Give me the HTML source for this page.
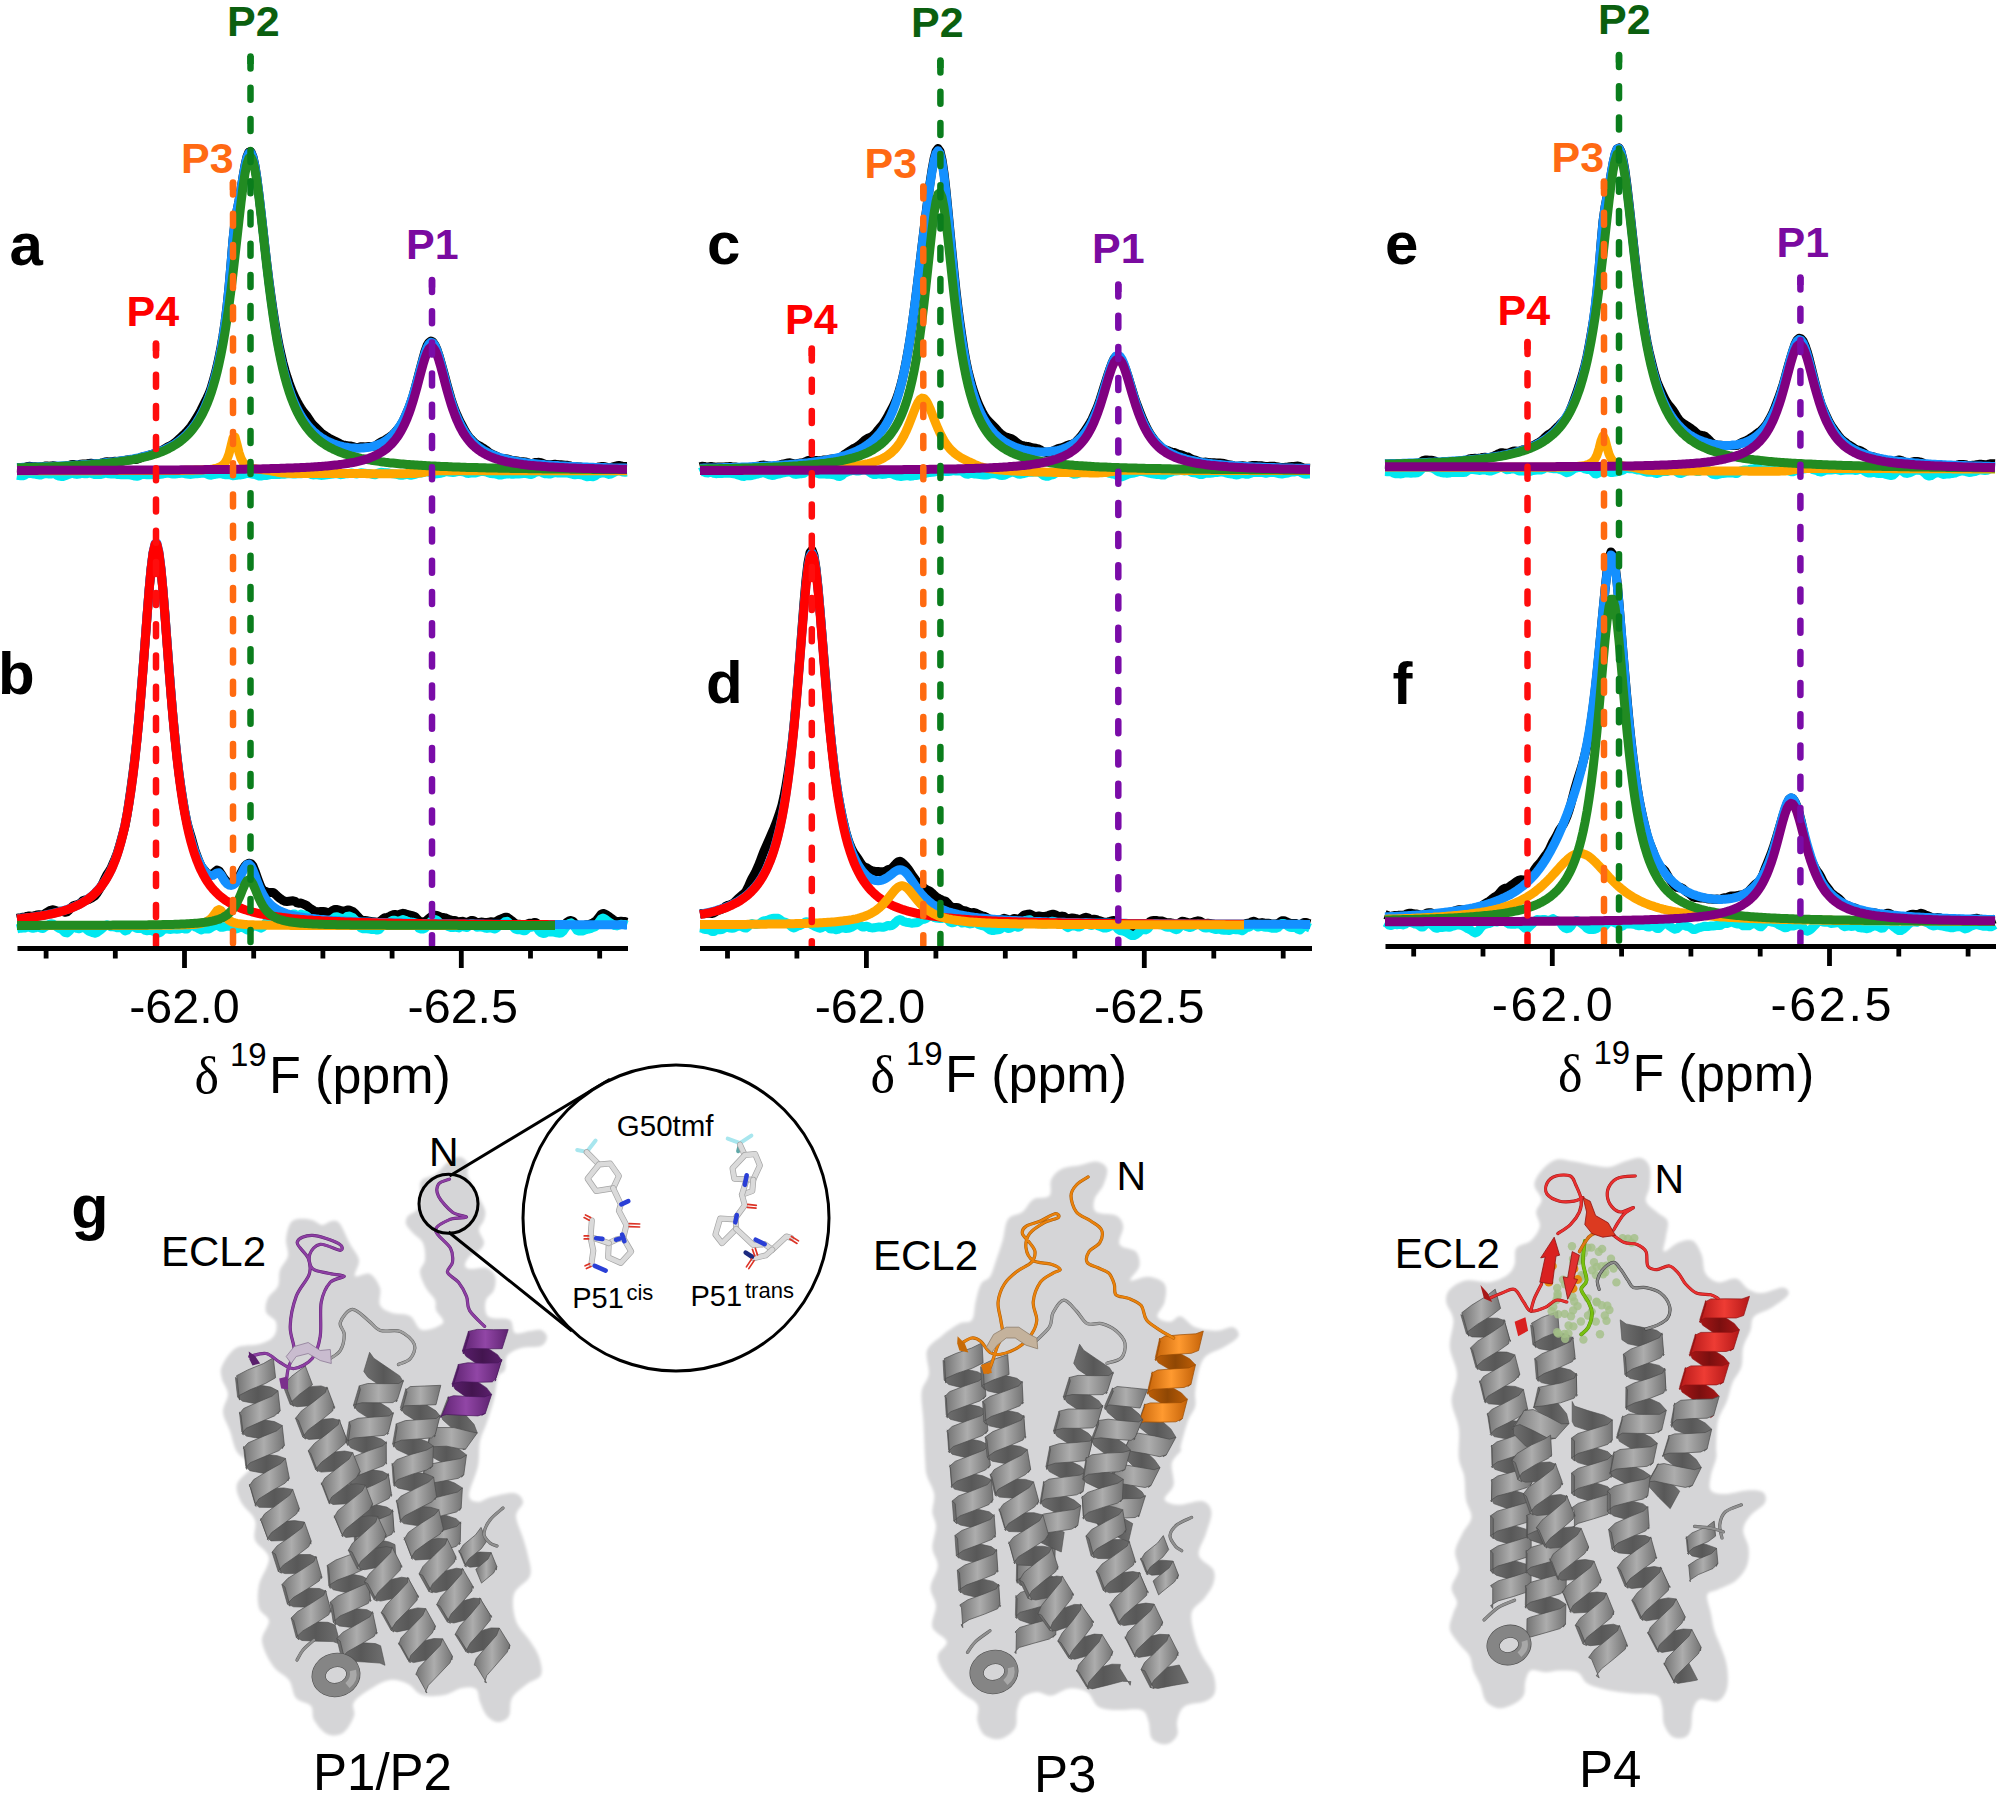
<!DOCTYPE html>
<html lang="en"><head><meta charset="utf-8"><title>Figure</title>
<style>html,body{margin:0;padding:0;background:#fff}svg{display:block}</style>
</head><body>
<svg width="2000" height="1796" viewBox="0 0 2000 1796" role="img" aria-label="19F NMR spectra and receptor models">
<rect width="2000" height="1796" fill="#fff"/>
<defs><filter id="soft" x="-5%" y="-5%" width="110%" height="110%"><feGaussianBlur stdDeviation="1.6"/></filter><linearGradient id="gyf" x1="0" y1="0" x2="1" y2="0"><stop offset="0" stop-color="#747474"/><stop offset="0.5" stop-color="#adadad"/><stop offset="1" stop-color="#747474"/></linearGradient><linearGradient id="gyfv" x1="0" y1="0" x2="0" y2="1"><stop offset="0" stop-color="#747474"/><stop offset="0.5" stop-color="#adadad"/><stop offset="1" stop-color="#747474"/></linearGradient><linearGradient id="gyb" x1="0" y1="0" x2="1" y2="0"><stop offset="0" stop-color="#707070"/><stop offset="0.5" stop-color="#585858"/><stop offset="1" stop-color="#707070"/></linearGradient><linearGradient id="gybv" x1="0" y1="0" x2="0" y2="1"><stop offset="0" stop-color="#707070"/><stop offset="0.5" stop-color="#585858"/><stop offset="1" stop-color="#707070"/></linearGradient><linearGradient id="puf" x1="0" y1="0" x2="1" y2="0"><stop offset="0" stop-color="#5e2270"/><stop offset="0.5" stop-color="#9146a6"/><stop offset="1" stop-color="#5e2270"/></linearGradient><linearGradient id="pufv" x1="0" y1="0" x2="0" y2="1"><stop offset="0" stop-color="#5e2270"/><stop offset="0.5" stop-color="#9146a6"/><stop offset="1" stop-color="#5e2270"/></linearGradient><linearGradient id="pub" x1="0" y1="0" x2="1" y2="0"><stop offset="0" stop-color="#5a1f6c"/><stop offset="0.5" stop-color="#43154f"/><stop offset="1" stop-color="#5a1f6c"/></linearGradient><linearGradient id="pubv" x1="0" y1="0" x2="0" y2="1"><stop offset="0" stop-color="#5a1f6c"/><stop offset="0.5" stop-color="#43154f"/><stop offset="1" stop-color="#5a1f6c"/></linearGradient><linearGradient id="ogf" x1="0" y1="0" x2="1" y2="0"><stop offset="0" stop-color="#c46208"/><stop offset="0.5" stop-color="#ff9a30"/><stop offset="1" stop-color="#c46208"/></linearGradient><linearGradient id="ogfv" x1="0" y1="0" x2="0" y2="1"><stop offset="0" stop-color="#c46208"/><stop offset="0.5" stop-color="#ff9a30"/><stop offset="1" stop-color="#c46208"/></linearGradient><linearGradient id="ogb" x1="0" y1="0" x2="1" y2="0"><stop offset="0" stop-color="#bd5e06"/><stop offset="0.5" stop-color="#8f4704"/><stop offset="1" stop-color="#bd5e06"/></linearGradient><linearGradient id="ogbv" x1="0" y1="0" x2="0" y2="1"><stop offset="0" stop-color="#bd5e06"/><stop offset="0.5" stop-color="#8f4704"/><stop offset="1" stop-color="#bd5e06"/></linearGradient><linearGradient id="rdf" x1="0" y1="0" x2="1" y2="0"><stop offset="0" stop-color="#b41818"/><stop offset="0.5" stop-color="#ee3c34"/><stop offset="1" stop-color="#b41818"/></linearGradient><linearGradient id="rdfv" x1="0" y1="0" x2="0" y2="1"><stop offset="0" stop-color="#b41818"/><stop offset="0.5" stop-color="#ee3c34"/><stop offset="1" stop-color="#b41818"/></linearGradient><linearGradient id="rdb" x1="0" y1="0" x2="1" y2="0"><stop offset="0" stop-color="#a81616"/><stop offset="0.5" stop-color="#7a0f0f"/><stop offset="1" stop-color="#a81616"/></linearGradient><linearGradient id="rdbv" x1="0" y1="0" x2="0" y2="1"><stop offset="0" stop-color="#a81616"/><stop offset="0.5" stop-color="#7a0f0f"/><stop offset="1" stop-color="#a81616"/></linearGradient></defs>
<path d="M290,1224C292,1220.5 294.3,1219.7 298,1219C301.7,1218.3 308,1219 312,1220C316,1221 318.7,1224.8 322,1225C325.3,1225.2 329,1221.2 332,1221C335,1220.8 337,1220.2 340,1224C343,1227.8 346.8,1238 350,1244C353.2,1250 358.2,1254.7 359,1260C359.8,1265.3 353.2,1273.7 355,1276C356.8,1278.3 365.8,1272 370,1274C374.2,1276 378.3,1282.8 380,1288C381.7,1293.2 378,1300.8 380,1305C382,1309.2 387,1311.2 392,1313C397,1314.8 405,1313.2 410,1316C415,1318.8 416.5,1328.8 422,1330C427.5,1331.2 440.7,1326.3 443,1323C445.3,1319.7 437.3,1313.8 436,1310C434.7,1306.2 436.7,1303.7 435,1300C433.3,1296.3 428.5,1292.7 426,1288C423.5,1283.3 420.2,1276.7 420,1272C419.8,1267.3 424.5,1264.8 425,1260C425.5,1255.2 425,1247.5 423,1243C421,1238.5 415.8,1236.2 413,1233C410.2,1229.8 406.8,1226.8 406,1224C405.2,1221.2 406.3,1218.2 408,1216C409.7,1213.8 414,1213 416,1211C418,1209 419.3,1207.5 420,1204C420.7,1200.5 419.7,1194 420,1190C420.3,1186 419.3,1182.7 422,1180C424.7,1177.3 431.7,1177 436,1174C440.3,1171 444,1164.8 448,1162C452,1159.2 456.7,1156.7 460,1157C463.3,1157.3 466.7,1160.8 468,1164C469.3,1167.2 466.3,1170.7 468,1176C469.7,1181.3 475.2,1190.3 478,1196C480.8,1201.7 484,1206 485,1210C486,1214 485,1216.7 484,1220C483,1223.3 479,1226.3 479,1230C479,1233.7 483.8,1238.7 484,1242C484.2,1245.3 482.3,1247.7 480,1250C477.7,1252.3 472.5,1253.5 470,1256C467.5,1258.5 465,1262.8 465,1265C465,1267.2 466.5,1268.5 470,1269C473.5,1269.5 481.8,1266.8 486,1268C490.2,1269.2 493.7,1272.3 495,1276C496.3,1279.7 495.5,1286 494,1290C492.5,1294 487.3,1296.2 486,1300C484.7,1303.8 485,1310 486,1313C487,1316 488,1316.8 492,1318C496,1319.2 506.2,1317.5 510,1320C513.8,1322.5 511.7,1331.2 515,1333C518.3,1334.8 525.7,1331.5 530,1331C534.3,1330.5 538.2,1329 541,1330C543.8,1331 547,1334.3 547,1337C547,1339.7 545.3,1344.2 541,1346C536.7,1347.8 526.7,1346.3 521,1348C515.3,1349.7 509.7,1352.3 507,1356C504.3,1359.7 506.5,1366.5 505,1370C503.5,1373.5 499.8,1372.2 498,1377C496.2,1381.8 495.8,1391.5 494,1399C492.2,1406.5 489.3,1415 487,1422C484.7,1429 481.5,1433.7 480,1441C478.5,1448.3 479.8,1457 478,1466C476.2,1475 469,1489 469,1495C469,1501 474.3,1501.7 478,1502C481.7,1502.3 485,1498.5 491,1497C497,1495.5 508.7,1492.2 514,1493C519.3,1493.8 522.7,1498.2 523,1502C523.3,1505.8 516,1510 516,1516C516,1522 521,1531.3 523,1538C525,1544.7 526.8,1549.7 528,1556C529.2,1562.3 532.3,1569.7 530,1576C527.7,1582.3 516.3,1586.5 514,1594C511.7,1601.5 513.3,1613.2 516,1621C518.7,1628.8 526.2,1635 530,1641C533.8,1647 537.2,1651.3 539,1657C540.8,1662.7 543,1670.5 541,1675C539,1679.5 531.8,1680.2 527,1684C522.2,1687.8 515,1692.7 512,1698C509,1703.3 511.3,1712 509,1716C506.7,1720 501.7,1722 498,1722C494.3,1722 490,1719.3 487,1716C484,1712.7 481.8,1706.5 480,1702C478.2,1697.5 479,1691.3 476,1689C473,1686.7 467.3,1687 462,1688C456.7,1689 450.7,1693.8 444,1695C437.3,1696.2 428,1696.8 422,1695C416,1693.2 413.3,1686.5 408,1684C402.7,1681.5 396,1679.3 390,1680C384,1680.7 378,1684.3 372,1688C366,1691.7 357,1697.3 354,1702C351,1706.7 355.8,1710.8 354,1716C352.2,1721.2 347.5,1730 343,1733C338.5,1736 331.8,1736.2 327,1734C322.2,1731.8 316.7,1724.7 314,1720C311.3,1715.3 314,1709.7 311,1706C308,1702.3 299.7,1702.3 296,1698C292.3,1693.7 292.8,1685.3 289,1680C285.2,1674.7 277.5,1672.5 273,1666C268.5,1659.5 262.7,1648.5 262,1641C261.3,1633.5 269.5,1626.5 269,1621C268.5,1615.5 260.7,1614 259,1608C257.3,1602 257.3,1593.3 259,1585C260.7,1576.7 269.7,1565.5 269,1558C268.3,1550.5 257.3,1546.3 255,1540C252.7,1533.7 257.3,1526.3 255,1520C252.7,1513.7 244,1508 241,1502C238,1496 235.3,1490 237,1484C238.7,1478 251,1471.3 251,1466C251,1460.7 240.5,1457.8 237,1452C233.5,1446.2 232.3,1437.7 230,1431C227.7,1424.3 223.3,1418.2 223,1412C222.7,1405.8 228.2,1399.5 228,1394C227.8,1388.5 223,1383.7 222,1379C221,1374.3 219.7,1371.2 222,1366C224.3,1360.8 229.7,1351.7 236,1348C242.3,1344.3 253.7,1346 260,1344C266.3,1342 271.3,1339.7 274,1336C276.7,1332.3 277.3,1326 276,1322C274.7,1318 267.3,1316 266,1312C264.7,1308 266,1302.3 268,1298C270,1293.7 276,1290.7 278,1286C280,1281.3 278.3,1275 280,1270C281.7,1265 287,1261 288,1256C289,1251 285.7,1245.3 286,1240C286.3,1234.7 288,1227.5 290,1224Z" fill="#d5d5d7" filter="url(#soft)"/>
<path d="M235.4,1377.4L240.4,1381.4L255.2,1384.3L270.9,1387.1L278,1390.8L275.4,1394.1L277.8,1414L280.2,1410.7L273.2,1406.9L257.5,1404.1L242.6,1401.2L237.6,1397.2Z" fill="url(#gyb)" stroke="#4c4c4c" stroke-width="0.6"/>
<path d="M239.4,1412.1L243.8,1416.2L258.4,1419L274.5,1421.6L282.2,1425.5L280.1,1428.8L282.2,1448.7L284.4,1445.3L276.9,1441.4L261,1438.8L246.3,1436.1L241.8,1432Z" fill="url(#gyb)" stroke="#4c4c4c" stroke-width="0.6"/>
<path d="M243.5,1446.5L247.3,1450.9L261.5,1453.7L277.4,1455.7L285.4,1458.4L283.7,1461.5L287.9,1481.1L289.3,1478L280.8,1475.4L264.4,1473.5L249.8,1470.7L245.7,1466.3Z" fill="url(#gyb)" stroke="#4c4c4c" stroke-width="0.6"/>
<path d="M249.3,1484.2L253.2,1488.2L267.4,1488.6L283.7,1487.9L292.7,1489.4L292,1492.7L298.7,1511.6L299.3,1508.3L290.1,1506.8L273.6,1507.6L259.1,1507.3L254.8,1503.4Z" fill="url(#gyb)" stroke="#4c4c4c" stroke-width="0.6"/>
<path d="M260.4,1518.7L264.1,1522.2L278.1,1521.8L294.6,1520.6L304.4,1522L304.2,1525.4L310.9,1544.2L311.1,1540.8L301.5,1539.4L285,1540.6L271,1540.9L267.3,1537.4Z" fill="url(#gyb)" stroke="#4c4c4c" stroke-width="0.6"/>
<path d="M272,1552.2L279,1554.5L294.8,1554.4L310.3,1554.6L316.7,1557.6L316,1559.4L321.5,1578.6L322.2,1576.8L316,1573.8L300.6,1573.6L284.9,1573.6L278.1,1571.2Z" fill="url(#gyb)" stroke="#4c4c4c" stroke-width="0.6"/>
<path d="M281.9,1584.6L288.3,1587.6L303.8,1588L319.5,1588.5L326.3,1591.4L325.7,1593.1L330.8,1612.5L331.4,1610.7L324.7,1607.8L309.1,1607.3L293.6,1606.8L287.3,1603.9Z" fill="url(#gyb)" stroke="#4c4c4c" stroke-width="0.6"/>
<path d="M291.1,1618L296.9,1621.2L312.1,1621.8L328,1622.3L335.1,1625L340.4,1644.3L333.1,1641.6L317.2,1641.2L302,1640.5L296.2,1637.3Z" fill="url(#gyb)" stroke="#4c4c4c" stroke-width="0.6"/>
<path d="M273.3,1357.8L263.4,1363.6L247.8,1369.9L236.6,1375.7L237.3,1380.2L239.5,1400.1L238.9,1395.6L250,1389.8L265.6,1383.4L275.6,1377.7Z" fill="url(#gyf)" stroke="#4c4c4c" stroke-width="0.7" stroke-linejoin="round"/>
<path d="M278,1390.8L272.2,1396L257.6,1402.3L243.6,1408.5L239.4,1413.7L240.9,1415L243.4,1434.9L241.9,1433.5L246,1428.4L259.9,1422.1L274.5,1415.9L280.2,1410.7Z" fill="url(#gyf)" stroke="#4c4c4c" stroke-width="0.7" stroke-linejoin="round"/>
<path d="M282.2,1425.5L277,1430.7L262.5,1436.7L248.2,1442.8L243.3,1448.1L244.6,1449.6L247,1469.4L245.6,1468L250.3,1462.7L264.5,1456.6L279,1450.6L284.4,1445.3Z" fill="url(#gyf)" stroke="#4c4c4c" stroke-width="0.7" stroke-linejoin="round"/>
<path d="M285.4,1458.4L280.9,1463.5L267.3,1471.2L253.7,1479.6L249.1,1486L250.5,1487.3L256.2,1506.4L254.8,1505.2L258.9,1498.9L272.1,1490.6L285.2,1483.1L289.3,1478Z" fill="url(#gyf)" stroke="#4c4c4c" stroke-width="0.7" stroke-linejoin="round"/>
<path d="M292.7,1489.4L289.7,1495.1L277.5,1504.3L264.7,1513.8L260.3,1520.3L261.5,1521.5L268.4,1540.3L267.2,1539.1L271.6,1532.6L284.4,1523.1L296.5,1514L299.3,1508.3Z" fill="url(#gyf)" stroke="#4c4c4c" stroke-width="0.7" stroke-linejoin="round"/>
<path d="M304.4,1522L302.1,1527.7L290.2,1536.8L277.1,1545.9L272,1552.2L275.4,1554.1L281.4,1573.2L278.1,1571.2L283.5,1564.9L296.8,1555.7L308.8,1546.6L311.1,1540.8Z" fill="url(#gyf)" stroke="#4c4c4c" stroke-width="0.7" stroke-linejoin="round"/>
<path d="M315.9,1556.2L313.9,1561.6L301.7,1569.8L287.9,1578.3L281.9,1584.6L284.9,1586.9L290.1,1606.2L287.3,1603.9L293.3,1597.6L307.2,1589L319.4,1580.8L321.5,1575.4Z" fill="url(#gyf)" stroke="#4c4c4c" stroke-width="0.7" stroke-linejoin="round"/>
<path d="M325.4,1590.1L323.7,1595.2L311.7,1603.1L297.6,1611.6L291.1,1618L293.6,1620.5L298.7,1639.8L296.2,1637.3L302.8,1630.9L316.9,1622.5L328.9,1614.6L330.6,1609.4Z" fill="url(#gyf)" stroke="#4c4c4c" stroke-width="0.7" stroke-linejoin="round"/>
<path d="M327.2,1565.4L331.7,1569.8L346.6,1573.1L362.4,1576.3L369.2,1580.1L368.4,1581.7L370.5,1601.6L371.2,1600L364.3,1596.2L348.3,1593.1L333.3,1589.7L328.8,1585.4Z" fill="url(#gyb)" stroke="#4c4c4c" stroke-width="0.6"/>
<path d="M330.1,1602.2L335.9,1606.3L351.4,1608.2L367,1609.7L373.2,1613L372.3,1614.7L376.6,1634.2L377.4,1632.5L371.1,1629.3L355.2,1627.9L339.4,1626L333.2,1621.9Z" fill="url(#gyb)" stroke="#4c4c4c" stroke-width="0.6"/>
<path d="M336.8,1638.6L343.9,1641.6L360,1642.5L375.5,1643.6L380.6,1645.8L385,1665.3L380,1663.1L364.7,1662L348.6,1661.1L341.5,1658Z" fill="url(#gyb)" stroke="#4c4c4c" stroke-width="0.6"/>
<path d="M364,1548.4L351.5,1554.2L335.7,1560.1L327.2,1565.4L328.7,1568.4L330.3,1588.4L328.8,1585.4L337.3,1580.1L353.1,1574.2L365.8,1568.3Z" fill="url(#gyf)" stroke="#4c4c4c" stroke-width="0.7" stroke-linejoin="round"/>
<path d="M368.3,1578.7L366.2,1583.4L353,1589.4L337.6,1596.1L330.1,1602.2L332.5,1605.2L335.9,1624.9L333.2,1621.9L340.2,1615.9L355.4,1609.3L368.4,1603.3L370.3,1598.6Z" fill="url(#gyf)" stroke="#4c4c4c" stroke-width="0.7" stroke-linejoin="round"/>
<path d="M372.5,1611.6L370,1616.7L357,1624.3L342.7,1632.4L336.8,1638.6L340.2,1641L344.9,1660.4L341.5,1658L347.2,1651.9L361.5,1643.8L374.3,1636.2L376.7,1631.1Z" fill="url(#gyf)" stroke="#4c4c4c" stroke-width="0.7" stroke-linejoin="round"/>
<path d="M369.6,1352.3L373.8,1358.2L386.8,1367.1L399.7,1375.9L403.3,1381.8L401.7,1382.8L395.8,1401.9L397.4,1400.9L393.6,1395L380.8,1386.1L367.9,1377.3L363.8,1371.4Z" fill="url(#gyb)" stroke="#4c4c4c" stroke-width="0.6"/>
<path d="M359.2,1385.9L363.1,1391.9L376.1,1400.3L389.3,1408.5L393.4,1414L392,1415.1L387.2,1434.6L388.6,1433.4L384.2,1427.8L370.8,1419.6L357.6,1411.1L353.5,1405Z" fill="url(#gyb)" stroke="#4c4c4c" stroke-width="0.6"/>
<path d="M349.1,1421.9L353.2,1427.9L367.1,1434.2L381.4,1439.1L386.7,1443L385.5,1444.3L386.1,1464.3L386.9,1463L380.9,1459.1L365.6,1454.1L350.8,1447.8L345.9,1441.7Z" fill="url(#gyb)" stroke="#4c4c4c" stroke-width="0.6"/>
<path d="M346.1,1462.5L351.6,1466.7L366.8,1469.1L382.4,1471.3L389,1475L388.4,1476.7L391.3,1496.5L392,1494.7L385.5,1491L369.9,1488.9L354.5,1486.5L348.6,1482.4Z" fill="url(#gyb)" stroke="#4c4c4c" stroke-width="0.6"/>
<path d="M351.1,1496.1L356.3,1500.3L371.3,1503.7L386.8,1507.1L393.3,1511.2L392.5,1512.8L394,1532.7L394.7,1531.1L388.3,1527L372.8,1523.6L357.8,1520.2L352.6,1516Z" fill="url(#gyb)" stroke="#4c4c4c" stroke-width="0.6"/>
<path d="M353.8,1530.8L358.8,1535L373.6,1538.5L389.2,1542L395,1544.6L396.5,1564.5L390.7,1561.9L375.1,1558.5L360.2,1555L355.2,1550.8Z" fill="url(#gyb)" stroke="#4c4c4c" stroke-width="0.6"/>
<path d="M403.5,1380.2L398.8,1383.5L384,1383.7L367.7,1383.5L359.2,1385.9L360.4,1389.5L354.9,1408.7L353.5,1405L361.9,1402.7L378.2,1402.8L392.9,1402.6L397.5,1399.3Z" fill="url(#gyf)" stroke="#4c4c4c" stroke-width="0.7" stroke-linejoin="round"/>
<path d="M393.4,1412.6L389.1,1415.9L374.4,1417L357.8,1418.3L349.1,1421.9L350.4,1425.7L347.8,1445.6L345.9,1441.7L354,1438L370.1,1436.6L384.5,1435.3L388.5,1431.9Z" fill="url(#gyf)" stroke="#4c4c4c" stroke-width="0.7" stroke-linejoin="round"/>
<path d="M386.3,1441.7L383,1445.7L369.1,1450.6L353.5,1456.7L346.1,1462.5L348.4,1465.5L351.1,1485.3L348.6,1482.4L355.6,1476.6L370.6,1470.6L383.7,1465.6L386.3,1461.7Z" fill="url(#gyf)" stroke="#4c4c4c" stroke-width="0.7" stroke-linejoin="round"/>
<path d="M388.2,1473.5L386.2,1478.6L373.5,1485.1L358.6,1491.2L351.1,1496.1L353.2,1499L354.7,1518.9L352.6,1516L360.4,1511.1L376,1504.9L389.1,1498.4L391.3,1493.3Z" fill="url(#gyf)" stroke="#4c4c4c" stroke-width="0.7" stroke-linejoin="round"/>
<path d="M392.5,1509.7L390.3,1514.5L377.1,1520L361.6,1525.7L353.8,1530.8L355.7,1533.8L357.1,1553.7L355.2,1550.8L363.1,1545.7L378.6,1540L391.7,1534.4L394,1529.7Z" fill="url(#gyf)" stroke="#4c4c4c" stroke-width="0.7" stroke-linejoin="round"/>
<path d="M468.4,1331.4L471.8,1337.2L484.5,1345.9L497.6,1354.7L502.1,1360.9L500.8,1362.1L494.9,1381.2L496.2,1380L491.7,1373.8L478.5,1365L465.9,1356.3L462.5,1350.5Z" fill="url(#pub)" stroke="#46175a" stroke-width="0.6"/>
<path d="M458.3,1364.5L461.1,1370.2L473.4,1378.9L486.7,1387.9L491.6,1394.4L488.1,1396.5L481.7,1415.5L485.3,1413.4L480.5,1407L467.3,1397.9L455,1389.2L452.2,1383.6Z" fill="url(#pub)" stroke="#46175a" stroke-width="0.6"/>
<path d="M448.3,1396.6L450.9,1401.5L462.5,1411.6L474,1424.3L477.3,1432.9L473.8,1432.9L462.9,1449.7L465.6,1449.1L463,1441L453,1429.1L442.7,1419.8L441.1,1415.2Z" fill="url(#gyb)" stroke="#4c4c4c" stroke-width="0.6"/>
<path d="M431.1,1429.7L432.7,1435.4L445,1442.7L459.6,1449.6L466.5,1454.9L464.1,1457.4L461.6,1477.3L463.8,1474.7L456.5,1469.3L441.5,1462.3L428.6,1455L426.3,1449.1Z" fill="url(#gyb)" stroke="#4c4c4c" stroke-width="0.6"/>
<path d="M424.2,1466.6L426.3,1471.5L439.3,1477.3L454.6,1483L462.4,1487.9L460.6,1490.7L459.6,1510.6L461.2,1507.9L453,1503L437.5,1497.2L424.5,1491.4L422.3,1486.6Z" fill="url(#gyb)" stroke="#4c4c4c" stroke-width="0.6"/>
<path d="M420.5,1504.1L426.6,1508.9L441.7,1513.9L456.1,1518.7L460.9,1523.3L459.5,1524.8L459.1,1544.8L460.5,1543.3L455.7,1538.7L441.2,1533.8L426.1,1528.9L419.9,1524.1Z" fill="url(#gyb)" stroke="#4c4c4c" stroke-width="0.6"/>
<path d="M508.2,1329.6L493.7,1329.7L477.3,1329.4L468.4,1331.4L469.3,1334.9L463.4,1354L462.5,1350.5L471.3,1348.5L487.7,1348.8L502.1,1348.7Z" fill="url(#puf)" stroke="#46175a" stroke-width="0.7" stroke-linejoin="round"/>
<path d="M501.9,1359.2L498.2,1362.8L484.1,1363.2L467.6,1362.8L458.3,1364.5L458.8,1367.9L452.7,1386.9L452.2,1383.6L461.6,1381.8L478.1,1382.3L492.3,1381.9L496,1378.3Z" fill="url(#puf)" stroke="#46175a" stroke-width="0.7" stroke-linejoin="round"/>
<path d="M491.6,1394.4L484.4,1396.9L468.6,1396.4L453.5,1395.7L447.9,1397.6L448.8,1399.3L440.9,1417.7L440.3,1416.2L446.6,1414.5L462.1,1415.3L478,1415.9L485.3,1413.4Z" fill="url(#puf)" stroke="#46175a" stroke-width="0.7" stroke-linejoin="round"/>
<path d="M477.3,1432.9L470.2,1431.6L454,1427.6L437.2,1427.5L430.1,1431.3L430.7,1433.2L426.4,1452.7L425.6,1450.8L431.8,1446.8L446.6,1446.2L460.2,1448.9L465.6,1449.1Z" fill="url(#gyf)" stroke="#4c4c4c" stroke-width="0.7" stroke-linejoin="round"/>
<path d="M466.5,1454.9L460.8,1458.5L445.6,1461.2L430,1464.1L423.5,1468.1L424.2,1469.8L422.3,1489.7L421.5,1488L428,1484L443.4,1481L458.4,1478.3L463.8,1474.7Z" fill="url(#gyf)" stroke="#4c4c4c" stroke-width="0.7" stroke-linejoin="round"/>
<path d="M462.4,1487.9L457.6,1492L442.9,1495.8L427.4,1499.7L420.5,1504.1L423.2,1507.3L422.7,1527.3L419.9,1524.1L426.7,1519.7L442.1,1515.7L456.6,1511.9L461.2,1507.9Z" fill="url(#gyf)" stroke="#4c4c4c" stroke-width="0.7" stroke-linejoin="round"/>
<path d="M460.7,1521.8L456.8,1526.3L442.6,1530.5L427,1534.6L426.4,1554.6L442.1,1550.5L456.4,1546.3L460.3,1541.8Z" fill="url(#gyf)" stroke="#4c4c4c" stroke-width="0.7" stroke-linejoin="round"/>
<path d="M283.1,1385.8L290.1,1388L305.6,1386.9L321.1,1385.9L327.8,1388.2L327.3,1390L334.4,1408.6L334.9,1406.8L328.2,1404.6L312.8,1405.6L297.2,1406.7L290.2,1404.5Z" fill="url(#gyb)" stroke="#4c4c4c" stroke-width="0.6"/>
<path d="M295.5,1418.3L301.8,1420.7L317,1419.7L332.8,1418.5L340.2,1420.5L339.9,1422.2L347.2,1440.8L347.4,1439.1L340,1437.2L324.2,1438.4L308.9,1439.4L302.7,1436.9Z" fill="url(#gyb)" stroke="#4c4c4c" stroke-width="0.6"/>
<path d="M308.2,1450.8L313.7,1453.5L328.6,1452.5L344.6,1451L352.7,1452.6L351.5,1456.4L358.9,1475L360.1,1471.2L352,1469.5L336,1471.1L321.1,1472.1L315.5,1469.4Z" fill="url(#gyb)" stroke="#4c4c4c" stroke-width="0.6"/>
<path d="M321.1,1482.8L325.8,1485.9L340.4,1485.1L356.6,1483.7L365.3,1485.1L364.5,1488.6L371.9,1507.2L372.6,1503.7L363.8,1502.4L347.5,1503.8L333,1504.5L328.3,1501.5Z" fill="url(#gyb)" stroke="#4c4c4c" stroke-width="0.6"/>
<path d="M334,1515.7L338.1,1519L352.1,1518L368.3,1515.8L377.7,1516.4L377.6,1519.6L386,1537.8L386,1534.6L376.5,1534L360.1,1536.3L345.9,1537.4L341.7,1534.1Z" fill="url(#gyb)" stroke="#4c4c4c" stroke-width="0.6"/>
<path d="M348.3,1550.3L355.7,1551.9L371.1,1549.2L386.2,1546.5L392.8,1548L392.4,1549.9L401.7,1567.6L402.1,1565.8L395.4,1564.2L380.2,1567L364.7,1569.7L357.2,1568.3Z" fill="url(#gyb)" stroke="#4c4c4c" stroke-width="0.6"/>
<path d="M364.4,1581.9L371.2,1583.5L386.2,1580.5L401.6,1577.2L409,1578.3L408.9,1580.1L418.5,1597.6L418.6,1595.8L411.2,1594.8L395.8,1598L380.7,1601.1L373.9,1599.5Z" fill="url(#gyb)" stroke="#4c4c4c" stroke-width="0.6"/>
<path d="M381.2,1612.6L387.3,1614.4L402,1611.4L417.6,1607.9L425.7,1608.6L424.8,1612.5L434.6,1630L435.4,1626L427.4,1625.3L411.8,1628.9L397,1631.9L390.9,1630.1Z" fill="url(#gyb)" stroke="#4c4c4c" stroke-width="0.6"/>
<path d="M398.3,1642.9L403.7,1645.1L418.1,1642.2L433.9,1638.5L442.6,1638.8L442.2,1642.5L452,1659.9L452.4,1656.2L443.7,1656L427.9,1659.7L413.5,1662.6L408.1,1660.4Z" fill="url(#gyb)" stroke="#4c4c4c" stroke-width="0.6"/>
<path d="M305.3,1366L291.9,1376L283.5,1384.1L286.5,1387.8L293.6,1406.4L290.6,1402.7L299,1394.7L312.5,1384.7Z" fill="url(#gyf)" stroke="#4c4c4c" stroke-width="0.7" stroke-linejoin="round"/>
<path d="M326.9,1386.9L325.5,1392.3L314.2,1401.4L301.2,1411.2L295.5,1418.3L298.4,1420.4L305.6,1439.1L302.7,1436.9L308.3,1429.9L321.4,1420.1L332.6,1411L334,1405.6Z" fill="url(#gyf)" stroke="#4c4c4c" stroke-width="0.7" stroke-linejoin="round"/>
<path d="M339,1419.3L338.4,1424.4L327.6,1433.4L314.5,1443.4L308.2,1450.8L310.5,1453.1L317.9,1471.7L315.5,1469.4L321.7,1462.1L334.9,1452.1L345.6,1443L346.2,1438Z" fill="url(#gyf)" stroke="#4c4c4c" stroke-width="0.7" stroke-linejoin="round"/>
<path d="M352.7,1452.6L349,1459.1L336.7,1468.7L324.6,1478.3L321.3,1484.4L322.9,1485.4L330.1,1504L328.5,1503L331.8,1496.9L344,1487.4L356.3,1477.7L360.1,1471.2Z" fill="url(#gyf)" stroke="#4c4c4c" stroke-width="0.7" stroke-linejoin="round"/>
<path d="M365.3,1485.1L362.2,1491.1L350.2,1500.8L337.9,1510.7L334,1517.4L335.4,1518.5L343.1,1536.9L341.7,1535.8L345.5,1529.2L357.7,1519.3L369.6,1509.7L372.6,1503.7Z" fill="url(#gyf)" stroke="#4c4c4c" stroke-width="0.7" stroke-linejoin="round"/>
<path d="M377.7,1516.4L375.6,1522.2L364.5,1532.3L352.5,1543.1L348.3,1550.3L352,1552L360.9,1569.9L357.2,1568.3L361.2,1561.1L373,1550.4L384,1540.3L386,1534.6Z" fill="url(#gyf)" stroke="#4c4c4c" stroke-width="0.7" stroke-linejoin="round"/>
<path d="M391.9,1546.9L390.8,1552.4L380.6,1562.9L369,1574.3L364.4,1581.9L367.7,1583.6L377.2,1601.2L373.9,1599.5L378.4,1591.9L390,1580.6L400.2,1570.1L401.1,1564.6Z" fill="url(#gyf)" stroke="#4c4c4c" stroke-width="0.7" stroke-linejoin="round"/>
<path d="M407.7,1577.3L407.6,1582.5L397.9,1593L386.3,1604.6L381.2,1612.6L384,1614.5L393.8,1632L390.9,1630.1L396,1622.1L407.6,1610.5L417.2,1600L417.4,1594.8Z" fill="url(#gyf)" stroke="#4c4c4c" stroke-width="0.7" stroke-linejoin="round"/>
<path d="M425.7,1608.6L422.6,1615.5L411.6,1626.8L401,1637.9L398.8,1644.4L400.7,1645.1L410.5,1662.5L408.7,1661.8L410.8,1655.4L421.4,1644.3L432.3,1632.9L435.4,1626Z" fill="url(#gyf)" stroke="#4c4c4c" stroke-width="0.7" stroke-linejoin="round"/>
<path d="M442.6,1638.8L440.2,1645.4L429.5,1656.6L418.7,1667.8L415.8,1674.5L417.3,1675.4L427,1692.9L425.5,1692L428.4,1685.3L439.3,1674L450,1662.8L452.4,1656.2Z" fill="url(#gyf)" stroke="#4c4c4c" stroke-width="0.7" stroke-linejoin="round"/>
<path d="M405.9,1388.5L409.7,1394.3L422.7,1402.6L435.9,1410.8L440.4,1416.5L439.1,1417.6L434.2,1437L435.5,1435.9L430.8,1430.2L417.4,1421.9L404.3,1413.6L400.4,1407.7Z" fill="url(#gyb)" stroke="#4c4c4c" stroke-width="0.6"/>
<path d="M396.2,1423.9L399.6,1429.6L412.9,1436.2L427.3,1441.7L433.4,1446.1L430.3,1448.7L430,1468.7L432.7,1466.1L426.1,1461.7L410.8,1456.1L396.7,1449.4L392.7,1443.6Z" fill="url(#gyb)" stroke="#4c4c4c" stroke-width="0.6"/>
<path d="M392,1463.3L396,1468L410.2,1471.3L426,1473.8L433.6,1477L431.6,1480.1L434.9,1499.8L436.6,1496.7L428.7,1493.6L412.5,1491.2L397.8,1487.9L393.3,1483.3Z" fill="url(#gyb)" stroke="#4c4c4c" stroke-width="0.6"/>
<path d="M396.3,1500.1L400.2,1503.9L414.4,1506L430.5,1507.3L438.8,1509.7L437.5,1512.7L442.5,1532L443.4,1529.1L434.5,1526.9L418.1,1525.7L403.7,1523.6L399.9,1519.8Z" fill="url(#gyb)" stroke="#4c4c4c" stroke-width="0.6"/>
<path d="M404.1,1537.5L407.8,1541.5L421.7,1540.9L437.8,1538.5L447.2,1538.8L447.2,1541.9L456.1,1559.8L455.9,1556.8L446.2,1556.7L429.6,1559.2L415.3,1560L411.1,1556.3Z" fill="url(#gyb)" stroke="#4c4c4c" stroke-width="0.6"/>
<path d="M419,1573.9L426.3,1575.2L441.5,1571.7L456.5,1568.2L463.3,1569.3L463.1,1571.2L473.3,1588.4L473.5,1586.5L466.6,1585.4L451.5,1589L436.2,1592.5L428.8,1591.4Z" fill="url(#gyb)" stroke="#4c4c4c" stroke-width="0.6"/>
<path d="M436.7,1604.6L443.4,1605.9L458.3,1602.1L473.5,1598.1L481,1598.7L481.1,1600.5L491.6,1617.5L491.6,1615.7L484,1615.1L468.8,1619.2L453.9,1623L447.1,1621.7Z" fill="url(#gyb)" stroke="#4c4c4c" stroke-width="0.6"/>
<path d="M455.1,1634.4L461.2,1636L475.7,1632.2L491.1,1627.9L499.3,1628.1L498.7,1632.1L509.3,1649L509.9,1645.1L501.8,1644.8L486.3,1649.2L471.8,1652.9L465.7,1651.4Z" fill="url(#gyb)" stroke="#4c4c4c" stroke-width="0.6"/>
<path d="M440.8,1385.3L424.7,1386L410.2,1386.6L405.8,1390L407.1,1392L401.7,1411.2L400.4,1409.3L404.8,1405.8L419.4,1405.3L436,1404.7Z" fill="url(#gyf)" stroke="#4c4c4c" stroke-width="0.7" stroke-linejoin="round"/>
<path d="M440.3,1415L436.4,1418.4L422,1419.5L405.4,1420.6L396.2,1423.9L397.1,1427.5L393.9,1447.2L392.7,1443.6L401.4,1440.2L417.6,1439L431.6,1437.9L435.3,1434.3Z" fill="url(#gyf)" stroke="#4c4c4c" stroke-width="0.7" stroke-linejoin="round"/>
<path d="M433.4,1446.1L426.8,1450L411.3,1454.4L396.7,1459.7L391.9,1465L393.2,1466.6L394.9,1486.5L393.4,1485L397.6,1479.7L411.8,1474.4L426.6,1470L432.7,1466.1Z" fill="url(#gyf)" stroke="#4c4c4c" stroke-width="0.7" stroke-linejoin="round"/>
<path d="M433.6,1477L428.6,1482.1L414.6,1489.1L400.8,1496.3L396.2,1501.6L397.5,1502.9L401,1522.6L399.7,1521.3L404.5,1516L418.3,1508.7L432,1501.8L436.6,1496.7Z" fill="url(#gyf)" stroke="#4c4c4c" stroke-width="0.7" stroke-linejoin="round"/>
<path d="M438.8,1509.7L434.8,1514.7L421.7,1523L408.4,1532.4L404,1539.4L405.2,1540.7L412.6,1559.3L411.1,1558.1L415,1551.3L427.6,1542.1L440.1,1534L443.4,1529.1Z" fill="url(#gyf)" stroke="#4c4c4c" stroke-width="0.7" stroke-linejoin="round"/>
<path d="M447.2,1538.8L445.3,1544.4L434.5,1554.9L423,1566.4L419,1573.9L422.7,1575.4L432.5,1592.8L428.8,1591.4L432.6,1583.9L443.9,1572.6L454.3,1562.3L455.9,1556.8Z" fill="url(#gyf)" stroke="#4c4c4c" stroke-width="0.7" stroke-linejoin="round"/>
<path d="M462.3,1568.2L461.7,1573.7L452.1,1584.7L441,1596.7L436.7,1604.6L440,1606.2L450.4,1623.3L447.1,1621.7L451.3,1613.8L462.4,1601.9L471.9,1590.9L472.4,1585.4Z" fill="url(#gyf)" stroke="#4c4c4c" stroke-width="0.7" stroke-linejoin="round"/>
<path d="M479.7,1597.8L479.9,1603L470.9,1613.9L459.8,1626.1L455.1,1634.4L458,1636.2L468.6,1653.1L465.7,1651.4L470.4,1643.1L481.5,1630.8L490.4,1620L490.2,1614.8Z" fill="url(#gyf)" stroke="#4c4c4c" stroke-width="0.7" stroke-linejoin="round"/>
<path d="M499.3,1628.1L496.6,1635.2L486.2,1647L476.2,1658.6L474.2,1665.1L476,1665.7L486.5,1682.7L484.7,1682.1L486.7,1675.6L496.8,1664L507.2,1652.1L509.9,1645.1Z" fill="url(#gyf)" stroke="#4c4c4c" stroke-width="0.7" stroke-linejoin="round"/>
<path d="M458.7,1550.4L464.2,1553.3L479.9,1552L491.1,1552.6L490.7,1556.2L496.4,1570.1L496.8,1566.5L485.6,1565.9L469.9,1567.2L464.4,1564.3Z" fill="url(#gyb)" stroke="#4c4c4c" stroke-width="0.6"/>
<path d="M481,1527.4L475.6,1534.8L463.2,1545.1L458.8,1552.1L460.7,1553L466.4,1566.9L464.5,1565.9L468.9,1558.9L481.3,1548.7L486.7,1541.2Z" fill="url(#gyf)" stroke="#4c4c4c" stroke-width="0.7" stroke-linejoin="round"/>
<path d="M491.1,1552.6L488,1559L475.8,1569.3L481.5,1583.1L493.7,1572.9L496.8,1566.5Z" fill="url(#gyf)" stroke="#4c4c4c" stroke-width="0.7" stroke-linejoin="round"/>
<g transform="translate(336,1675) rotate(-15)">
<ellipse rx="17.5" ry="14.9" fill="none" stroke="#4c4c4c" stroke-width="14.2"/>
<ellipse rx="17.5" ry="14.9" fill="none" stroke="#858585" stroke-width="13"/>
<ellipse rx="17.5" ry="14.9" fill="none" stroke="#a8a8a8" stroke-width="6.5" stroke-dasharray="28.8 120" stroke-dashoffset="12"/>
</g>
<path d="M249.7,1356.5C252.4,1356 261.1,1352.5 266.1,1353.5C271.2,1354.5 275.5,1360 280.2,1362.5C284.8,1365 288.8,1369.2 294.2,1368.5C299.5,1367.8 307.9,1363.8 312.2,1358.5C316.6,1353.2 318.7,1345.8 320.2,1336.5C321.7,1327.1 319.6,1311.4 321.2,1302.4C322.9,1293.4 326.4,1286.7 330.3,1282.3C334.1,1278 344.6,1277.8 344.3,1276.3C344,1274.8 333.6,1274.7 328.3,1273.3C322.9,1272 315.3,1271.5 312.2,1268.3C309.2,1265.1 308.5,1258.3 309.8,1254.3C311.2,1250.3 315.2,1244.9 320.2,1244.3C325.3,1243.6 337.3,1250.4 340.3,1250.3C343.3,1250.1 343,1245.8 338.3,1243.3C333.6,1240.8 319.1,1235.4 312.2,1235.3C305.4,1235.1 297.9,1238.4 297.2,1242.3C296.5,1246.1 306.2,1253 308.2,1258.3C310.2,1263.6 311.2,1268 309.2,1274.3C307.2,1280.7 299.4,1287.7 296.2,1296.4C293,1305.1 290.5,1317.4 290.2,1326.4C289.8,1335.5 294.5,1343.5 294.2,1350.5C293.9,1357.5 289.5,1362.8 288.2,1368.5C286.8,1374.2 286.5,1381.9 286.2,1384.5" fill="none" stroke="#5f2273" stroke-width="3.1999999999999997" stroke-linecap="round" stroke-linejoin="round"/>
<path d="M249.7,1356.5C252.4,1356 261.1,1352.5 266.1,1353.5C271.2,1354.5 275.5,1360 280.2,1362.5C284.8,1365 288.8,1369.2 294.2,1368.5C299.5,1367.8 307.9,1363.8 312.2,1358.5C316.6,1353.2 318.7,1345.8 320.2,1336.5C321.7,1327.1 319.6,1311.4 321.2,1302.4C322.9,1293.4 326.4,1286.7 330.3,1282.3C334.1,1278 344.6,1277.8 344.3,1276.3C344,1274.8 333.6,1274.7 328.3,1273.3C322.9,1272 315.3,1271.5 312.2,1268.3C309.2,1265.1 308.5,1258.3 309.8,1254.3C311.2,1250.3 315.2,1244.9 320.2,1244.3C325.3,1243.6 337.3,1250.4 340.3,1250.3C343.3,1250.1 343,1245.8 338.3,1243.3C333.6,1240.8 319.1,1235.4 312.2,1235.3C305.4,1235.1 297.9,1238.4 297.2,1242.3C296.5,1246.1 306.2,1253 308.2,1258.3C310.2,1263.6 311.2,1268 309.2,1274.3C307.2,1280.7 299.4,1287.7 296.2,1296.4C293,1305.1 290.5,1317.4 290.2,1326.4C289.8,1335.5 294.5,1343.5 294.2,1350.5C293.9,1357.5 289.5,1362.8 288.2,1368.5C286.8,1374.2 286.5,1381.9 286.2,1384.5" fill="none" stroke="#8d3fa3" stroke-width="2.3" stroke-linecap="round" stroke-linejoin="round"/>
<path d="M449.5,1179.1C447.7,1180 440.3,1181.3 438.5,1184.1C436.6,1187 436.1,1191.5 438.5,1196.2C440.8,1200.8 447.8,1208.7 452.5,1212.2C457.2,1215.7 466.9,1216 466.5,1217.2C466.2,1218.4 455.7,1217 450.5,1219.2C445.3,1221.4 435.5,1225.4 435.5,1230.2C435.5,1235.1 447.7,1242.9 450.5,1248.3C453.3,1253.6 453,1258.3 452.5,1262.3C452,1266.3 446.5,1269 447.5,1272.3C448.5,1275.7 455.3,1278.3 458.5,1282.3C461.7,1286.4 464.7,1291.7 466.5,1296.4C468.4,1301 466.5,1305.4 469.5,1310.4C472.5,1315.4 482.1,1323.8 484.6,1326.4" fill="none" stroke="#5f2273" stroke-width="3.1999999999999997" stroke-linecap="round" stroke-linejoin="round"/>
<path d="M449.5,1179.1C447.7,1180 440.3,1181.3 438.5,1184.1C436.6,1187 436.1,1191.5 438.5,1196.2C440.8,1200.8 447.8,1208.7 452.5,1212.2C457.2,1215.7 466.9,1216 466.5,1217.2C466.2,1218.4 455.7,1217 450.5,1219.2C445.3,1221.4 435.5,1225.4 435.5,1230.2C435.5,1235.1 447.7,1242.9 450.5,1248.3C453.3,1253.6 453,1258.3 452.5,1262.3C452,1266.3 446.5,1269 447.5,1272.3C448.5,1275.7 455.3,1278.3 458.5,1282.3C461.7,1286.4 464.7,1291.7 466.5,1296.4C468.4,1301 466.5,1305.4 469.5,1310.4C472.5,1315.4 482.1,1323.8 484.6,1326.4" fill="none" stroke="#8d3fa3" stroke-width="2.3" stroke-linecap="round" stroke-linejoin="round"/>
<path d="M330.3,1358.5C331.9,1357.2 337.9,1354.5 340.3,1350.5C342.6,1346.5 344.3,1339.1 344.3,1334.4C344.3,1329.8 338.9,1326.6 340.3,1322.4C341.6,1318.2 347.6,1309.7 352.3,1309.4C357,1309.1 363.7,1316.9 368.3,1320.4C373,1323.9 375,1328.6 380.4,1330.4C385.7,1332.3 394.7,1329.1 400.4,1331.4C406.1,1333.8 412.8,1340 414.4,1344.5C416.1,1349 413.1,1355.2 410.4,1358.5C407.7,1361.8 400.4,1363.5 398.4,1364.5" fill="none" stroke="#5c5c5c" stroke-width="3.1999999999999997" stroke-linecap="round" stroke-linejoin="round"/>
<path d="M330.3,1358.5C331.9,1357.2 337.9,1354.5 340.3,1350.5C342.6,1346.5 344.3,1339.1 344.3,1334.4C344.3,1329.8 338.9,1326.6 340.3,1322.4C341.6,1318.2 347.6,1309.7 352.3,1309.4C357,1309.1 363.7,1316.9 368.3,1320.4C373,1323.9 375,1328.6 380.4,1330.4C385.7,1332.3 394.7,1329.1 400.4,1331.4C406.1,1333.8 412.8,1340 414.4,1344.5C416.1,1349 413.1,1355.2 410.4,1358.5C407.7,1361.8 400.4,1363.5 398.4,1364.5" fill="none" stroke="#a0a0a0" stroke-width="2.3" stroke-linecap="round" stroke-linejoin="round"/>
<path d="M286.2,1356.5L294.2,1346.5L308.2,1342.5L320.2,1350.5L330.3,1349.5L331.3,1363.5L320.2,1360.5L308.2,1353.5L296.2,1356.5L291.2,1363.5Z" fill="#c9bccf" stroke="#8d7a96" stroke-width="0.8"/>
<path d="M248.7,1351.5L255.1,1356.1L260.1,1363.5L252.5,1365.5L249.5,1359.5Z" fill="#5a1f6c"/>
<path d="M279.2,1378.5L287.2,1376.5L288.2,1389.6L281.2,1388.6Z" fill="#7b2f8c"/>
<path d="M503,1508C500.8,1510 493.2,1515.7 490,1520C486.8,1524.3 484,1530.2 484,1534C484,1537.8 487.8,1541 490,1543C492.2,1545 495.8,1545.5 497,1546" fill="none" stroke="#5c5c5c" stroke-width="3.1999999999999997" stroke-linecap="round" stroke-linejoin="round"/>
<path d="M503,1508C500.8,1510 493.2,1515.7 490,1520C486.8,1524.3 484,1530.2 484,1534C484,1537.8 487.8,1541 490,1543C492.2,1545 495.8,1545.5 497,1546" fill="none" stroke="#909090" stroke-width="2.3" stroke-linecap="round" stroke-linejoin="round"/>
<path d="M314,1640C312.2,1641.7 305.8,1646.7 303,1650C300.2,1653.3 298,1658.3 297,1660" fill="none" stroke="#5c5c5c" stroke-width="3.1999999999999997" stroke-linecap="round" stroke-linejoin="round"/>
<path d="M314,1640C312.2,1641.7 305.8,1646.7 303,1650C300.2,1653.3 298,1658.3 297,1660" fill="none" stroke="#909090" stroke-width="2.3" stroke-linecap="round" stroke-linejoin="round"/>
<circle cx="448.5" cy="1203.8" r="29.5" fill="none" stroke="#000" stroke-width="3"/>
<path d="M449.5,1176 L610,1079.3 M448.5,1232 L572,1331" stroke="#000" stroke-width="3" fill="none"/>
<circle cx="676" cy="1218" r="153" fill="#fff" stroke="#000" stroke-width="3"/>
<path d="M586.7,1151.9 L577.2,1150" stroke="#a8e6ee" stroke-width="4" stroke-linecap="round" fill="none"/>
<path d="M586.7,1151.9 L595.6,1140.5" stroke="#a8e6ee" stroke-width="4" stroke-linecap="round" fill="none"/>
<path d="M586.7,1151.9 L591,1156.4" stroke="#a8e6ee" stroke-width="4" stroke-linecap="round" fill="none"/>
<path d="M586.7,1152.2L599,1164.5" fill="none" stroke="#a4a4a4" stroke-width="6.0" stroke-linecap="round" stroke-linejoin="round"/>
<path d="M586.7,1152.2L599,1164.5" fill="none" stroke="#dadada" stroke-width="4.6" stroke-linecap="round" stroke-linejoin="round"/>
<path d="M599,1164.5L610.3,1163.6L618.9,1175.9L613.2,1188.2L596.1,1191L587.6,1178.7L599,1164.5" fill="none" stroke="#a4a4a4" stroke-width="6.0" stroke-linecap="round" stroke-linejoin="round"/>
<path d="M599,1164.5L610.3,1163.6L618.9,1175.9L613.2,1188.2L596.1,1191L587.6,1178.7L599,1164.5" fill="none" stroke="#dadada" stroke-width="4.6" stroke-linecap="round" stroke-linejoin="round"/>
<path d="M613.2,1188.2L620.8,1204.3L618.9,1210.9L626.4,1225.1L623.6,1236.5" fill="none" stroke="#a4a4a4" stroke-width="6.0" stroke-linecap="round" stroke-linejoin="round"/>
<path d="M613.2,1188.2L620.8,1204.3L618.9,1210.9L626.4,1225.1L623.6,1236.5" fill="none" stroke="#dadada" stroke-width="4.6" stroke-linecap="round" stroke-linejoin="round"/>
<path d="M621.3,1204.3 L628.3,1201.1" stroke="#2a3fd6" stroke-width="4.6" stroke-linecap="round" fill="none"/>
<path d="M629.3,1223.6 L639.7,1224" stroke="#dc3326" stroke-width="1.7" stroke-linecap="round" fill="none"/>
<path d="M629.2,1226.6 L639.6,1227" stroke="#dc3326" stroke-width="1.7" stroke-linecap="round" fill="none"/>
<path d="M623.2,1237.8L631.2,1251.6L620.8,1263L608.1,1257.3L608.8,1243.1L616,1239.7L623.2,1237.8" fill="none" stroke="#a4a4a4" stroke-width="6.0" stroke-linecap="round" stroke-linejoin="round"/>
<path d="M623.2,1237.8L631.2,1251.6L620.8,1263L608.1,1257.3L608.8,1243.1L616,1239.7L623.2,1237.8" fill="none" stroke="#dadada" stroke-width="4.6" stroke-linecap="round" stroke-linejoin="round"/>
<path d="M622.1,1234.6 L624.4,1241.2" stroke="#2a3fd6" stroke-width="4.6" stroke-linecap="round" fill="none"/>
<path d="M616,1239.7 L619.8,1238.6" stroke="#2a3fd6" stroke-width="4.6" stroke-linecap="round" fill="none"/>
<path d="M608.8,1243.1L593.3,1237.8" fill="none" stroke="#a4a4a4" stroke-width="6.0" stroke-linecap="round" stroke-linejoin="round"/>
<path d="M608.8,1243.1L593.3,1237.8" fill="none" stroke="#dadada" stroke-width="4.6" stroke-linecap="round" stroke-linejoin="round"/>
<path d="M602.4,1238.9 L596.1,1238.2" stroke="#2a3fd6" stroke-width="4.6" stroke-linecap="round" fill="none"/>
<path d="M591.8,1220.4L590.5,1237.4L593.3,1250.7L591.4,1263.9" fill="none" stroke="#a4a4a4" stroke-width="6.0" stroke-linecap="round" stroke-linejoin="round"/>
<path d="M591.8,1220.4L590.5,1237.4L593.3,1250.7L591.4,1263.9" fill="none" stroke="#dadada" stroke-width="4.6" stroke-linecap="round" stroke-linejoin="round"/>
<path d="M585.5,1214.9 L590.6,1217.5" stroke="#dc3326" stroke-width="1.7" stroke-linecap="round" fill="none"/>
<path d="M584.1,1217.6 L589.2,1220.2" stroke="#dc3326" stroke-width="1.7" stroke-linecap="round" fill="none"/>
<path d="M584.2,1235.9 L588.6,1235.9" stroke="#dc3326" stroke-width="1.7" stroke-linecap="round" fill="none"/>
<path d="M584.2,1238.9 L588.6,1238.9" stroke="#dc3326" stroke-width="1.7" stroke-linecap="round" fill="none"/>
<path d="M585.1,1265.8 L589.6,1263.7" stroke="#dc3326" stroke-width="1.7" stroke-linecap="round" fill="none"/>
<path d="M586.4,1268.5 L590.9,1266.4" stroke="#dc3326" stroke-width="1.7" stroke-linecap="round" fill="none"/>
<path d="M594.8,1265.8 L605.6,1270.6" stroke="#2a3fd6" stroke-width="4.6" stroke-linecap="round" fill="none"/>
<path d="M740,1143.1 L727.7,1138.6" stroke="#a8e6ee" stroke-width="4" stroke-linecap="round" fill="none"/>
<path d="M740,1143.1 L751.4,1135.6" stroke="#a8e6ee" stroke-width="4" stroke-linecap="round" fill="none"/>
<path d="M740,1143.7 L738.1,1151.3" stroke="#5fa8a8" stroke-width="4" stroke-linecap="round" fill="none"/>
<path d="M740,1144.7L744.8,1155.1" fill="none" stroke="#a4a4a4" stroke-width="6.0" stroke-linecap="round" stroke-linejoin="round"/>
<path d="M740,1144.7L744.8,1155.1" fill="none" stroke="#dadada" stroke-width="4.6" stroke-linecap="round" stroke-linejoin="round"/>
<path d="M744.8,1155.1L755.2,1154.1L759.9,1165.5L753.3,1179.7L734.3,1178.7L732.5,1168.3L744.8,1155.1" fill="none" stroke="#a4a4a4" stroke-width="6.0" stroke-linecap="round" stroke-linejoin="round"/>
<path d="M744.8,1155.1L755.2,1154.1L759.9,1165.5L753.3,1179.7L734.3,1178.7L732.5,1168.3L744.8,1155.1" fill="none" stroke="#dadada" stroke-width="4.6" stroke-linecap="round" stroke-linejoin="round"/>
<path d="M753.3,1179.7L752.3,1191L741.9,1194.8" fill="none" stroke="#a4a4a4" stroke-width="6.0" stroke-linecap="round" stroke-linejoin="round"/>
<path d="M753.3,1179.7L752.3,1191L741.9,1194.8" fill="none" stroke="#dadada" stroke-width="4.6" stroke-linecap="round" stroke-linejoin="round"/>
<path d="M745.7,1182.5L741.9,1194.8L744.8,1205.2L736.2,1217" fill="none" stroke="#a4a4a4" stroke-width="6.0" stroke-linecap="round" stroke-linejoin="round"/>
<path d="M745.7,1182.5L741.9,1194.8L744.8,1205.2L736.2,1217" fill="none" stroke="#dadada" stroke-width="4.6" stroke-linecap="round" stroke-linejoin="round"/>
<path d="M746.7,1175.3 L744.8,1184.8" stroke="#2a3fd6" stroke-width="4.6" stroke-linecap="round" fill="none"/>
<path d="M747.8,1204.3 L756.3,1205.3" stroke="#dc3326" stroke-width="1.7" stroke-linecap="round" fill="none"/>
<path d="M747.4,1207.3 L756,1208.2" stroke="#dc3326" stroke-width="1.7" stroke-linecap="round" fill="none"/>
<path d="M735.7,1219.4L720.1,1218.5L715.4,1234.6L722,1243.1L736.2,1228.9L735.7,1219.4" fill="none" stroke="#a4a4a4" stroke-width="6.0" stroke-linecap="round" stroke-linejoin="round"/>
<path d="M735.7,1219.4L720.1,1218.5L715.4,1234.6L722,1243.1L736.2,1228.9L735.7,1219.4" fill="none" stroke="#dadada" stroke-width="4.6" stroke-linecap="round" stroke-linejoin="round"/>
<path d="M736.8,1215.1 L735.3,1222.3" stroke="#2a3fd6" stroke-width="4.6" stroke-linecap="round" fill="none"/>
<path d="M736.2,1228.9L753.3,1245L764.6,1244.1L772.2,1249.7L786.4,1236.5L791.1,1237.8" fill="none" stroke="#a4a4a4" stroke-width="6.0" stroke-linecap="round" stroke-linejoin="round"/>
<path d="M736.2,1228.9L753.3,1245L764.6,1244.1L772.2,1249.7L786.4,1236.5L791.1,1237.8" fill="none" stroke="#dadada" stroke-width="4.6" stroke-linecap="round" stroke-linejoin="round"/>
<path d="M755.7,1239.7 L764.6,1244.2" stroke="#2a3fd6" stroke-width="4.6" stroke-linecap="round" fill="none"/>
<path d="M791.4,1236.5 L798.5,1240.9" stroke="#dc3326" stroke-width="1.7" stroke-linecap="round" fill="none"/>
<path d="M789.8,1239.1 L797,1243.4" stroke="#dc3326" stroke-width="1.7" stroke-linecap="round" fill="none"/>
<path d="M772.2,1249.7L765.6,1255.4L753.3,1258.3" fill="none" stroke="#a4a4a4" stroke-width="6.0" stroke-linecap="round" stroke-linejoin="round"/>
<path d="M772.2,1249.7L765.6,1255.4L753.3,1258.3" fill="none" stroke="#dadada" stroke-width="4.6" stroke-linecap="round" stroke-linejoin="round"/>
<path d="M745.7,1252.6 L752,1256.7" stroke="#1c2a80" stroke-width="4.6" stroke-linecap="round" fill="none"/>
<path d="M754.1,1260.6 L748.8,1268.6" stroke="#dc3326" stroke-width="1.7" stroke-linecap="round" fill="none"/>
<path d="M751.7,1258.9 L746.4,1266.9" stroke="#dc3326" stroke-width="1.7" stroke-linecap="round" fill="none"/>
<path d="M755.3,1248.3 L757.5,1254.9" stroke="#dc3326" stroke-width="1.7" stroke-linecap="round" fill="none"/>
<path d="M752.4,1249.3 L754.7,1255.9" stroke="#dc3326" stroke-width="1.7" stroke-linecap="round" fill="none"/>
<text x="616.8" y="1135.6" font-family="'Liberation Sans', Arial, Helvetica, sans-serif" font-size="29.5" font-weight="normal" fill="#000" text-anchor="start" >G50tmf</text>
<text x="572.2" y="1307.5" font-family="'Liberation Sans', Arial, Helvetica, sans-serif" font-size="29" fill="#000">P51<tspan x="626.4" y="1300.3" font-size="22">cis</tspan></text>
<text x="690.5" y="1306" font-family="'Liberation Sans', Arial, Helvetica, sans-serif" font-size="29" fill="#000">P51<tspan x="745" y="1298.4" font-size="22">trans</tspan></text>
<text x="429" y="1166.3" font-family="'Liberation Sans', Arial, Helvetica, sans-serif" font-size="41" font-weight="normal" fill="#000" text-anchor="start" >N</text>
<text x="161" y="1265.5" font-family="'Liberation Sans', Arial, Helvetica, sans-serif" font-size="42" font-weight="normal" fill="#000" text-anchor="start" >ECL2</text>
<text x="313" y="1789.6" font-family="'Liberation Sans', Arial, Helvetica, sans-serif" font-size="51" font-weight="normal" fill="#000" text-anchor="start" >P1/P2</text>
<path d="M923.4,1420.8C922.8,1409.2 920.7,1399.8 921.6,1392C922.5,1384.2 927.9,1380.9 928.8,1374C929.7,1367.1 924.9,1356.9 927,1350.6C929.1,1344.3 936,1340.7 941.4,1336.2C946.8,1331.7 954.3,1326.3 959.4,1323.6C964.5,1320.9 969.3,1323.6 972,1320C974.7,1316.4 974.1,1308 975.6,1302C977.1,1296 978.6,1288.2 981,1284C983.4,1279.8 987.6,1280.4 990,1276.8C992.4,1273.2 993.3,1268.4 995.4,1262.4C997.5,1256.4 1000.5,1248 1002.6,1240.8C1004.7,1233.6 1004.7,1224 1008,1219.2C1011.3,1214.4 1018.2,1215.3 1022.4,1212C1026.6,1208.7 1028.7,1202.1 1033.2,1199.4C1037.7,1196.7 1046.4,1199.1 1049.4,1195.8C1052.4,1192.5 1049.1,1184.1 1051.2,1179.6C1053.3,1175.1 1057.2,1171.2 1062,1168.8C1066.8,1166.4 1074.3,1166.4 1080,1165.2C1085.7,1164 1091.7,1161 1096.2,1161.6C1100.7,1162.2 1105.8,1164.9 1107,1168.8C1108.2,1172.7 1105.5,1179.9 1103.4,1185C1101.3,1190.1 1095.6,1194.9 1094.4,1199.4C1093.2,1203.9 1092.6,1209.3 1096.2,1212C1099.8,1214.7 1111.5,1213.2 1116,1215.6C1120.5,1218 1122.6,1221.6 1123.2,1226.4C1123.8,1231.2 1117.5,1240.2 1119.6,1244.4C1121.7,1248.6 1132.5,1248 1135.8,1251.6C1139.1,1255.2 1140.3,1261.2 1139.4,1266C1138.5,1270.8 1128.9,1278.6 1130.4,1280.4C1131.9,1282.2 1142.7,1276.2 1148.4,1276.8C1154.1,1277.4 1161.9,1279.8 1164.6,1284C1167.3,1288.2 1165.8,1296.6 1164.6,1302C1163.4,1307.4 1156.5,1313.1 1157.4,1316.4C1158.3,1319.7 1166.1,1321.8 1170,1321.8C1173.9,1321.8 1176.6,1315.5 1180.8,1316.4C1185,1317.3 1189.2,1324.8 1195.2,1327.2C1201.2,1329.6 1210.5,1330.8 1216.8,1330.8C1223.1,1330.8 1229.4,1326.3 1233,1327.2C1236.6,1328.1 1239.9,1332.9 1238.4,1336.2C1236.9,1339.5 1229.4,1343.7 1224,1347C1218.6,1350.3 1210.2,1352.1 1206,1356C1201.8,1359.9 1200.6,1364.4 1198.8,1370.4C1197,1376.4 1195.8,1386 1195.2,1392C1194.6,1398 1196.4,1401.6 1195.2,1406.4C1194,1411.2 1190.4,1414.2 1188,1420.8C1185.6,1427.4 1182,1441 1180.8,1446C1179.6,1451 1182.3,1447.9 1180.8,1450.8C1179.3,1453.7 1173,1457.7 1171.8,1463.4C1170.6,1469.1 1174.8,1479 1173.6,1485C1172.4,1491 1163.7,1496.1 1164.6,1499.4C1165.5,1502.7 1172.7,1504.5 1179,1504.8C1185.3,1505.1 1197,1500 1202.4,1501.2C1207.8,1502.4 1210.8,1506.6 1211.4,1512C1212,1517.4 1208.1,1526.4 1206,1533.6C1203.9,1540.8 1197.6,1549.2 1198.8,1555.2C1200,1561.2 1210.8,1564.8 1213.2,1569.6C1215.6,1574.4 1214.7,1579.2 1213.2,1584C1211.7,1588.8 1207.8,1593.6 1204.2,1598.4C1200.6,1603.2 1193.1,1606.2 1191.6,1612.8C1190.1,1619.4 1193.4,1630.8 1195.2,1638C1197,1645.2 1199.4,1650 1202.4,1656C1205.4,1662 1211.1,1668 1213.2,1674C1215.3,1680 1216.2,1687.5 1215,1692C1213.8,1696.5 1211.1,1698.6 1206,1701C1200.9,1703.4 1189.2,1703.1 1184.4,1706.4C1179.6,1709.7 1178.4,1716 1177.2,1720.8C1176,1725.6 1179,1731.3 1177.2,1735.2C1175.4,1739.1 1170.6,1743.6 1166.4,1744.2C1162.2,1744.8 1155,1742.7 1152,1738.8C1149,1734.9 1150.2,1725.6 1148.4,1720.8C1146.6,1716 1146.6,1711.8 1141.2,1710C1135.8,1708.2 1123.2,1710.6 1116,1710C1108.8,1709.4 1102.8,1709.4 1098,1706.4C1093.2,1703.4 1092,1695 1087.2,1692C1082.4,1689 1075.2,1687.8 1069.2,1688.4C1063.2,1689 1056.6,1695 1051.2,1695.6C1045.8,1696.2 1041.6,1691.7 1036.8,1692C1032,1692.3 1025.7,1694.4 1022.4,1697.4C1019.1,1700.4 1018.2,1704.9 1017,1710C1015.8,1715.1 1017.9,1723.2 1015.2,1728C1012.5,1732.8 1005.9,1737.6 1000.8,1738.8C995.7,1740 988.5,1738.2 984.6,1735.2C980.7,1732.2 978.6,1725.9 977.4,1720.8C976.2,1715.7 980.1,1709.4 977.4,1704.6C974.7,1699.8 966.6,1697.1 961.2,1692C955.8,1686.9 948.9,1680 945,1674C941.1,1668 937.5,1661.4 937.8,1656C938.1,1650.6 947.7,1646.4 946.8,1641.6C945.9,1636.8 934.2,1633.2 932.4,1627.2C930.6,1621.2 936.3,1612.2 936,1605.6C935.7,1599 930.3,1594.2 930.6,1587.6C930.9,1581 937.5,1572.6 937.8,1566C938.1,1559.4 932.7,1554.6 932.4,1548C932.1,1541.4 936,1532.4 936,1526.4C936,1520.4 932.7,1517.4 932.4,1512C932.1,1506.6 935.1,1500 934.2,1494C933.3,1488 928.5,1481.4 927,1476C925.5,1470.6 925.8,1470.8 925.2,1461.6C924.6,1452.4 924,1432.4 923.4,1420.8Z" fill="#d5d5d7" filter="url(#soft)"/>
<path d="M943,1360.2L947.7,1364.5L962.4,1368.2L977.9,1371.9L984.7,1376.1L982.1,1379.3L983.2,1399.2L985.9,1396.1L979,1391.9L963.5,1388.2L948.8,1384.5L944.1,1380.2Z" fill="url(#gyb)" stroke="#4c4c4c" stroke-width="0.6"/>
<path d="M945,1395L949.1,1399.3L963.5,1403L979.2,1406.6L986.7,1410.7L984.4,1413.9L985.7,1433.8L987.9,1430.7L980.4,1426.6L964.7,1423L950.3,1419.3L946.2,1415Z" fill="url(#gyb)" stroke="#4c4c4c" stroke-width="0.6"/>
<path d="M947.2,1429.9L950.7,1434.3L964.8,1437.8L980.8,1441.2L988.8,1445.1L987,1448.3L988.6,1468.2L990.3,1465.1L982.2,1461.2L966.2,1457.8L952.1,1454.2L948.6,1449.9Z" fill="url(#gyb)" stroke="#4c4c4c" stroke-width="0.6"/>
<path d="M949.9,1464.8L952.8,1469.2L966.6,1472.6L982.8,1475.8L991.4,1479.7L990.1,1482.8L991.7,1502.8L993,1499.6L984.4,1495.8L968.2,1492.5L954.4,1489.1L951.5,1484.8Z" fill="url(#gyb)" stroke="#4c4c4c" stroke-width="0.6"/>
<path d="M952.2,1501L958.8,1505.1L974.3,1508.4L989.2,1511.8L994.4,1516L993.2,1517.6L994.7,1537.6L995.9,1536L990.7,1531.8L975.8,1528.3L960.3,1525L953.8,1521Z" fill="url(#gyb)" stroke="#4c4c4c" stroke-width="0.6"/>
<path d="M954.9,1535.5L960.8,1539.7L976,1543.1L991.2,1546.6L997,1550.8L996,1552.4L997.4,1572.3L998.4,1570.8L992.6,1566.6L977.4,1563.1L962.2,1559.6L956.3,1555.5Z" fill="url(#gyb)" stroke="#4c4c4c" stroke-width="0.6"/>
<path d="M957.3,1570.2L962.6,1574.3L977.6,1577.9L993,1581.4L999.4,1585.5L998.6,1587.1L999.9,1607.1L1000.7,1605.5L994.3,1601.4L978.9,1597.9L964,1594.3L958.7,1590.1Z" fill="url(#gyb)" stroke="#4c4c4c" stroke-width="0.6"/>
<path d="M982,1342.9L971.7,1348L955.8,1353.5L944.3,1358.6L944.7,1363.2L945.8,1383.1L945.4,1378.6L956.9,1373.4L972.8,1368L983.1,1362.9Z" fill="url(#gyf)" stroke="#4c4c4c" stroke-width="0.7" stroke-linejoin="round"/>
<path d="M984.7,1376.1L978.7,1381L963.8,1386.3L949.5,1391.7L944.9,1396.5L946.3,1398L947.5,1417.9L946.1,1416.5L950.6,1411.7L964.9,1406.3L979.9,1400.9L985.9,1396.1Z" fill="url(#gyf)" stroke="#4c4c4c" stroke-width="0.7" stroke-linejoin="round"/>
<path d="M986.7,1410.7L981.3,1415.6L966.6,1421L952.1,1426.5L946.9,1431.5L948.1,1432.9L949.5,1452.9L948.3,1451.4L953.4,1446.5L967.9,1441L982.5,1435.5L987.9,1430.7Z" fill="url(#gyf)" stroke="#4c4c4c" stroke-width="0.7" stroke-linejoin="round"/>
<path d="M988.8,1445.1L984.1,1450L969.8,1455.7L955.1,1461.4L949.4,1466.4L950.4,1467.8L952,1487.8L951,1486.3L956.6,1481.3L971.3,1475.6L985.6,1469.9L990.3,1465.1Z" fill="url(#gyf)" stroke="#4c4c4c" stroke-width="0.7" stroke-linejoin="round"/>
<path d="M991.4,1479.7L987.4,1484.6L973.4,1490.3L958.4,1496L952.2,1501L955.2,1503.8L956.8,1523.8L953.8,1521L960,1515.9L975,1510.2L989,1504.5L993,1499.6Z" fill="url(#gyf)" stroke="#4c4c4c" stroke-width="0.7" stroke-linejoin="round"/>
<path d="M994.1,1514.5L990.7,1519.3L976.9,1524.9L961.8,1530.5L954.9,1535.5L957.5,1538.4L958.9,1558.3L956.3,1555.5L963.2,1550.5L978.4,1544.8L992.1,1539.3L995.6,1534.4Z" fill="url(#gyf)" stroke="#4c4c4c" stroke-width="0.7" stroke-linejoin="round"/>
<path d="M996.5,1549.3L993.6,1554.1L980.2,1559.5L964.8,1565.1L957.3,1570.2L959.5,1573L960.8,1593L958.7,1590.1L966.2,1585.1L981.5,1579.5L995,1574L997.8,1569.3Z" fill="url(#gyf)" stroke="#4c4c4c" stroke-width="0.7" stroke-linejoin="round"/>
<path d="M998.6,1584.1L996.4,1588.8L983.3,1594.2L967.8,1599.8L959.8,1604.9L961.5,1607.8L962.8,1627.7L961.1,1624.8L969.1,1619.7L984.6,1614.1L997.7,1608.7L1000,1604Z" fill="url(#gyf)" stroke="#4c4c4c" stroke-width="0.7" stroke-linejoin="round"/>
<path d="M1016.7,1560.3L1020.4,1564.9L1034.6,1569.8L1050.1,1574.8L1057,1579.5L1054.2,1582.5L1053.8,1602.5L1056.5,1599.5L1049.6,1594.8L1034.1,1589.8L1020,1584.9L1016.3,1580.2Z" fill="url(#gyb)" stroke="#4c4c4c" stroke-width="0.6"/>
<path d="M1015.9,1595.4L1019.8,1600L1034.1,1604.9L1049.5,1609.8L1056.2,1614.6L1053.3,1617.5L1052.9,1637.5L1055.8,1634.5L1049.1,1629.8L1033.7,1624.9L1019.4,1620L1015.4,1615.4Z" fill="url(#gyb)" stroke="#4c4c4c" stroke-width="0.6"/>
<path d="M1055.2,1547.4L1042.2,1551.7L1025.9,1555.9L1016.7,1560.3L1017.7,1563.3L1017.3,1583.3L1016.3,1580.2L1025.4,1575.9L1041.7,1571.7L1054.8,1567.4Z" fill="url(#gyf)" stroke="#4c4c4c" stroke-width="0.7" stroke-linejoin="round"/>
<path d="M1057,1579.5L1050.8,1583.9L1035.4,1588.2L1020.6,1592.4L1015.7,1596.9L1017.1,1598.5L1016.6,1618.5L1015.3,1616.9L1020.1,1612.4L1035,1608.2L1050.3,1603.9L1056.5,1599.5Z" fill="url(#gyf)" stroke="#4c4c4c" stroke-width="0.7" stroke-linejoin="round"/>
<path d="M1056.2,1614.6L1049.8,1619L1034.3,1623.2L1019.6,1627.5L1015,1632L1016.4,1633.6L1016,1653.6L1014.6,1652L1019.2,1647.5L1033.9,1643.2L1049.3,1639L1055.8,1634.5Z" fill="url(#gyf)" stroke="#4c4c4c" stroke-width="0.7" stroke-linejoin="round"/>
<path d="M1079.6,1344.2L1083.7,1350.2L1096.6,1359L1109.5,1367.7L1113.3,1373.7L1111.8,1374.8L1105.8,1393.9L1107.3,1392.8L1103.5,1386.8L1090.6,1378L1077.7,1369.2L1073.7,1363.3Z" fill="url(#gyb)" stroke="#4c4c4c" stroke-width="0.6"/>
<path d="M1069.3,1377.5L1072.8,1383.3L1085.6,1392L1098.7,1400.7L1103,1406.7L1101.7,1407.9L1096,1427L1097.3,1425.9L1092.9,1419.8L1079.8,1411.1L1067,1402.4L1063.4,1396.6Z" fill="url(#gyb)" stroke="#4c4c4c" stroke-width="0.6"/>
<path d="M1059,1411.2L1062.2,1417L1074.9,1425.2L1088.4,1433.3L1093.5,1439L1092.4,1440.2L1087.9,1459.7L1088.9,1458.4L1083.6,1452.7L1069.8,1444.5L1056.9,1436.3L1053.6,1430.5Z" fill="url(#gyb)" stroke="#4c4c4c" stroke-width="0.6"/>
<path d="M1049.8,1446.6L1052.9,1452L1066,1459L1080.4,1466.1L1086.5,1471.6L1083.3,1474.1L1080.1,1493.9L1083.2,1491.3L1077.1,1485.8L1062.6,1478.7L1049.3,1471.6L1046,1466.2Z" fill="url(#gyb)" stroke="#4c4c4c" stroke-width="0.6"/>
<path d="M1043.7,1481.3L1046.5,1486.5L1059.5,1493.3L1074.2,1500.1L1080.8,1505.6L1078,1508.3L1075.1,1528L1077.8,1525.4L1071.2,1519.9L1056.4,1513L1043.2,1506.3L1040.3,1501Z" fill="url(#gyb)" stroke="#4c4c4c" stroke-width="0.6"/>
<path d="M1038.2,1516.3L1040.7,1521.3L1053.8,1527.7L1064.2,1532.2L1061.3,1552L1050.9,1547.5L1038,1541.1L1035.5,1536.1Z" fill="url(#gyb)" stroke="#4c4c4c" stroke-width="0.6"/>
<path d="M1113.4,1372.1L1108.9,1375.5L1094.4,1375.7L1078,1375.4L1069.3,1377.5L1070.3,1381L1064.4,1400.1L1063.4,1396.6L1072.1,1394.5L1088.4,1394.8L1103,1394.6L1107.4,1391.2Z" fill="url(#gyf)" stroke="#4c4c4c" stroke-width="0.7" stroke-linejoin="round"/>
<path d="M1102.9,1405.1L1099,1408.6L1084.7,1409.1L1068.2,1409L1059,1411.2L1059.7,1414.7L1054.4,1434L1053.6,1430.5L1062.6,1428.3L1079.1,1428.3L1093.3,1427.8L1097.2,1424.3Z" fill="url(#gyf)" stroke="#4c4c4c" stroke-width="0.7" stroke-linejoin="round"/>
<path d="M1093.2,1437.4L1089.9,1441.1L1075.9,1442.5L1059.2,1443.7L1049.8,1446.6L1050.4,1449.9L1046.8,1469.6L1046,1466.2L1055.2,1463.2L1071.6,1462L1085.4,1460.6L1088.5,1456.9Z" fill="url(#gyf)" stroke="#4c4c4c" stroke-width="0.7" stroke-linejoin="round"/>
<path d="M1086.5,1471.6L1079.8,1475.1L1064.2,1477.1L1048.9,1479.2L1043.2,1482.8L1044.1,1484.6L1040.8,1504.3L1039.8,1502.5L1045.6,1498.9L1060.9,1496.9L1076.6,1494.8L1083.2,1491.3Z" fill="url(#gyf)" stroke="#4c4c4c" stroke-width="0.7" stroke-linejoin="round"/>
<path d="M1080.8,1505.6L1074.6,1509.3L1059.2,1511.6L1043.7,1514L1037.6,1517.8L1038.5,1519.4L1035.7,1539.2L1034.8,1537.6L1041,1533.8L1056.4,1531.4L1071.7,1529.1L1077.8,1525.4Z" fill="url(#gyf)" stroke="#4c4c4c" stroke-width="0.7" stroke-linejoin="round"/>
<path d="M1159.7,1338L1162.7,1343.3L1175.6,1350.9L1189.7,1358.8L1195.5,1364.8L1192.3,1367.2L1187.8,1386.6L1191,1384.3L1185.2,1378.3L1171.2,1370.4L1158.3,1362.8L1155.3,1357.5Z" fill="url(#ogb)" stroke="#9a4c05" stroke-width="0.6"/>
<path d="M1152.2,1371.7L1154.6,1376.9L1167.1,1384.6L1181.3,1392.8L1187.4,1399.2L1184.6,1401.8L1179.4,1421.1L1182.4,1418.6L1176.4,1412.2L1162.4,1404L1149.9,1396.4L1147.6,1391.2Z" fill="url(#ogb)" stroke="#9a4c05" stroke-width="0.6"/>
<path d="M1144.8,1403.8L1146.6,1408.6L1158.1,1417.7L1170.8,1428.9L1175.9,1437.3L1172.9,1439.3L1163.1,1456.8L1166.3,1454.9L1162,1446.8L1150.1,1436L1139.4,1427.3L1138.3,1422.8Z" fill="url(#gyb)" stroke="#4c4c4c" stroke-width="0.6"/>
<path d="M1131.9,1433.5L1132.3,1438.5L1142.3,1448.4L1154.5,1459.7L1160,1467.6L1157.4,1469.6L1148.4,1487.5L1151,1485.4L1145.4,1477.5L1133.3,1466.3L1123.4,1456.4L1123.3,1451.6Z" fill="url(#gyb)" stroke="#4c4c4c" stroke-width="0.6"/>
<path d="M1115,1466L1118.3,1472.8L1130.1,1482.9L1142,1491.8L1145.2,1496.9L1143.6,1497.7L1138,1516.9L1139.5,1516L1135.4,1510.7L1122.7,1501.5L1110.3,1491.2L1106.6,1484.1Z" fill="url(#gyb)" stroke="#4c4c4c" stroke-width="0.6"/>
<path d="M1100.8,1502.6L1105.2,1508.3L1118.9,1515.7L1132.7,1523.6L1128.2,1543.1L1114.9,1535.3L1101.2,1528L1096.7,1522.2Z" fill="url(#gyb)" stroke="#4c4c4c" stroke-width="0.6"/>
<path d="M1203.3,1331L1195.9,1333.8L1180,1334.8L1164.8,1336.1L1159.3,1339.5L1160.3,1341.2L1155.9,1360.8L1154.9,1359L1160.4,1355.6L1175.6,1354.3L1191.4,1353.3L1198.6,1350.5Z" fill="url(#ogf)" stroke="#9a4c05" stroke-width="0.7" stroke-linejoin="round"/>
<path d="M1195.5,1364.8L1188.7,1367.9L1173.1,1368.9L1157.7,1370L1151.6,1373.1L1152.4,1374.9L1147.8,1394.3L1146.9,1392.6L1153.1,1389.4L1168.5,1388.4L1184.2,1387.4L1191,1384.3Z" fill="url(#ogf)" stroke="#9a4c05" stroke-width="0.7" stroke-linejoin="round"/>
<path d="M1187.4,1399.2L1181.2,1402.5L1165.8,1403L1150.4,1402.9L1144,1404.9L1144.6,1406.5L1137.7,1425.3L1137.3,1423.8L1144.4,1421.9L1160.2,1422.2L1175.9,1421.8L1182.4,1418.6Z" fill="url(#ogf)" stroke="#9a4c05" stroke-width="0.7" stroke-linejoin="round"/>
<path d="M1175.9,1437.3L1169.5,1439.2L1154.4,1435.9L1138.4,1433.2L1130.7,1434.5L1130.8,1436.2L1122.1,1454.2L1122,1452.6L1129.7,1451.1L1145.1,1453.6L1159.8,1456.7L1166.3,1454.9Z" fill="url(#gyf)" stroke="#4c4c4c" stroke-width="0.7" stroke-linejoin="round"/>
<path d="M1160,1467.6L1154.2,1469.7L1139.3,1467.3L1123.4,1464.6L1115,1466L1115.9,1470L1107.8,1488.3L1106.6,1484.1L1114.7,1482.6L1130.5,1485.2L1145.2,1487.5L1151,1485.4Z" fill="url(#gyf)" stroke="#4c4c4c" stroke-width="0.7" stroke-linejoin="round"/>
<path d="M1145.5,1495.6L1140.6,1498.2L1125.7,1498.7L1109.2,1499.6L1100.8,1502.6L1102.3,1506.2L1098.3,1525.8L1096.7,1522.2L1104.8,1519.1L1120.8,1518.1L1135.2,1517.5L1139.5,1514.7Z" fill="url(#gyf)" stroke="#4c4c4c" stroke-width="0.7" stroke-linejoin="round"/>
<path d="M980.6,1366.7L986.7,1370.9L1001.9,1374.6L1016.9,1378.3L1022.5,1382.6L1021.4,1384.1L1022.5,1404.1L1023.6,1402.5L1018,1398.3L1003,1394.6L987.7,1390.9L981.7,1386.7Z" fill="url(#gyb)" stroke="#4c4c4c" stroke-width="0.6"/>
<path d="M982.6,1401.6L987.9,1405.8L1002.9,1409.4L1018.2,1412.8L1024.5,1416.8L1023.7,1418.3L1025.3,1438.3L1026.1,1436.7L1019.7,1432.7L1004.3,1429.3L989.3,1425.8L983.8,1421.5Z" fill="url(#gyb)" stroke="#4c4c4c" stroke-width="0.6"/>
<path d="M985.1,1437.1L989.9,1441.3L1004.6,1444.2L1020.3,1446.4L1027.3,1449.6L1025,1452.9L1028.5,1472.5L1030.7,1469.3L1023.3,1466.2L1007.3,1464L992.3,1461.2L987.2,1457Z" fill="url(#gyb)" stroke="#4c4c4c" stroke-width="0.6"/>
<path d="M990.1,1473.9L994.7,1477.7L1009.4,1478.9L1025.5,1479.4L1033.5,1481.8L1032,1485.2L1037.4,1504.5L1038.8,1501.1L1030.5,1498.7L1014.3,1498.3L999.4,1497.1L994.5,1493.4Z" fill="url(#gyb)" stroke="#4c4c4c" stroke-width="0.6"/>
<path d="M998.9,1508.8L1003.2,1512.3L1017.6,1512.8L1034,1512.7L1042.9,1515L1042,1518.4L1047.4,1537.7L1048.4,1534.2L1039.6,1531.9L1023.2,1532L1008.8,1531.5L1004.6,1528Z" fill="url(#gyb)" stroke="#4c4c4c" stroke-width="0.6"/>
<path d="M1008.7,1541.8L1012.2,1545.6L1026.2,1546.5L1042.5,1546.2L1051.7,1547.7L1051.1,1550.7L1057.7,1569.6L1058,1566.7L1048.4,1565.3L1031.8,1565.7L1017.6,1564.9L1014,1561.1Z" fill="url(#gyb)" stroke="#4c4c4c" stroke-width="0.6"/>
<path d="M1019.5,1580.1L1026.8,1582.2L1042,1579.5L1056.6,1576L1063,1576.9L1062.6,1578.8L1073.4,1595.6L1073.6,1593.8L1066.9,1593.2L1051.7,1597L1035.8,1600L1027.9,1598.2Z" fill="url(#gyb)" stroke="#4c4c4c" stroke-width="0.6"/>
<path d="M1037.9,1613.8L1044.9,1614.5L1059.5,1609.5L1074.4,1604.4L1081.8,1604.7L1082,1606.6L1093.5,1622.9L1093.4,1621L1086.1,1620.6L1071.2,1625.7L1056.6,1630.7L1049.5,1630.1Z" fill="url(#gyb)" stroke="#4c4c4c" stroke-width="0.6"/>
<path d="M1057.8,1641.1L1064.1,1642.3L1078.8,1638.4L1094.2,1634.1L1102.1,1634.6L1101.3,1638.7L1111.8,1655.7L1112.7,1651.6L1104.8,1651.1L1089.4,1655.3L1074.8,1659.2L1068.6,1657.9Z" fill="url(#gyb)" stroke="#4c4c4c" stroke-width="0.6"/>
<path d="M1076.2,1670L1081.9,1671.8L1096.4,1668.3L1112,1664.2L1120.4,1664.4L1119.8,1668.2L1130.2,1685.3L1130.8,1681.5L1122.3,1681.3L1106.8,1685.4L1092.3,1688.9L1086.6,1687.1Z" fill="url(#gyb)" stroke="#4c4c4c" stroke-width="0.6"/>
<path d="M1007.7,1354.5L991.9,1360.1L981.5,1365.1L983.3,1369.6L984.4,1389.5L982.6,1385.1L993.1,1380L1009.1,1374.4Z" fill="url(#gyf)" stroke="#4c4c4c" stroke-width="0.7" stroke-linejoin="round"/>
<path d="M1022.1,1381.1L1019,1385.8L1005.4,1391.1L990,1396.5L982.6,1401.6L984.8,1404.5L986.1,1424.4L983.8,1421.5L991.2,1416.5L1006.5,1411L1020.1,1405.7L1023.1,1401.1Z" fill="url(#gyf)" stroke="#4c4c4c" stroke-width="0.7" stroke-linejoin="round"/>
<path d="M1023.8,1415.3L1021.5,1420L1008.4,1425.6L992.9,1431.6L985.1,1437.1L986.9,1440.1L989.2,1460L987.2,1457L994.9,1451.5L1010.1,1445.5L1023.1,1439.9L1025.3,1435.3Z" fill="url(#gyf)" stroke="#4c4c4c" stroke-width="0.7" stroke-linejoin="round"/>
<path d="M1027.3,1449.6L1021.8,1454.9L1007.6,1462.2L994.1,1469.7L990.2,1475.5L991.8,1476.7L996.4,1496.2L994.7,1495L998.3,1489.3L1011.6,1481.8L1025.5,1474.6L1030.7,1469.3Z" fill="url(#gyf)" stroke="#4c4c4c" stroke-width="0.7" stroke-linejoin="round"/>
<path d="M1033.5,1481.8L1029.3,1487.5L1016.1,1495.9L1003,1504.4L998.9,1510.4L1000.4,1511.6L1006,1530.7L1004.6,1529.6L1008.6,1523.6L1021.6,1515.1L1034.7,1506.8L1038.8,1501.1Z" fill="url(#gyf)" stroke="#4c4c4c" stroke-width="0.7" stroke-linejoin="round"/>
<path d="M1042.9,1515L1039.5,1520.7L1026.7,1529L1013.3,1537.4L1008.5,1543.5L1009.6,1544.7L1015,1564L1013.8,1562.7L1018.5,1556.7L1032,1548.3L1044.9,1540L1048.4,1534.2Z" fill="url(#gyf)" stroke="#4c4c4c" stroke-width="0.7" stroke-linejoin="round"/>
<path d="M1051.7,1547.7L1048.8,1553L1036.7,1562.2L1024,1572.5L1019.5,1580.1L1023.1,1582.1L1032,1600L1027.9,1598.2L1031.9,1590.9L1044,1580.8L1055.6,1571.8L1058,1566.7Z" fill="url(#gyf)" stroke="#4c4c4c" stroke-width="0.7" stroke-linejoin="round"/>
<path d="M1062.1,1575.9L1061.1,1581.4L1051.8,1592.8L1041.4,1605.6L1037.9,1613.8L1041.4,1615.1L1053.1,1631.3L1049.5,1630.1L1052.9,1622L1063,1609.4L1072,1598.1L1072.6,1592.9Z" fill="url(#gyf)" stroke="#4c4c4c" stroke-width="0.7" stroke-linejoin="round"/>
<path d="M1080.5,1603.8L1080.9,1609.2L1072.6,1620.7L1062.1,1633.2L1057.8,1641.1L1060.8,1642.6L1071.6,1659.5L1068.6,1657.9L1073.2,1649.8L1083.9,1637.2L1092.5,1625.5L1092.1,1620.1Z" fill="url(#gyf)" stroke="#4c4c4c" stroke-width="0.7" stroke-linejoin="round"/>
<path d="M1102.1,1634.6L1099.1,1641.8L1088.5,1653.6L1078.5,1665.1L1076.8,1671.4L1078.8,1672L1089.2,1689.1L1087.2,1688.5L1088.9,1682.1L1099,1670.7L1109.6,1658.9L1112.7,1651.6Z" fill="url(#gyf)" stroke="#4c4c4c" stroke-width="0.7" stroke-linejoin="round"/>
<path d="M1112.5,1387.8L1115.5,1394L1127.2,1404L1139.2,1414.1L1142.9,1420.5L1141.5,1421.5L1133.7,1439.9L1135.1,1438.9L1131.3,1432.5L1119.3,1422.4L1107.6,1412.4L1104.6,1406.1Z" fill="url(#gyb)" stroke="#4c4c4c" stroke-width="0.6"/>
<path d="M1098.5,1420.5L1100.8,1426.4L1112.5,1435.6L1125.4,1444.5L1130.5,1450.2L1127,1451.9L1122,1471.2L1125,1469.5L1119.3,1463.6L1105.9,1454.5L1093.9,1445.2L1091.4,1439.1Z" fill="url(#gyb)" stroke="#4c4c4c" stroke-width="0.6"/>
<path d="M1086.3,1457.1L1088.6,1462.6L1101.4,1469.1L1116.2,1474.9L1123.3,1479.3L1121.1,1481.9L1120.5,1501.9L1122.4,1499.3L1114.7,1494.8L1099.2,1488.9L1085.8,1482.4L1082.9,1476.9Z" fill="url(#gyb)" stroke="#4c4c4c" stroke-width="0.6"/>
<path d="M1082.2,1495.9L1084.7,1500.7L1098.1,1504.4L1114,1507L1122.7,1509.7L1121.7,1512.6L1125.3,1532.3L1126,1529.5L1116.7,1526.8L1100.1,1524.3L1086.2,1520.7L1083.2,1515.9Z" fill="url(#gyb)" stroke="#4c4c4c" stroke-width="0.6"/>
<path d="M1085.9,1536.1L1092.5,1539.3L1108,1539.6L1123.4,1539.6L1129.8,1542.1L1129.2,1543.9L1135.3,1562.9L1135.9,1561.2L1129.3,1558.7L1113.7,1558.8L1098,1558.5L1091,1555.5Z" fill="url(#gyb)" stroke="#4c4c4c" stroke-width="0.6"/>
<path d="M1096.1,1571.3L1102.2,1574.1L1117.3,1573.1L1132.9,1571.5L1140.3,1573.1L1140.1,1574.7L1148.1,1593.1L1148.2,1591.4L1140.6,1590L1124.8,1591.7L1109.4,1592.8L1103,1590.1Z" fill="url(#gyb)" stroke="#4c4c4c" stroke-width="0.6"/>
<path d="M1109.7,1604.9L1115.1,1607.4L1129.8,1605.6L1145.8,1603.1L1154.1,1604.1L1153.2,1607.7L1161.9,1625.7L1162.7,1622.1L1154.3,1621.2L1138.3,1623.7L1123.6,1625.6L1118.1,1623.1Z" fill="url(#gyb)" stroke="#4c4c4c" stroke-width="0.6"/>
<path d="M1124.8,1636.8L1129.6,1639.6L1143.8,1637.5L1159.8,1634.3L1169,1634.7L1168.8,1638.1L1178,1655.9L1178.1,1652.4L1168.9,1652.1L1152.8,1655.3L1138.6,1657.4L1133.8,1654.7Z" fill="url(#gyb)" stroke="#4c4c4c" stroke-width="0.6"/>
<path d="M1141,1669.5L1148.6,1670.6L1164.2,1667.7L1179.3,1665L1188.4,1682.8L1173.4,1685.4L1157.9,1688.4L1150.2,1687.3Z" fill="url(#gyb)" stroke="#4c4c4c" stroke-width="0.6"/>
<path d="M1147.5,1389.5L1131.5,1387.9L1117.1,1386.5L1112.2,1389.3L1113.3,1391.4L1105.3,1409.7L1104.3,1407.6L1109.2,1404.9L1123.7,1406.3L1140.1,1408Z" fill="url(#gyf)" stroke="#4c4c4c" stroke-width="0.7" stroke-linejoin="round"/>
<path d="M1142.9,1418.9L1138.7,1421.9L1124.6,1420.9L1108.1,1419.2L1098.5,1420.5L1098.7,1423.9L1091.7,1442.7L1091.4,1439.1L1100.7,1437.8L1117,1439.4L1131.1,1440.4L1135.2,1437.3Z" fill="url(#gyf)" stroke="#4c4c4c" stroke-width="0.7" stroke-linejoin="round"/>
<path d="M1130.5,1450.2L1123.4,1452.3L1107.5,1453.1L1091.9,1454.8L1085.6,1458.8L1086.4,1460.6L1083.4,1480.4L1082.4,1478.5L1088.2,1474.4L1103.3,1472.6L1118.6,1471.7L1125,1469.5Z" fill="url(#gyf)" stroke="#4c4c4c" stroke-width="0.7" stroke-linejoin="round"/>
<path d="M1123.3,1479.3L1117.9,1483.2L1102.9,1487.4L1087.7,1492.4L1081.6,1497.6L1082.4,1499.2L1083.7,1519.2L1082.7,1517.6L1088.4,1512.4L1103.1,1507.4L1117.5,1503.1L1122.4,1499.3Z" fill="url(#gyf)" stroke="#4c4c4c" stroke-width="0.7" stroke-linejoin="round"/>
<path d="M1122.7,1509.7L1119.1,1514.5L1105.8,1521.6L1091.6,1529.6L1085.9,1536.1L1089,1538.6L1094.3,1557.9L1091,1555.5L1096.4,1549.1L1110.1,1541.1L1122.9,1534.1L1126,1529.5Z" fill="url(#gyf)" stroke="#4c4c4c" stroke-width="0.7" stroke-linejoin="round"/>
<path d="M1129,1540.9L1127.2,1546L1115.5,1554.6L1102,1564.1L1096.1,1571.3L1098.8,1573.7L1106,1592.4L1103,1590.1L1108.6,1582.9L1121.8,1573.6L1133.4,1565.1L1135,1559.9Z" fill="url(#gyf)" stroke="#4c4c4c" stroke-width="0.7" stroke-linejoin="round"/>
<path d="M1139.1,1572L1138.6,1577L1128.3,1586.4L1115.7,1597.1L1109.7,1604.9L1112,1607.2L1120.5,1625.3L1118.1,1623.1L1124,1615.3L1136.5,1604.6L1146.7,1595.3L1147,1590.4Z" fill="url(#gyf)" stroke="#4c4c4c" stroke-width="0.7" stroke-linejoin="round"/>
<path d="M1154.1,1604.1L1150.9,1610.5L1139.4,1621.1L1128.1,1631.8L1125.1,1638.4L1126.7,1639.3L1135.7,1657.2L1134.1,1656.3L1137,1649.7L1148.3,1639L1159.6,1628.5L1162.7,1622.1Z" fill="url(#gyf)" stroke="#4c4c4c" stroke-width="0.7" stroke-linejoin="round"/>
<path d="M1169,1634.7L1166.8,1640.8L1156.1,1651.5L1144.6,1662.5L1141,1669.5L1144.9,1670.9L1154.1,1688.6L1150.2,1687.3L1153.9,1680.3L1165.3,1669.2L1176,1658.6L1178.1,1652.4Z" fill="url(#gyf)" stroke="#4c4c4c" stroke-width="0.7" stroke-linejoin="round"/>
<path d="M1140.4,1558.3L1146.3,1561.2L1162.2,1560.2L1173,1561.1L1172.1,1565L1177.5,1578.9L1178.5,1575.1L1167.6,1574.2L1151.7,1575.2L1145.8,1572.3Z" fill="url(#gyb)" stroke="#4c4c4c" stroke-width="0.6"/>
<path d="M1163.3,1535.6L1157.6,1543L1144.9,1553.1L1140.6,1559.9L1142.7,1560.9L1148.1,1574.8L1146.1,1573.9L1150.4,1567L1163,1556.9L1168.7,1549.6Z" fill="url(#gyf)" stroke="#4c4c4c" stroke-width="0.7" stroke-linejoin="round"/>
<path d="M1173,1561.1L1169.2,1567.8L1156.6,1577.9L1153.1,1581L1158.6,1594.9L1162,1591.9L1174.6,1581.8L1178.5,1575.1Z" fill="url(#gyf)" stroke="#4c4c4c" stroke-width="0.7" stroke-linejoin="round"/>
<g transform="translate(994,1672) rotate(-15)">
<ellipse rx="17.5" ry="14.9" fill="none" stroke="#4c4c4c" stroke-width="14.2"/>
<ellipse rx="17.5" ry="14.9" fill="none" stroke="#858585" stroke-width="13"/>
<ellipse rx="17.5" ry="14.9" fill="none" stroke="#a8a8a8" stroke-width="6.5" stroke-dasharray="28.8 120" stroke-dashoffset="12"/>
</g>
<path d="M961.2,1343.4C963,1342.5 968.7,1338.3 972,1338C975.3,1337.7 978,1339.2 981,1341.6C984,1344 986.7,1350.3 990,1352.4C993.3,1354.5 996,1355.1 1000.8,1354.2C1005.6,1353.3 1013.7,1350.3 1018.8,1347C1023.9,1343.7 1028.4,1338.9 1031.4,1334.4C1034.4,1329.9 1036.5,1325.4 1036.8,1320C1037.1,1314.6 1032.6,1308.3 1033.2,1302C1033.8,1295.7 1037.1,1287 1040.4,1282.2C1043.7,1277.4 1049.7,1275.3 1053,1273.2C1056.3,1271.1 1060.5,1271.1 1060.2,1269.6C1059.9,1268.1 1055.7,1265.7 1051.2,1264.2C1046.7,1262.7 1037.4,1263.3 1033.2,1260.6C1029,1257.9 1026.6,1252.5 1026,1248C1025.4,1243.5 1026.6,1237.8 1029.6,1233.6C1032.6,1229.4 1039.2,1225.5 1044,1222.8C1048.8,1220.1 1056.6,1218.9 1058.4,1217.4C1060.2,1215.9 1057.8,1213.2 1054.8,1213.8C1051.8,1214.4 1045.2,1218.9 1040.4,1221C1035.6,1223.1 1029,1224.3 1026,1226.4C1023,1228.5 1021.8,1230.9 1022.4,1233.6C1023,1236.3 1027.5,1239.6 1029.6,1242.6C1031.7,1245.6 1034.7,1248.3 1035,1251.6C1035.3,1254.9 1034.4,1259.1 1031.4,1262.4C1028.4,1265.7 1021.5,1267.8 1017,1271.4C1012.5,1275 1007.5,1278.9 1004.4,1284C1001.2,1289.1 998.7,1296 998.1,1302C997.5,1308 1000,1314.6 1000.8,1320C1001.5,1325.4 1003.2,1329.9 1002.6,1334.4C1002,1338.9 999,1342.2 997.2,1347C995.4,1351.8 993.3,1359 991.8,1363.2C990.3,1367.4 988.8,1370.7 988.2,1372.2" fill="none" stroke="#a85a06" stroke-width="3.1999999999999997" stroke-linecap="round" stroke-linejoin="round"/>
<path d="M961.2,1343.4C963,1342.5 968.7,1338.3 972,1338C975.3,1337.7 978,1339.2 981,1341.6C984,1344 986.7,1350.3 990,1352.4C993.3,1354.5 996,1355.1 1000.8,1354.2C1005.6,1353.3 1013.7,1350.3 1018.8,1347C1023.9,1343.7 1028.4,1338.9 1031.4,1334.4C1034.4,1329.9 1036.5,1325.4 1036.8,1320C1037.1,1314.6 1032.6,1308.3 1033.2,1302C1033.8,1295.7 1037.1,1287 1040.4,1282.2C1043.7,1277.4 1049.7,1275.3 1053,1273.2C1056.3,1271.1 1060.5,1271.1 1060.2,1269.6C1059.9,1268.1 1055.7,1265.7 1051.2,1264.2C1046.7,1262.7 1037.4,1263.3 1033.2,1260.6C1029,1257.9 1026.6,1252.5 1026,1248C1025.4,1243.5 1026.6,1237.8 1029.6,1233.6C1032.6,1229.4 1039.2,1225.5 1044,1222.8C1048.8,1220.1 1056.6,1218.9 1058.4,1217.4C1060.2,1215.9 1057.8,1213.2 1054.8,1213.8C1051.8,1214.4 1045.2,1218.9 1040.4,1221C1035.6,1223.1 1029,1224.3 1026,1226.4C1023,1228.5 1021.8,1230.9 1022.4,1233.6C1023,1236.3 1027.5,1239.6 1029.6,1242.6C1031.7,1245.6 1034.7,1248.3 1035,1251.6C1035.3,1254.9 1034.4,1259.1 1031.4,1262.4C1028.4,1265.7 1021.5,1267.8 1017,1271.4C1012.5,1275 1007.5,1278.9 1004.4,1284C1001.2,1289.1 998.7,1296 998.1,1302C997.5,1308 1000,1314.6 1000.8,1320C1001.5,1325.4 1003.2,1329.9 1002.6,1334.4C1002,1338.9 999,1342.2 997.2,1347C995.4,1351.8 993.3,1359 991.8,1363.2C990.3,1367.4 988.8,1370.7 988.2,1372.2" fill="none" stroke="#ea820c" stroke-width="2.3" stroke-linecap="round" stroke-linejoin="round"/>
<path d="M1088.1,1176.9C1086.1,1178.2 1079.2,1181.8 1076.4,1185C1073.5,1188.1 1071,1191.3 1071,1195.8C1071,1200.3 1073.1,1207.8 1076.4,1212C1079.7,1216.2 1086.6,1218 1090.8,1221C1095,1224 1100.1,1226.4 1101.6,1230C1103.1,1233.6 1101.9,1239 1099.8,1242.6C1097.7,1246.2 1091.1,1248.3 1089,1251.6C1086.9,1254.9 1085.7,1259.7 1087.2,1262.4C1088.7,1265.1 1094.4,1266 1098,1267.8C1101.6,1269.6 1106.1,1270.5 1108.8,1273.2C1111.5,1275.9 1113,1280.4 1114.2,1284C1115.4,1287.6 1113.6,1292.4 1116,1294.8C1118.4,1297.2 1124.4,1296.6 1128.6,1298.4C1132.8,1300.2 1138.2,1302 1141.2,1305.6C1144.2,1309.2 1143.3,1315.8 1146.6,1320C1149.9,1324.2 1156.5,1327.8 1161,1330.8C1165.5,1333.8 1171.5,1336.8 1173.6,1338" fill="none" stroke="#a85a06" stroke-width="3.1999999999999997" stroke-linecap="round" stroke-linejoin="round"/>
<path d="M1088.1,1176.9C1086.1,1178.2 1079.2,1181.8 1076.4,1185C1073.5,1188.1 1071,1191.3 1071,1195.8C1071,1200.3 1073.1,1207.8 1076.4,1212C1079.7,1216.2 1086.6,1218 1090.8,1221C1095,1224 1100.1,1226.4 1101.6,1230C1103.1,1233.6 1101.9,1239 1099.8,1242.6C1097.7,1246.2 1091.1,1248.3 1089,1251.6C1086.9,1254.9 1085.7,1259.7 1087.2,1262.4C1088.7,1265.1 1094.4,1266 1098,1267.8C1101.6,1269.6 1106.1,1270.5 1108.8,1273.2C1111.5,1275.9 1113,1280.4 1114.2,1284C1115.4,1287.6 1113.6,1292.4 1116,1294.8C1118.4,1297.2 1124.4,1296.6 1128.6,1298.4C1132.8,1300.2 1138.2,1302 1141.2,1305.6C1144.2,1309.2 1143.3,1315.8 1146.6,1320C1149.9,1324.2 1156.5,1327.8 1161,1330.8C1165.5,1333.8 1171.5,1336.8 1173.6,1338" fill="none" stroke="#ea820c" stroke-width="2.3" stroke-linecap="round" stroke-linejoin="round"/>
<path d="M1033.2,1343.4C1035.9,1340.7 1046.1,1332.3 1049.4,1327.2C1052.7,1322.1 1050.6,1317.3 1053,1312.8C1055.4,1308.3 1059.9,1300.5 1063.8,1300.2C1067.7,1299.9 1072.5,1307.1 1076.4,1311C1080.3,1314.9 1083,1321.5 1087.2,1323.6C1091.4,1325.7 1096.8,1322.4 1101.6,1323.6C1106.4,1324.8 1112.1,1327.5 1116,1330.8C1119.9,1334.1 1124.1,1338.9 1125,1343.4C1125.9,1347.9 1124.4,1354.5 1121.4,1357.8C1118.4,1361.1 1109.4,1362.3 1107,1363.2" fill="none" stroke="#5c5c5c" stroke-width="3.1999999999999997" stroke-linecap="round" stroke-linejoin="round"/>
<path d="M1033.2,1343.4C1035.9,1340.7 1046.1,1332.3 1049.4,1327.2C1052.7,1322.1 1050.6,1317.3 1053,1312.8C1055.4,1308.3 1059.9,1300.5 1063.8,1300.2C1067.7,1299.9 1072.5,1307.1 1076.4,1311C1080.3,1314.9 1083,1321.5 1087.2,1323.6C1091.4,1325.7 1096.8,1322.4 1101.6,1323.6C1106.4,1324.8 1112.1,1327.5 1116,1330.8C1119.9,1334.1 1124.1,1338.9 1125,1343.4C1125.9,1347.9 1124.4,1354.5 1121.4,1357.8C1118.4,1361.1 1109.4,1362.3 1107,1363.2" fill="none" stroke="#a0a0a0" stroke-width="2.3" stroke-linecap="round" stroke-linejoin="round"/>
<path d="M986.4,1347L993.6,1334.4L1006.2,1327.2L1018.8,1327.2L1029.6,1334.4L1036.8,1338L1037.7,1348.8L1026,1345.2L1015.2,1338L1006.2,1338L997.2,1345.2L991.8,1352.4Z" fill="#c4b29c" stroke="#8d7c68" stroke-width="0.8"/>
<path d="M957.6,1336.2L964.8,1343.4L968.4,1352.4L959.4,1350.6L957.2,1343.4Z" fill="#c66a08"/>
<path d="M981,1365L990,1362.3L991.8,1373.1L983.7,1374Z" fill="#d9730a"/>
<path d="M1191.6,1517.4C1189.2,1518.6 1180.8,1521.6 1177.2,1524.6C1173.6,1527.6 1170.3,1531.8 1170,1535.4C1169.7,1539 1173.4,1543.6 1175.4,1546.2C1177.3,1548.7 1180.6,1549.9 1181.7,1550.7" fill="none" stroke="#5c5c5c" stroke-width="3.1999999999999997" stroke-linecap="round" stroke-linejoin="round"/>
<path d="M1191.6,1517.4C1189.2,1518.6 1180.8,1521.6 1177.2,1524.6C1173.6,1527.6 1170.3,1531.8 1170,1535.4C1169.7,1539 1173.4,1543.6 1175.4,1546.2C1177.3,1548.7 1180.6,1549.9 1181.7,1550.7" fill="none" stroke="#909090" stroke-width="2.3" stroke-linecap="round" stroke-linejoin="round"/>
<path d="M990,1630.8C987.6,1632.6 979.3,1638 975.6,1641.6C971.8,1645.2 968.8,1650.6 967.5,1652.4" fill="none" stroke="#5c5c5c" stroke-width="3.1999999999999997" stroke-linecap="round" stroke-linejoin="round"/>
<path d="M990,1630.8C987.6,1632.6 979.3,1638 975.6,1641.6C971.8,1645.2 968.8,1650.6 967.5,1652.4" fill="none" stroke="#909090" stroke-width="2.3" stroke-linecap="round" stroke-linejoin="round"/>
<text x="1116.4" y="1190" font-family="'Liberation Sans', Arial, Helvetica, sans-serif" font-size="41" font-weight="normal" fill="#000" text-anchor="start" >N</text>
<text x="873" y="1269.6" font-family="'Liberation Sans', Arial, Helvetica, sans-serif" font-size="42" font-weight="normal" fill="#000" text-anchor="start" >ECL2</text>
<text x="1034" y="1791.7" font-family="'Liberation Sans', Arial, Helvetica, sans-serif" font-size="51" font-weight="normal" fill="#000" text-anchor="start" >P3</text>
<path d="M1458.8,1428C1457.6,1418.5 1451.9,1410 1451.6,1401C1451.3,1392 1457.3,1383 1457,1374C1456.7,1365 1450.4,1356 1449.8,1347C1449.2,1338 1454,1327.5 1453.4,1320C1452.8,1312.5 1446.8,1307.1 1446.2,1302C1445.6,1296.9 1446.5,1293 1449.8,1289.4C1453.1,1285.8 1459.4,1281.6 1466,1280.4C1472.6,1279.2 1482.5,1283.1 1489.4,1282.2C1496.3,1281.3 1503.2,1278 1507.4,1275C1511.6,1272 1513.1,1268.7 1514.6,1264.2C1516.1,1259.7 1513.7,1251.9 1516.4,1248C1519.1,1244.1 1526.9,1244.4 1530.8,1240.8C1534.7,1237.2 1538.9,1231.2 1539.8,1226.4C1540.7,1221.6 1535.9,1216.5 1536.2,1212C1536.5,1207.5 1541.9,1203.9 1541.6,1199.4C1541.3,1194.9 1534.4,1189.8 1534.4,1185C1534.4,1180.2 1538,1174.8 1541.6,1170.6C1545.2,1166.4 1550.6,1161.3 1556,1159.8C1561.4,1158.3 1568,1160.7 1574,1161.6C1580,1162.5 1586,1164.3 1592,1165.2C1598,1166.1 1604.6,1167.6 1610,1167C1615.4,1166.4 1619.3,1163.1 1624.4,1161.6C1629.5,1160.1 1636.4,1157.1 1640.6,1158C1644.8,1158.9 1648.1,1162.2 1649.6,1167C1651.1,1171.8 1650.2,1181.1 1649.6,1186.8C1649,1192.5 1644.8,1197 1646,1201.2C1647.2,1205.4 1653.2,1208.7 1656.8,1212C1660.4,1215.3 1666.1,1216.8 1667.6,1221C1669.1,1225.2 1666.4,1232.1 1665.8,1237.2C1665.2,1242.3 1661.9,1250.7 1664,1251.6C1666.1,1252.5 1673.6,1244.4 1678.4,1242.6C1683.2,1240.8 1688.9,1238.7 1692.8,1240.8C1696.7,1242.9 1699.7,1249.8 1701.8,1255.2C1703.9,1260.6 1702.7,1268.7 1705.4,1273.2C1708.1,1277.7 1712.9,1281.3 1718,1282.2C1723.1,1283.1 1730.9,1277.4 1736,1278.6C1741.1,1279.8 1744.1,1287 1748.6,1289.4C1753.1,1291.8 1757.3,1293.3 1763,1293C1768.7,1292.7 1778.6,1287.3 1782.8,1287.6C1787,1287.9 1790,1291.5 1788.2,1294.8C1786.4,1298.1 1777.7,1303.8 1772,1307.4C1766.3,1311 1757.6,1312.5 1754,1316.4C1750.4,1320.3 1752.2,1325.7 1750.4,1330.8C1748.6,1335.9 1744.7,1341 1743.2,1347C1741.7,1353 1743.2,1360.8 1741.4,1366.8C1739.6,1372.8 1734.8,1377.3 1732.4,1383C1730,1388.7 1729.4,1394.7 1727,1401C1724.6,1407.3 1719.8,1413.3 1718,1420.8C1716.2,1428.3 1716.5,1439.8 1716.2,1446C1715.9,1452.2 1717.1,1453 1716.2,1458C1715.3,1463 1711.7,1470.6 1710.8,1476C1709.9,1481.4 1708.4,1487.4 1710.8,1490.4C1713.2,1493.4 1719.2,1494 1725.2,1494C1731.2,1494 1740.5,1490.7 1746.8,1490.4C1753.1,1490.1 1760,1490.1 1763,1492.2C1766,1494.3 1766.9,1499.1 1764.8,1503C1762.7,1506.9 1754,1511.1 1750.4,1515.6C1746.8,1520.1 1743.5,1524.6 1743.2,1530C1742.9,1535.4 1748,1542 1748.6,1548C1749.2,1554 1748.9,1560.6 1746.8,1566C1744.7,1571.4 1740.8,1576.5 1736,1580.4C1731.2,1584.3 1722.8,1587 1718,1589.4C1713.2,1591.8 1708.4,1590.9 1707.2,1594.8C1706,1598.7 1709.6,1606.8 1710.8,1612.8C1712,1618.8 1712.6,1624.8 1714.4,1630.8C1716.2,1636.8 1719.5,1642.8 1721.6,1648.8C1723.7,1654.8 1726.1,1660.2 1727,1666.8C1727.9,1673.4 1728.5,1682.7 1727,1688.4C1725.5,1694.1 1722.5,1699.2 1718,1701C1713.5,1702.8 1704.2,1697.7 1700,1699.2C1695.8,1700.7 1694.3,1705.2 1692.8,1710C1691.3,1714.8 1692.2,1723.5 1691,1728C1689.8,1732.5 1688.6,1735.5 1685.6,1737C1682.6,1738.5 1676.6,1739.1 1673,1737C1669.4,1734.9 1665.8,1729.5 1664,1724.4C1662.2,1719.3 1663.4,1711.2 1662.2,1706.4C1661,1701.6 1661,1697.7 1656.8,1695.6C1652.6,1693.5 1643.3,1694.4 1637,1693.8C1630.7,1693.2 1625,1692.9 1619,1692C1613,1691.1 1606.4,1689.9 1601,1688.4C1595.6,1686.9 1590.5,1685.7 1586.6,1683C1582.7,1680.3 1582.1,1674.3 1577.6,1672.2C1573.1,1670.1 1565,1670.4 1559.6,1670.4C1554.2,1670.4 1550,1672.2 1545.2,1672.2C1540.4,1672.2 1534.1,1668.9 1530.8,1670.4C1527.5,1671.9 1526.6,1677 1525.4,1681.2C1524.2,1685.4 1525.7,1691.7 1523.6,1695.6C1521.5,1699.5 1517,1702.5 1512.8,1704.6C1508.6,1706.7 1502.9,1708.8 1498.4,1708.2C1493.9,1707.6 1488.8,1704.9 1485.8,1701C1482.8,1697.1 1482.5,1689.9 1480.4,1684.8C1478.3,1679.7 1475,1675.2 1473.2,1670.4C1471.4,1665.6 1472,1660.5 1469.6,1656C1467.2,1651.5 1462.1,1647.9 1458.8,1643.4C1455.5,1638.9 1450.7,1634.1 1449.8,1629C1448.9,1623.9 1452.2,1617.3 1453.4,1612.8C1454.6,1608.3 1457.3,1606.2 1457,1602C1456.7,1597.8 1451.3,1593 1451.6,1587.6C1451.9,1582.2 1458.2,1575.6 1458.8,1569.6C1459.4,1563.6 1454.6,1557.6 1455.2,1551.6C1455.8,1545.6 1459.7,1539.3 1462.4,1533.6C1465.1,1527.9 1470.8,1523.1 1471.4,1517.4C1472,1511.7 1467.2,1506.3 1466,1499.4C1464.8,1492.5 1465.4,1482.9 1464.2,1476C1463,1469.1 1459.7,1466 1458.8,1458C1457.9,1450 1460,1437.5 1458.8,1428Z" fill="#d5d5d7" filter="url(#soft)"/>
<path d="M1460.8,1314.6L1466.5,1317.7L1481.7,1318L1497.7,1318.2L1505.2,1320.8L1504.9,1322.5L1510.3,1341.7L1510.6,1340L1503.2,1337.4L1487.2,1337.3L1472,1336.9L1466.4,1333.8Z" fill="url(#gyb)" stroke="#4c4c4c" stroke-width="0.6"/>
<path d="M1470.5,1347.9L1475.7,1351.1L1490.7,1351.7L1506.9,1352.1L1514.8,1354.8L1513,1358.5L1517.9,1377.9L1519.8,1374.2L1512,1371.4L1495.9,1371L1481,1370.4L1475.8,1367.1Z" fill="url(#gyb)" stroke="#4c4c4c" stroke-width="0.6"/>
<path d="M1479.4,1380.8L1484.1,1384.3L1498.9,1385.5L1515.1,1386.4L1523.4,1389.4L1521.8,1393L1525.9,1412.5L1527.6,1408.9L1519.6,1405.9L1503.4,1404.9L1488.7,1403.8L1484.1,1400.2Z" fill="url(#gyb)" stroke="#4c4c4c" stroke-width="0.6"/>
<path d="M1487.3,1413.2L1491.3,1416.8L1505.8,1419.3L1522.1,1422.2L1530.3,1426.2L1528.7,1429.6L1530.1,1449.6L1532,1446.2L1524.1,1442.1L1508.2,1439.2L1494.1,1436.6L1490.4,1432.9Z" fill="url(#gyb)" stroke="#4c4c4c" stroke-width="0.6"/>
<path d="M1491.5,1445L1494.5,1449.3L1508.3,1453.7L1524.1,1458.3L1532.2,1463L1530.5,1466L1530.2,1486L1532,1483L1524,1478.3L1508.3,1473.7L1494.8,1469.3L1492,1465Z" fill="url(#gyb)" stroke="#4c4c4c" stroke-width="0.6"/>
<path d="M1491.9,1479L1494.2,1483.6L1507.4,1488.4L1523.2,1493.3L1531.6,1497.9L1530,1500.9L1529.8,1520.9L1531.2,1517.9L1522.8,1513.3L1507,1508.4L1493.7,1503.6L1491.5,1499Z" fill="url(#gyb)" stroke="#4c4c4c" stroke-width="0.6"/>
<path d="M1490.5,1515.8L1496.7,1520.3L1511.9,1524.9L1526.5,1529.4L1531.4,1533.9L1530.1,1535.5L1530.1,1555.5L1531.4,1553.9L1526.5,1549.4L1511.9,1544.9L1496.7,1540.3L1490.5,1535.8Z" fill="url(#gyb)" stroke="#4c4c4c" stroke-width="0.6"/>
<path d="M1490.5,1550.6L1496.3,1555.2L1511.3,1559.7L1526.1,1564.2L1531.4,1568.8L1530.3,1570.3L1530.3,1590.3L1531.4,1588.8L1526.1,1584.2L1511.3,1579.7L1496.3,1575.2L1490.5,1570.6Z" fill="url(#gyb)" stroke="#4c4c4c" stroke-width="0.6"/>
<path d="M1495.2,1289.1L1486.2,1296.3L1471.8,1305.1L1461.8,1312.7L1463.3,1317.1L1468.8,1336.3L1467.3,1332L1477.3,1324.4L1491.6,1315.5L1500.6,1308.4Z" fill="url(#gyf)" stroke="#4c4c4c" stroke-width="0.7" stroke-linejoin="round"/>
<path d="M1504,1319.5L1503.2,1324.5L1491.7,1332.5L1477.6,1341.2L1470.5,1347.9L1472.6,1350.4L1477.9,1369.7L1475.8,1367.1L1482.9,1360.5L1497.1,1351.8L1508.6,1343.8L1509.5,1338.8Z" fill="url(#gyf)" stroke="#4c4c4c" stroke-width="0.7" stroke-linejoin="round"/>
<path d="M1514.8,1354.8L1510.1,1360.8L1496.6,1368.9L1483.4,1376.7L1479.6,1382.3L1481.1,1383.5L1485.8,1402.9L1484.2,1401.8L1488,1396.2L1501.3,1388.3L1515,1380.2L1519.8,1374.2Z" fill="url(#gyf)" stroke="#4c4c4c" stroke-width="0.7" stroke-linejoin="round"/>
<path d="M1523.4,1389.4L1519,1395.2L1505.4,1402.6L1491.7,1409.6L1487.1,1414.6L1488.5,1415.8L1491.4,1435.6L1490.2,1434.4L1495.1,1429.3L1509.1,1422.3L1523,1414.8L1527.6,1408.9Z" fill="url(#gyf)" stroke="#4c4c4c" stroke-width="0.7" stroke-linejoin="round"/>
<path d="M1530.3,1426.2L1525.7,1431.5L1511.4,1437L1496.7,1442L1491.1,1446.5L1492.1,1447.9L1492.4,1467.9L1491.4,1466.5L1497.3,1462L1512.4,1457L1527.1,1451.4L1532,1446.2Z" fill="url(#gyf)" stroke="#4c4c4c" stroke-width="0.7" stroke-linejoin="round"/>
<path d="M1532.2,1463L1527.5,1467.5L1512.9,1471.9L1497.6,1476.1L1491.2,1480.5L1491.9,1482L1491.5,1502L1490.7,1500.5L1497.1,1496.1L1512.5,1491.9L1527.2,1487.5L1532,1483Z" fill="url(#gyf)" stroke="#4c4c4c" stroke-width="0.7" stroke-linejoin="round"/>
<path d="M1531.6,1497.9L1527.2,1502.3L1512.7,1506.7L1497.2,1511.2L1490.5,1515.8L1493.3,1518.8L1493.3,1538.8L1490.5,1535.8L1497.2,1531.2L1512.6,1526.7L1526.9,1522.3L1531.2,1517.9Z" fill="url(#gyf)" stroke="#4c4c4c" stroke-width="0.7" stroke-linejoin="round"/>
<path d="M1531.2,1532.4L1527.3,1537L1513.2,1541.5L1497.7,1546.1L1490.5,1550.6L1493,1553.6L1493,1573.6L1490.5,1570.6L1497.7,1566.1L1513.2,1561.5L1527.3,1557L1531.2,1552.4Z" fill="url(#gyf)" stroke="#4c4c4c" stroke-width="0.7" stroke-linejoin="round"/>
<path d="M1531.1,1567.3L1527.7,1571.8L1513.8,1576.4L1498.1,1580.9L1490.6,1585.5L1492.7,1588.5L1492.7,1608.5L1490.6,1605.5L1498.1,1600.9L1513.8,1596.4L1527.7,1591.8L1531.1,1587.3Z" fill="url(#gyf)" stroke="#4c4c4c" stroke-width="0.7" stroke-linejoin="round"/>
<path d="M1526.8,1515.3L1530.3,1519.9L1544.3,1524.8L1559.9,1529.6L1567.1,1534.3L1564.6,1537.3L1564.3,1557.3L1566.7,1554.3L1559.5,1549.6L1544,1544.7L1530,1539.9L1526.4,1535.3Z" fill="url(#gyb)" stroke="#4c4c4c" stroke-width="0.6"/>
<path d="M1526.2,1550.3L1529.6,1554.9L1543.5,1559.7L1559.1,1564.5L1566.5,1569.2L1564.1,1572.2L1563.8,1592.2L1566.1,1589.2L1558.8,1584.5L1543.2,1579.7L1529.3,1574.9L1525.9,1570.3Z" fill="url(#gyb)" stroke="#4c4c4c" stroke-width="0.6"/>
<path d="M1525.7,1585.2L1528.9,1589.8L1542.8,1594.6L1558.4,1599.5L1565.9,1604.2L1563.6,1607.2L1563.3,1627.2L1565.5,1624.1L1558.1,1619.5L1542.4,1614.6L1528.6,1609.8L1525.3,1605.2Z" fill="url(#gyb)" stroke="#4c4c4c" stroke-width="0.6"/>
<path d="M1565.2,1502.3L1552.2,1506.6L1536,1510.9L1526.8,1515.3L1527.7,1518.4L1527.4,1538.4L1526.4,1535.3L1535.7,1530.9L1551.9,1526.6L1564.8,1522.3Z" fill="url(#gyf)" stroke="#4c4c4c" stroke-width="0.7" stroke-linejoin="round"/>
<path d="M1567.1,1534.3L1561.3,1538.7L1546.2,1543L1531.3,1547.3L1525.9,1551.8L1527,1553.3L1526.7,1573.3L1525.5,1571.8L1530.9,1567.3L1545.9,1563L1561,1558.7L1566.7,1554.3Z" fill="url(#gyf)" stroke="#4c4c4c" stroke-width="0.7" stroke-linejoin="round"/>
<path d="M1566.5,1569.2L1560.9,1573.7L1545.8,1578L1530.8,1582.3L1525.3,1586.7L1526.4,1588.3L1526,1608.3L1524.9,1606.7L1530.4,1602.3L1545.4,1598L1560.5,1593.7L1566.1,1589.2Z" fill="url(#gyf)" stroke="#4c4c4c" stroke-width="0.7" stroke-linejoin="round"/>
<path d="M1565.9,1604.2L1560.4,1608.6L1545.4,1612.9L1530.3,1617.2L1527,1618.7L1526.7,1638.7L1530,1637.2L1545,1632.9L1560,1628.6L1565.5,1624.1Z" fill="url(#gyf)" stroke="#4c4c4c" stroke-width="0.7" stroke-linejoin="round"/>
<path d="M1572.2,1401.5L1574.5,1406.1L1587.9,1410.6L1603.9,1415.2L1612.3,1419.8L1610.8,1422.8L1610.8,1442.8L1612.3,1439.8L1603.9,1435.2L1587.9,1430.6L1574.5,1426.1L1572.2,1421.5Z" fill="url(#gyb)" stroke="#4c4c4c" stroke-width="0.6"/>
<path d="M1571.5,1438L1578,1442.6L1593.4,1447.1L1607.9,1451.7L1612.3,1456.3L1610.8,1457.8L1610.8,1477.8L1612.3,1476.3L1607.9,1471.7L1593.4,1467.1L1578,1462.6L1571.5,1458Z" fill="url(#gyb)" stroke="#4c4c4c" stroke-width="0.6"/>
<path d="M1571.5,1473L1577.9,1477.5L1593.3,1482.1L1607.8,1486.7L1612.3,1491.2L1610.9,1492.8L1610.9,1512.8L1612.3,1511.2L1607.8,1506.7L1593.3,1502.1L1577.9,1497.5L1571.5,1493Z" fill="url(#gyb)" stroke="#4c4c4c" stroke-width="0.6"/>
<path d="M1612.3,1419.8L1607.9,1424.3L1593.4,1428.9L1578,1433.5L1571.5,1438L1574.5,1441.1L1574.5,1461.1L1571.5,1458L1578,1453.5L1593.4,1448.9L1607.9,1444.3L1612.3,1439.8Z" fill="url(#gyf)" stroke="#4c4c4c" stroke-width="0.7" stroke-linejoin="round"/>
<path d="M1612.3,1454.7L1607.9,1459.3L1593.5,1463.9L1578.1,1468.4L1571.5,1473L1574.4,1476L1574.4,1496L1571.5,1493L1578.1,1488.4L1593.5,1483.9L1607.9,1479.3L1612.3,1474.7Z" fill="url(#gyf)" stroke="#4c4c4c" stroke-width="0.7" stroke-linejoin="round"/>
<path d="M1612.3,1489.7L1608,1494.3L1593.6,1498.8L1578.2,1503.4L1571.5,1508L1574.4,1511L1574.4,1531L1571.5,1528L1578.2,1523.4L1593.6,1518.8L1608,1514.3L1612.3,1509.7Z" fill="url(#gyf)" stroke="#4c4c4c" stroke-width="0.7" stroke-linejoin="round"/>
<path d="M1705.7,1300.5L1708.4,1306.1L1720.8,1314.6L1734.3,1323.5L1739.4,1329.8L1735.8,1331.9L1730,1351L1733.5,1348.9L1728.4,1342.6L1715,1333.8L1702.6,1325.2L1699.8,1319.6Z" fill="url(#rdb)" stroke="#8e1212" stroke-width="0.6"/>
<path d="M1695.5,1333.9L1698,1339.4L1710.3,1347.9L1723.9,1356.8L1729.2,1363.1L1725.8,1365.3L1720.1,1384.4L1723.4,1382.3L1718.1,1375.9L1704.5,1367.1L1692.2,1358.6L1689.7,1353.1Z" fill="url(#rdb)" stroke="#8e1212" stroke-width="0.6"/>
<path d="M1685.4,1367.4L1687.7,1372.9L1699.9,1381.3L1713.6,1390L1719.2,1396.3L1716,1398.4L1710.6,1417.7L1713.7,1415.5L1708,1409.2L1694.3,1400.5L1682,1392.1L1679.7,1386.6Z" fill="url(#rdb)" stroke="#8e1212" stroke-width="0.6"/>
<path d="M1674.7,1402.9L1676.1,1409.9L1690.8,1415.1L1705.5,1423.2L1711.7,1429.2L1708.8,1431.7L1704.2,1451.2L1707.2,1448.7L1700.9,1442.6L1687.1,1434.8L1674.8,1429.8L1671,1422.5Z" fill="url(#gyb)" stroke="#4c4c4c" stroke-width="0.6"/>
<path d="M1669.1,1435.1L1671.3,1439.9L1683.3,1448.7L1696.3,1459.5L1701.3,1467.5L1698.1,1469.6L1688.9,1487.4L1692.4,1485.4L1688,1477.7L1675.9,1467.3L1664.8,1458.8L1663.3,1454.2Z" fill="url(#gyb)" stroke="#4c4c4c" stroke-width="0.6"/>
<path d="M1658.2,1463.6L1658.6,1468.9L1668.2,1479.7L1679.7,1491.2L1670.2,1508.7L1658.4,1497.1L1648.7,1486.3L1648.4,1481Z" fill="url(#gyb)" stroke="#4c4c4c" stroke-width="0.6"/>
<path d="M1749.5,1296.3L1742,1298.9L1726,1298.8L1710.8,1298.9L1705.2,1301.9L1706.1,1303.8L1700.3,1322.9L1699.3,1321.1L1705,1318L1720.2,1317.9L1736.2,1318L1743.7,1315.5Z" fill="url(#rdf)" stroke="#8e1212" stroke-width="0.7" stroke-linejoin="round"/>
<path d="M1739.4,1329.8L1732.1,1332.3L1716.2,1332.3L1700.8,1332.4L1695,1335.3L1695.8,1337.2L1690,1356.3L1689.1,1354.5L1695,1351.5L1710.4,1351.4L1726.3,1351.5L1733.5,1348.9Z" fill="url(#rdf)" stroke="#8e1212" stroke-width="0.7" stroke-linejoin="round"/>
<path d="M1729.2,1363.1L1722.2,1365.8L1706.4,1365.8L1690.9,1365.9L1684.8,1368.8L1685.6,1370.7L1679.9,1389.8L1679.1,1388L1685.2,1385.1L1700.6,1384.9L1716.4,1384.9L1723.4,1382.3Z" fill="url(#rdf)" stroke="#8e1212" stroke-width="0.7" stroke-linejoin="round"/>
<path d="M1719.2,1396.3L1712.4,1398.9L1696.6,1399.3L1680.7,1400.3L1673.7,1404.9L1674.1,1407.5L1672,1427.4L1670.7,1424.7L1676.3,1419.8L1691.6,1418.6L1707.1,1418.2L1713.7,1415.5Z" fill="url(#gyf)" stroke="#4c4c4c" stroke-width="0.7" stroke-linejoin="round"/>
<path d="M1711.7,1429.2L1705.4,1432.5L1689.9,1433.5L1674.6,1433.9L1668.4,1436.2L1669.2,1437.8L1662.9,1456.8L1662.4,1455.3L1669.1,1453.2L1684.9,1452.9L1700.7,1452L1707.2,1448.7Z" fill="url(#gyf)" stroke="#4c4c4c" stroke-width="0.7" stroke-linejoin="round"/>
<path d="M1701.3,1467.5L1694.6,1469.7L1679.5,1466.9L1664.2,1463.6L1657.1,1464.6L1657.2,1466.4L1647.3,1483.8L1647.2,1482L1654.5,1481.1L1670,1484.4L1685.4,1487.4L1692.4,1485.4Z" fill="url(#gyf)" stroke="#4c4c4c" stroke-width="0.7" stroke-linejoin="round"/>
<path d="M1530.6,1325L1536.7,1328.8L1552.1,1331.5L1567.4,1334.3L1573.4,1338.2L1572.5,1339.9L1574.7,1359.8L1575.7,1358.1L1569.7,1354.2L1554.5,1351.4L1539.1,1348.7L1532.9,1344.8Z" fill="url(#gyb)" stroke="#4c4c4c" stroke-width="0.6"/>
<path d="M1534.7,1358.7L1539.9,1362.6L1554.9,1366.1L1570.5,1370L1577.2,1374.8L1576.5,1376.5L1576.6,1396.4L1577.5,1394.8L1571.2,1390L1556,1386L1541.4,1382.6L1536.4,1378.6Z" fill="url(#gyb)" stroke="#4c4c4c" stroke-width="0.6"/>
<path d="M1538.1,1387.4L1542.8,1390.6L1555.4,1400.1L1566.6,1413.7L1569,1423.5L1565,1424.8L1551.1,1439.2L1555.6,1438.3L1554.6,1429.7L1545.6,1417.5L1535.5,1409.3L1533.8,1406.9Z" fill="url(#gyb)" stroke="#4c4c4c" stroke-width="0.6"/>
<path d="M1526,1409.1L1522.9,1416.2L1530.9,1426.7L1543.8,1432.5L1550.6,1435.1L1548.5,1437.2L1550.8,1457L1551.7,1455.1L1542.5,1452.5L1525.6,1446L1513.5,1433.9L1513.7,1425Z" fill="url(#gyb)" stroke="#4c4c4c" stroke-width="0.6"/>
<path d="M1511.9,1460.3L1519.1,1463.2L1534.8,1462.8L1549.9,1462L1556,1464.5L1555.3,1466.4L1562.3,1485.1L1562.9,1483.3L1556.8,1480.8L1541.5,1481.6L1525.4,1482.2L1517.7,1479.4Z" fill="url(#gyb)" stroke="#4c4c4c" stroke-width="0.6"/>
<path d="M1523.3,1493.9L1529.8,1496.7L1545.2,1495.9L1560.6,1494.5L1567.5,1496.4L1567.1,1498.1L1574.8,1516.6L1575.1,1514.9L1568.1,1513.1L1552.4,1514.5L1536.8,1515.5L1529.9,1512.8Z" fill="url(#gyb)" stroke="#4c4c4c" stroke-width="0.6"/>
<path d="M1536.3,1527.6L1542.2,1530L1557.3,1528.4L1573.2,1526.7L1581.2,1528.4L1579.9,1532.4L1587.3,1550.9L1588.7,1547L1580.9,1545.1L1565.1,1546.8L1550.1,1548.3L1544.2,1546Z" fill="url(#gyb)" stroke="#4c4c4c" stroke-width="0.6"/>
<path d="M1549.6,1558.8L1554.6,1561.7L1569.3,1560.9L1585.4,1559.5L1594,1561.1L1593.1,1564.6L1600.3,1583.3L1601.2,1579.7L1592.6,1578.2L1576.4,1579.6L1561.8,1580.3L1556.8,1577.5Z" fill="url(#gyb)" stroke="#4c4c4c" stroke-width="0.6"/>
<path d="M1562.3,1591.2L1566.5,1594.4L1580.6,1593.7L1597,1592L1606.3,1593.1L1606,1596.5L1613.5,1615L1613.8,1611.6L1604.4,1610.6L1588.1,1612.3L1573.8,1613L1569.6,1609.8Z" fill="url(#gyb)" stroke="#4c4c4c" stroke-width="0.6"/>
<path d="M1575.3,1625.3L1582.6,1627.2L1598.2,1625.7L1613.5,1624.2L1620,1626.4L1619.5,1628.3L1627.1,1646.8L1627.7,1644.9L1621.2,1642.7L1605.8,1644.2L1590.2,1645.7L1582.9,1643.8Z" fill="url(#gyb)" stroke="#4c4c4c" stroke-width="0.6"/>
<path d="M1557.6,1311.5L1541.7,1317.5L1531.4,1323.3L1533.3,1327.7L1535.7,1347.6L1533.7,1343.2L1543.7,1337.4L1559.2,1331.4Z" fill="url(#gyf)" stroke="#4c4c4c" stroke-width="0.7" stroke-linejoin="round"/>
<path d="M1572.8,1336.8L1570.3,1341.7L1557.2,1347.7L1542.1,1353.7L1534.7,1358.7L1536.8,1361.4L1538.3,1381.4L1536.4,1378.6L1544,1373.6L1559.2,1367.6L1572.4,1361.6L1575.1,1356.6Z" fill="url(#gyf)" stroke="#4c4c4c" stroke-width="0.7" stroke-linejoin="round"/>
<path d="M1576.3,1373.1L1574.4,1378.1L1561.6,1382.8L1546,1385.9L1538.1,1387.4L1540,1389L1533.7,1408L1533.8,1406.9L1543.9,1405.8L1560.6,1402.8L1574.3,1398.1L1576.8,1393.1Z" fill="url(#gyf)" stroke="#4c4c4c" stroke-width="0.7" stroke-linejoin="round"/>
<path d="M1569,1423.5L1561.6,1423.9L1547.8,1416.6L1533.2,1409.6L1523.8,1410.5L1522.7,1413L1512.2,1430L1512.3,1426.9L1519.9,1424.5L1533.7,1430.8L1547.5,1438.1L1555.6,1438.3Z" fill="url(#gyf)" stroke="#4c4c4c" stroke-width="0.7" stroke-linejoin="round"/>
<path d="M1550.6,1435.1L1545.4,1438.6L1531.2,1445.1L1517,1453.5L1511.9,1460.3L1515.4,1462.7L1521.6,1481.8L1517.7,1479.4L1522.2,1472.8L1535.4,1464.7L1548.2,1458.4L1551.7,1455.1Z" fill="url(#gyf)" stroke="#4c4c4c" stroke-width="0.7" stroke-linejoin="round"/>
<path d="M1555.3,1463.2L1553.3,1468.7L1541.8,1477.8L1528.8,1487.1L1523.3,1493.9L1526.4,1496.3L1533.2,1515.1L1529.9,1512.8L1535.3,1506L1548.6,1496.7L1560.3,1487.5L1562.2,1481.9Z" fill="url(#gyf)" stroke="#4c4c4c" stroke-width="0.7" stroke-linejoin="round"/>
<path d="M1566.5,1495.3L1565.5,1500.4L1554.7,1509.8L1542,1520.2L1536.3,1527.6L1538.9,1529.8L1546.9,1548.1L1544.2,1546L1549.9,1538.6L1562.6,1528.2L1573.2,1518.9L1574.1,1513.8Z" fill="url(#gyf)" stroke="#4c4c4c" stroke-width="0.7" stroke-linejoin="round"/>
<path d="M1581.2,1528.4L1577.3,1535L1564.9,1544.8L1553,1554.3L1549.9,1560.3L1551.6,1561.2L1558.8,1579.9L1557.1,1578.9L1560.2,1572.9L1572.2,1563.4L1584.7,1553.6L1588.7,1547Z" fill="url(#gyf)" stroke="#4c4c4c" stroke-width="0.7" stroke-linejoin="round"/>
<path d="M1594,1561.1L1590.7,1567.2L1578.6,1576.7L1566.2,1586.4L1562.3,1592.8L1563.8,1593.9L1571.1,1612.5L1569.7,1611.4L1573.5,1605L1585.8,1595.3L1597.9,1585.8L1601.2,1579.7Z" fill="url(#gyf)" stroke="#4c4c4c" stroke-width="0.7" stroke-linejoin="round"/>
<path d="M1606.3,1593.1L1603.9,1598.9L1592.3,1608.5L1579.9,1618.5L1575.3,1625.3L1578.9,1627.1L1586.5,1645.6L1582.9,1643.8L1587.4,1637L1599.9,1627L1611.5,1617.4L1613.8,1611.6Z" fill="url(#gyf)" stroke="#4c4c4c" stroke-width="0.7" stroke-linejoin="round"/>
<path d="M1619.2,1625.2L1617.7,1630.7L1606.6,1640.1L1593.9,1650.3L1588.6,1657.4L1591.6,1659.3L1599.2,1677.8L1596.2,1675.8L1601.5,1668.8L1614.2,1658.6L1625.3,1649.2L1626.8,1643.7Z" fill="url(#gyf)" stroke="#4c4c4c" stroke-width="0.7" stroke-linejoin="round"/>
<path d="M1620.2,1319.8L1626.1,1323.9L1641.4,1327.1L1656.6,1330.3L1662.6,1334.4L1661.6,1336L1663.3,1355.9L1664.3,1354.3L1658.4,1350.2L1643.1,1347L1627.9,1343.8L1621.9,1339.7Z" fill="url(#gyb)" stroke="#4c4c4c" stroke-width="0.6"/>
<path d="M1623.3,1354.2L1628.6,1358.3L1643.5,1361.8L1659,1365.4L1665.5,1369.7L1664.8,1371.3L1665.8,1391.3L1666.6,1389.7L1660.2,1385.4L1644.8,1381.7L1630,1378.3L1624.8,1374.2Z" fill="url(#gyb)" stroke="#4c4c4c" stroke-width="0.6"/>
<path d="M1625.9,1387.2L1630.4,1391.1L1644.8,1396.3L1660,1403.2L1666.3,1410.3L1663.2,1413.5L1657.8,1432.7L1661.8,1429.8L1656.8,1423L1642.8,1416.2L1629.4,1411.1L1625.7,1407.2Z" fill="url(#gyb)" stroke="#4c4c4c" stroke-width="0.6"/>
<path d="M1622.8,1415.8L1624.3,1421.9L1636.3,1429.7L1650.8,1437.3L1657.3,1443.3L1654.5,1445.9L1650.4,1465.4L1653.1,1462.9L1646.8,1456.9L1632.4,1449.3L1619.4,1441.3L1617,1435Z" fill="url(#gyb)" stroke="#4c4c4c" stroke-width="0.6"/>
<path d="M1614.1,1451.6L1615.9,1456.7L1628.3,1463.7L1643,1470.5L1650.3,1475.6L1648.1,1478L1646.1,1497.9L1647.9,1495.4L1640.2,1490.2L1625.1,1483.4L1612.3,1476.4L1610.3,1471.2Z" fill="url(#gyb)" stroke="#4c4c4c" stroke-width="0.6"/>
<path d="M1607.4,1491L1613.6,1495.9L1628.7,1500.2L1643.2,1503.9L1648,1507.8L1646.7,1509.2L1648.3,1529.2L1649.5,1527.7L1644.3,1523.9L1629.4,1520.2L1613.8,1515.9L1607.3,1511Z" fill="url(#gyb)" stroke="#4c4c4c" stroke-width="0.6"/>
<path d="M1608.6,1529.4L1614.8,1533.3L1630.2,1534.9L1645.3,1535.6L1651.3,1538.1L1650.5,1539.7L1656.3,1558.8L1656.9,1557.3L1650.4,1555L1634.6,1554.4L1618.7,1552.9L1611.9,1549.1Z" fill="url(#gyb)" stroke="#4c4c4c" stroke-width="0.6"/>
<path d="M1617.3,1567.5L1623.7,1570.1L1638.9,1568.6L1654.4,1566.5L1661.7,1568L1661.5,1569.7L1670,1587.8L1670.1,1586.1L1662.7,1584.7L1647,1586.9L1631.6,1588.5L1624.9,1586.1Z" fill="url(#gyb)" stroke="#4c4c4c" stroke-width="0.6"/>
<path d="M1631.8,1600.3L1637.7,1602.7L1652.5,1600.6L1668.2,1597.9L1676.2,1598.9L1675,1602.8L1684.1,1620.6L1685.2,1616.8L1677.1,1615.8L1661.3,1618.6L1646.3,1620.8L1640.3,1618.4Z" fill="url(#gyb)" stroke="#4c4c4c" stroke-width="0.6"/>
<path d="M1647.4,1632.3L1652.8,1634.6L1667.3,1632.2L1683.2,1629L1691.8,1629.5L1691.2,1633.3L1700.5,1651L1701.1,1647.2L1692.5,1646.7L1676.6,1649.9L1662,1652.4L1656.6,1650Z" fill="url(#gyb)" stroke="#4c4c4c" stroke-width="0.6"/>
<path d="M1663.7,1663.1L1668.5,1665.7L1682.7,1663.3L1688.4,1662.1L1697.6,1679.9L1692,1681.1L1677.8,1683.4L1673.1,1680.8Z" fill="url(#gyb)" stroke="#4c4c4c" stroke-width="0.6"/>
<path d="M1662,1332.9L1659.3,1337.7L1646,1343.4L1630.8,1349.2L1623.3,1354.2L1625.4,1357.1L1626.9,1377L1624.8,1374.2L1632.3,1369.1L1647.7,1363.3L1661,1357.6L1663.7,1352.8Z" fill="url(#gyf)" stroke="#4c4c4c" stroke-width="0.7" stroke-linejoin="round"/>
<path d="M1664.7,1368.2L1662.7,1373L1649.7,1378.2L1634.1,1383L1625.9,1387.2L1627.5,1389.7L1626.7,1409.7L1625.7,1407.2L1634.4,1403L1650.3,1398.2L1663.6,1393L1665.9,1388.1Z" fill="url(#gyf)" stroke="#4c4c4c" stroke-width="0.7" stroke-linejoin="round"/>
<path d="M1666.3,1410.3L1659.7,1414.3L1644.2,1414.4L1628.7,1414.1L1621.8,1417.5L1622.3,1419.5L1617.2,1438.8L1616.4,1436.7L1622.4,1433.1L1637.8,1433.4L1653.9,1433.5L1661.8,1429.8Z" fill="url(#gyf)" stroke="#4c4c4c" stroke-width="0.7" stroke-linejoin="round"/>
<path d="M1657.3,1443.3L1651.1,1446.7L1635.7,1448.1L1620,1449.5L1613.3,1453L1613.9,1454.7L1610.2,1474.4L1609.5,1472.6L1616,1469.1L1631.6,1467.6L1647,1466.3L1653.1,1462.9Z" fill="url(#gyf)" stroke="#4c4c4c" stroke-width="0.7" stroke-linejoin="round"/>
<path d="M1650.3,1475.6L1645,1479L1629.8,1482.2L1614.2,1486.3L1607.4,1491L1610.2,1494.3L1610.3,1514.3L1607.3,1511L1613.6,1506.3L1628.8,1502.2L1643.2,1499L1647.9,1495.4Z" fill="url(#gyf)" stroke="#4c4c4c" stroke-width="0.7" stroke-linejoin="round"/>
<path d="M1647.8,1506.4L1644,1510.8L1630.1,1516.6L1615.1,1523.3L1608.6,1529.4L1611.4,1532.3L1615.1,1551.9L1611.9,1549.1L1617.9,1543.1L1632.4,1536.5L1645.8,1530.8L1649.2,1526.4Z" fill="url(#gyf)" stroke="#4c4c4c" stroke-width="0.7" stroke-linejoin="round"/>
<path d="M1650.7,1536.9L1648.4,1541.7L1636.3,1550.2L1623,1560.1L1617.3,1567.5L1620.3,1569.8L1628.1,1588.3L1624.9,1586.1L1630.1,1578.8L1642.9,1569.1L1654.4,1560.8L1656.1,1556.2Z" fill="url(#gyf)" stroke="#4c4c4c" stroke-width="0.7" stroke-linejoin="round"/>
<path d="M1660.5,1566.9L1660,1572.1L1649.8,1581.9L1637.4,1592.7L1631.8,1600.3L1634.4,1602.5L1643,1620.6L1640.3,1618.4L1645.9,1610.8L1658.3,1599.9L1668.5,1590.2L1668.9,1585.1Z" fill="url(#gyf)" stroke="#4c4c4c" stroke-width="0.7" stroke-linejoin="round"/>
<path d="M1676.2,1598.9L1672.7,1605.7L1661.2,1616.6L1650.3,1627.4L1647.9,1633.7L1649.7,1634.5L1659,1652.2L1657.1,1651.5L1659.4,1645.1L1670.3,1634.4L1681.7,1623.5L1685.2,1616.8Z" fill="url(#gyf)" stroke="#4c4c4c" stroke-width="0.7" stroke-linejoin="round"/>
<path d="M1691.8,1629.5L1689,1636.1L1678,1647L1666.9,1658L1664,1664.7L1665.6,1665.5L1675,1683.2L1673.3,1682.4L1676.2,1675.7L1687.3,1664.7L1698.4,1653.8L1701.1,1647.2Z" fill="url(#gyf)" stroke="#4c4c4c" stroke-width="0.7" stroke-linejoin="round"/>
<path d="M1686.1,1536.6L1690.6,1541L1706,1544.4L1716.5,1548.2L1715,1551.6L1716.3,1566.5L1717.9,1563.2L1707.4,1559.3L1692,1555.9L1687.5,1551.5Z" fill="url(#gyb)" stroke="#4c4c4c" stroke-width="0.6"/>
<path d="M1714.2,1521.1L1706.8,1526.7L1692,1532.9L1685.8,1538.2L1687.3,1539.7L1688.7,1554.6L1687.2,1553.2L1693.4,1547.8L1708.2,1541.6L1715.6,1536.1Z" fill="url(#gyf)" stroke="#4c4c4c" stroke-width="0.7" stroke-linejoin="round"/>
<path d="M1716.5,1548.2L1711.6,1553.5L1696.9,1559.7L1688.3,1565.3L1688.9,1566.9L1690.3,1581.8L1689.7,1580.3L1698.3,1574.6L1713,1568.5L1717.9,1563.2Z" fill="url(#gyf)" stroke="#4c4c4c" stroke-width="0.7" stroke-linejoin="round"/>
<g transform="translate(1509,1645) rotate(-15)">
<ellipse rx="16" ry="13.6" fill="none" stroke="#4c4c4c" stroke-width="13.2"/>
<ellipse rx="16" ry="13.6" fill="none" stroke="#858585" stroke-width="12"/>
<ellipse rx="16" ry="13.6" fill="none" stroke="#a8a8a8" stroke-width="6" stroke-dasharray="26.4 110" stroke-dashoffset="11"/>
</g>
<circle cx="1556.5" cy="1300.1" r="4.2" fill="#a4c088" opacity="0.82"/>
<circle cx="1591.4" cy="1247.6" r="4.2" fill="#a4c088" opacity="0.82"/>
<circle cx="1574.2" cy="1301.5" r="4.2" fill="#a4c088" opacity="0.82"/>
<circle cx="1595.9" cy="1275.1" r="4.2" fill="#a4c088" opacity="0.82"/>
<circle cx="1557.2" cy="1332.3" r="4.2" fill="#a4c088" opacity="0.82"/>
<circle cx="1596.5" cy="1301.6" r="4.2" fill="#a4c088" opacity="0.82"/>
<circle cx="1607.3" cy="1305.7" r="4.2" fill="#a4c088" opacity="0.82"/>
<circle cx="1587.9" cy="1298.4" r="4.2" fill="#a4c088" opacity="0.82"/>
<circle cx="1573.1" cy="1310.4" r="4.2" fill="#a4c088" opacity="0.82"/>
<circle cx="1564.4" cy="1333.9" r="4.2" fill="#a4c088" opacity="0.82"/>
<circle cx="1611" cy="1258.8" r="4.2" fill="#a4c088" opacity="0.82"/>
<circle cx="1581.5" cy="1275.3" r="4.2" fill="#a4c088" opacity="0.82"/>
<circle cx="1578.7" cy="1260.9" r="4.2" fill="#a4c088" opacity="0.82"/>
<circle cx="1596.7" cy="1267" r="4.2" fill="#a4c088" opacity="0.82"/>
<circle cx="1613.5" cy="1268.6" r="4.2" fill="#a4c088" opacity="0.82"/>
<circle cx="1572.5" cy="1296.7" r="4.2" fill="#a4c088" opacity="0.82"/>
<circle cx="1572" cy="1246.3" r="4.2" fill="#a4c088" opacity="0.82"/>
<circle cx="1580.9" cy="1321.5" r="4.2" fill="#a4c088" opacity="0.82"/>
<circle cx="1609.4" cy="1310" r="4.2" fill="#a4c088" opacity="0.82"/>
<circle cx="1569.8" cy="1279.8" r="4.2" fill="#a4c088" opacity="0.82"/>
<circle cx="1581.4" cy="1258.6" r="4.2" fill="#a4c088" opacity="0.82"/>
<circle cx="1601.5" cy="1266.2" r="4.2" fill="#a4c088" opacity="0.82"/>
<circle cx="1551.6" cy="1311.2" r="4.2" fill="#a4c088" opacity="0.82"/>
<circle cx="1606.4" cy="1265.6" r="4.2" fill="#a4c088" opacity="0.82"/>
<circle cx="1568.6" cy="1325.5" r="4.2" fill="#a4c088" opacity="0.82"/>
<circle cx="1583.4" cy="1339.6" r="4.2" fill="#a4c088" opacity="0.82"/>
<circle cx="1563" cy="1279.6" r="4.2" fill="#a4c088" opacity="0.82"/>
<circle cx="1616.4" cy="1282.4" r="4.2" fill="#a4c088" opacity="0.82"/>
<circle cx="1579.2" cy="1279.5" r="4.2" fill="#a4c088" opacity="0.82"/>
<circle cx="1602.1" cy="1248.9" r="4.2" fill="#a4c088" opacity="0.82"/>
<circle cx="1565.1" cy="1338.7" r="4.2" fill="#a4c088" opacity="0.82"/>
<circle cx="1601.7" cy="1305.3" r="4.2" fill="#a4c088" opacity="0.82"/>
<circle cx="1595.8" cy="1321.6" r="4.2" fill="#a4c088" opacity="0.82"/>
<circle cx="1558" cy="1314.3" r="4.2" fill="#a4c088" opacity="0.82"/>
<circle cx="1557.6" cy="1293.8" r="4.2" fill="#a4c088" opacity="0.82"/>
<circle cx="1573.5" cy="1262.6" r="4.2" fill="#a4c088" opacity="0.82"/>
<circle cx="1565" cy="1284.3" r="4.2" fill="#a4c088" opacity="0.82"/>
<circle cx="1594" cy="1262.2" r="4.2" fill="#a4c088" opacity="0.82"/>
<circle cx="1583.8" cy="1253.2" r="4.2" fill="#a4c088" opacity="0.82"/>
<circle cx="1592.1" cy="1270.2" r="4.2" fill="#a4c088" opacity="0.82"/>
<circle cx="1588" cy="1315.5" r="4.2" fill="#a4c088" opacity="0.82"/>
<circle cx="1571" cy="1316.2" r="4.2" fill="#a4c088" opacity="0.82"/>
<circle cx="1573" cy="1259" r="4.2" fill="#a4c088" opacity="0.82"/>
<circle cx="1570.3" cy="1288.5" r="4.2" fill="#a4c088" opacity="0.82"/>
<circle cx="1553.3" cy="1307.1" r="4.2" fill="#a4c088" opacity="0.82"/>
<circle cx="1598.7" cy="1251.8" r="4.2" fill="#a4c088" opacity="0.82"/>
<circle cx="1606.5" cy="1320.7" r="4.2" fill="#a4c088" opacity="0.82"/>
<circle cx="1557.6" cy="1296.3" r="4.2" fill="#a4c088" opacity="0.82"/>
<circle cx="1600" cy="1334.2" r="4.2" fill="#a4c088" opacity="0.82"/>
<circle cx="1603.1" cy="1274.2" r="4.2" fill="#a4c088" opacity="0.82"/>
<circle cx="1605.3" cy="1272.2" r="4.2" fill="#a4c088" opacity="0.82"/>
<circle cx="1557.2" cy="1288" r="4.2" fill="#a4c088" opacity="0.82"/>
<circle cx="1583.7" cy="1276.3" r="4.2" fill="#a4c088" opacity="0.82"/>
<circle cx="1591.7" cy="1311.6" r="4.2" fill="#a4c088" opacity="0.82"/>
<circle cx="1564.7" cy="1313.9" r="4.2" fill="#a4c088" opacity="0.82"/>
<circle cx="1573.4" cy="1326.4" r="4.2" fill="#a4c088" opacity="0.82"/>
<circle cx="1568.4" cy="1333.5" r="4.2" fill="#a4c088" opacity="0.82"/>
<circle cx="1577.6" cy="1306.1" r="4.2" fill="#a4c088" opacity="0.82"/>
<circle cx="1596.7" cy="1302.2" r="4.2" fill="#a4c088" opacity="0.82"/>
<circle cx="1587.5" cy="1247.6" r="4.2" fill="#a4c088" opacity="0.82"/>
<circle cx="1558.4" cy="1333.6" r="4.2" fill="#a4c088" opacity="0.82"/>
<circle cx="1604.8" cy="1315.5" r="4.2" fill="#a4c088" opacity="0.82"/>
<circle cx="1622.6" cy="1238.1" r="4.2" fill="#a4c088" opacity="0.82"/>
<circle cx="1628" cy="1238.6" r="4.2" fill="#a4c088" opacity="0.82"/>
<circle cx="1634.3" cy="1238.1" r="4.2" fill="#a4c088" opacity="0.82"/>
<circle cx="1631.6" cy="1242.6" r="4.2" fill="#a4c088" opacity="0.82"/>
<path d="M1584.8,1240.8C1584.5,1244.4 1582.7,1255.8 1583,1262.4C1583.3,1269 1586.9,1275.9 1586.6,1280.4C1586.3,1284.9 1580.9,1285.8 1581.2,1289.4C1581.5,1293 1586.6,1298.1 1588.4,1302C1590.2,1305.9 1592,1308.6 1592,1312.8C1592,1317 1590.2,1323.6 1588.4,1327.2C1586.6,1330.8 1582.4,1333.2 1581.2,1334.4" fill="none" stroke="#4d8a08" stroke-width="3.6999999999999997" stroke-linecap="round" stroke-linejoin="round"/>
<path d="M1584.8,1240.8C1584.5,1244.4 1582.7,1255.8 1583,1262.4C1583.3,1269 1586.9,1275.9 1586.6,1280.4C1586.3,1284.9 1580.9,1285.8 1581.2,1289.4C1581.5,1293 1586.6,1298.1 1588.4,1302C1590.2,1305.9 1592,1308.6 1592,1312.8C1592,1317 1590.2,1323.6 1588.4,1327.2C1586.6,1330.8 1582.4,1333.2 1581.2,1334.4" fill="none" stroke="#79c010" stroke-width="2.8" stroke-linecap="round" stroke-linejoin="round"/>
<path d="M1579.4,1251.6C1580.3,1250.1 1582.7,1245.4 1584.8,1242.6C1586.9,1239.7 1588.1,1236.6 1592,1234.5C1595.9,1232.4 1605.5,1230.7 1608.2,1230" fill="none" stroke="#a85a06" stroke-width="3.3" stroke-linecap="round" stroke-linejoin="round"/>
<path d="M1579.4,1251.6C1580.3,1250.1 1582.7,1245.4 1584.8,1242.6C1586.9,1239.7 1588.1,1236.6 1592,1234.5C1595.9,1232.4 1605.5,1230.7 1608.2,1230" fill="none" stroke="#e07818" stroke-width="2.4" stroke-linecap="round" stroke-linejoin="round"/>
<circle cx="1552.4" cy="1266" r="4.4" fill="#e58a10"/>
<circle cx="1574" cy="1268.7" r="4.4" fill="#e58a10"/>
<circle cx="1548.8" cy="1282.2" r="4.4" fill="#e58a10"/>
<circle cx="1577.6" cy="1279.5" r="4.4" fill="#e58a10"/>
<circle cx="1573.1" cy="1288.5" r="4.4" fill="#e58a10"/>
<path d="M1489.4,1298.4C1491.5,1297.5 1497.8,1294.5 1502,1293C1506.2,1291.5 1511,1287.9 1514.6,1289.4C1518.2,1290.9 1520.9,1298.4 1523.6,1302C1526.3,1305.6 1527.2,1310.1 1530.8,1311C1534.4,1311.9 1541,1309.2 1545.2,1307.4C1549.4,1305.6 1552.4,1301.1 1556,1300.2C1559.6,1299.3 1565,1301.7 1566.8,1302" fill="none" stroke="#9c1414" stroke-width="3.1999999999999997" stroke-linecap="round" stroke-linejoin="round"/>
<path d="M1489.4,1298.4C1491.5,1297.5 1497.8,1294.5 1502,1293C1506.2,1291.5 1511,1287.9 1514.6,1289.4C1518.2,1290.9 1520.9,1298.4 1523.6,1302C1526.3,1305.6 1527.2,1310.1 1530.8,1311C1534.4,1311.9 1541,1309.2 1545.2,1307.4C1549.4,1305.6 1552.4,1301.1 1556,1300.2C1559.6,1299.3 1565,1301.7 1566.8,1302" fill="none" stroke="#e83030" stroke-width="2.3" stroke-linecap="round" stroke-linejoin="round"/>
<path d="M1541.6,1284C1540.4,1286.4 1536.2,1293.9 1534.4,1298.4C1532.6,1302.9 1531.4,1308.9 1530.8,1311" fill="none" stroke="#9c1414" stroke-width="3.1999999999999997" stroke-linecap="round" stroke-linejoin="round"/>
<path d="M1541.6,1284C1540.4,1286.4 1536.2,1293.9 1534.4,1298.4C1532.6,1302.9 1531.4,1308.9 1530.8,1311" fill="none" stroke="#e83030" stroke-width="2.3" stroke-linecap="round" stroke-linejoin="round"/>
<path d="M1557.8,1233.6C1559.9,1232.1 1566.8,1228.2 1570.4,1224.6C1574,1221 1577.6,1216.2 1579.4,1212C1581.2,1207.8 1581.8,1203.9 1581.2,1199.4C1580.6,1194.9 1577.6,1188.9 1575.8,1185C1574,1181.1 1573.7,1177.5 1570.4,1176C1567.1,1174.5 1559.9,1174.8 1556,1176C1552.1,1177.2 1548.5,1180.2 1547,1183.2C1545.5,1186.2 1544.9,1191 1547,1194C1549.1,1197 1555.1,1200 1559.6,1201.2C1564.1,1202.4 1570.1,1201.8 1574,1201.2C1577.9,1200.6 1581.5,1198.2 1583,1197.6" fill="none" stroke="#9c1414" stroke-width="3.1999999999999997" stroke-linecap="round" stroke-linejoin="round"/>
<path d="M1557.8,1233.6C1559.9,1232.1 1566.8,1228.2 1570.4,1224.6C1574,1221 1577.6,1216.2 1579.4,1212C1581.2,1207.8 1581.8,1203.9 1581.2,1199.4C1580.6,1194.9 1577.6,1188.9 1575.8,1185C1574,1181.1 1573.7,1177.5 1570.4,1176C1567.1,1174.5 1559.9,1174.8 1556,1176C1552.1,1177.2 1548.5,1180.2 1547,1183.2C1545.5,1186.2 1544.9,1191 1547,1194C1549.1,1197 1555.1,1200 1559.6,1201.2C1564.1,1202.4 1570.1,1201.8 1574,1201.2C1577.9,1200.6 1581.5,1198.2 1583,1197.6" fill="none" stroke="#e83030" stroke-width="2.3" stroke-linecap="round" stroke-linejoin="round"/>
<path d="M1613.6,1235.4C1615.4,1236.6 1620.5,1241.1 1624.4,1242.6C1628.3,1244.1 1633.4,1242.9 1637,1244.4C1640.6,1245.9 1644.2,1248 1646,1251.6C1647.8,1255.2 1646,1263 1647.8,1266C1649.6,1269 1653.2,1269.6 1656.8,1269.6C1660.4,1269.6 1665.8,1265.4 1669.4,1266C1673,1266.6 1675.7,1270.2 1678.4,1273.2C1681.1,1276.2 1682.6,1280.7 1685.6,1284C1688.6,1287.3 1692.2,1291.2 1696.4,1293C1700.6,1294.8 1707.2,1293.9 1710.8,1294.8C1714.4,1295.7 1716.8,1297.8 1718,1298.4" fill="none" stroke="#9c1414" stroke-width="3.1999999999999997" stroke-linecap="round" stroke-linejoin="round"/>
<path d="M1613.6,1235.4C1615.4,1236.6 1620.5,1241.1 1624.4,1242.6C1628.3,1244.1 1633.4,1242.9 1637,1244.4C1640.6,1245.9 1644.2,1248 1646,1251.6C1647.8,1255.2 1646,1263 1647.8,1266C1649.6,1269 1653.2,1269.6 1656.8,1269.6C1660.4,1269.6 1665.8,1265.4 1669.4,1266C1673,1266.6 1675.7,1270.2 1678.4,1273.2C1681.1,1276.2 1682.6,1280.7 1685.6,1284C1688.6,1287.3 1692.2,1291.2 1696.4,1293C1700.6,1294.8 1707.2,1293.9 1710.8,1294.8C1714.4,1295.7 1716.8,1297.8 1718,1298.4" fill="none" stroke="#e83030" stroke-width="2.3" stroke-linecap="round" stroke-linejoin="round"/>
<path d="M1635.2,1176C1632.5,1176.3 1623.2,1176.3 1619,1177.8C1614.8,1179.3 1611.9,1182 1610,1185C1608,1188 1607,1192.2 1607.3,1195.8C1607.6,1199.4 1609.5,1203.9 1611.8,1206.6C1614,1209.3 1617.2,1211.8 1620.8,1212C1624.4,1212.1 1632.8,1207.2 1633.4,1207.5C1634,1207.8 1626.8,1211.5 1624.4,1213.8C1622,1216 1620.8,1218.3 1619,1221C1617.2,1223.7 1614.5,1228.5 1613.6,1230" fill="none" stroke="#9c1414" stroke-width="3.1999999999999997" stroke-linecap="round" stroke-linejoin="round"/>
<path d="M1635.2,1176C1632.5,1176.3 1623.2,1176.3 1619,1177.8C1614.8,1179.3 1611.9,1182 1610,1185C1608,1188 1607,1192.2 1607.3,1195.8C1607.6,1199.4 1609.5,1203.9 1611.8,1206.6C1614,1209.3 1617.2,1211.8 1620.8,1212C1624.4,1212.1 1632.8,1207.2 1633.4,1207.5C1634,1207.8 1626.8,1211.5 1624.4,1213.8C1622,1216 1620.8,1218.3 1619,1221C1617.2,1223.7 1614.5,1228.5 1613.6,1230" fill="none" stroke="#e83030" stroke-width="2.3" stroke-linecap="round" stroke-linejoin="round"/>
<path d="M1554.2,1237.2L1559.6,1255.2L1556,1256.1L1552.4,1284L1539.8,1282.2L1545.2,1257L1540.7,1257.9Z" fill="#d92020" stroke="#8e1212" stroke-width="0.8"/>
<path d="M1572.2,1251.6L1579.4,1255.2L1574,1278.6L1577.6,1279.5L1567.7,1299.3L1563.2,1276.8L1567.7,1277.7Z" fill="#e03030" stroke="#8e1212" stroke-width="0.8"/>
<path d="M1583,1197.6L1590.2,1201.2L1595.6,1215.6L1608.2,1222.8L1615.4,1235.4L1602.8,1237.2L1592,1233.6L1584.8,1224.6L1586.6,1212Z" fill="#dc3a20" stroke="#8e1212" stroke-width="0.8"/>
<path d="M1480.4,1284.9L1487.6,1293L1492.1,1302L1484,1298.4Z" fill="#a81818"/>
<path d="M1514.6,1321.8L1525.4,1317.3L1528.1,1330.8L1518.2,1336.2Z" fill="#d92020"/>
<path d="M1599.2,1289.4C1598.9,1287.9 1596.8,1283.7 1597.4,1280.4C1598,1277.1 1600.1,1272.6 1602.8,1269.6C1605.5,1266.6 1610.6,1262.4 1613.6,1262.4C1616.6,1262.4 1618.4,1266.6 1620.8,1269.6C1623.2,1272.6 1625.9,1277.4 1628,1280.4C1630.1,1283.4 1630.4,1286.4 1633.4,1287.6C1636.4,1288.8 1641.5,1286.7 1646,1287.6C1650.5,1288.5 1656.5,1290 1660.4,1293C1664.3,1296 1668.2,1301.4 1669.4,1305.6C1670.6,1309.8 1669.7,1314.9 1667.6,1318.2C1665.5,1321.5 1660.4,1323.6 1656.8,1325.4C1653.2,1327.2 1647.8,1328.4 1646,1329" fill="none" stroke="#3c3c3c" stroke-width="3.1999999999999997" stroke-linecap="round" stroke-linejoin="round"/>
<path d="M1599.2,1289.4C1598.9,1287.9 1596.8,1283.7 1597.4,1280.4C1598,1277.1 1600.1,1272.6 1602.8,1269.6C1605.5,1266.6 1610.6,1262.4 1613.6,1262.4C1616.6,1262.4 1618.4,1266.6 1620.8,1269.6C1623.2,1272.6 1625.9,1277.4 1628,1280.4C1630.1,1283.4 1630.4,1286.4 1633.4,1287.6C1636.4,1288.8 1641.5,1286.7 1646,1287.6C1650.5,1288.5 1656.5,1290 1660.4,1293C1664.3,1296 1668.2,1301.4 1669.4,1305.6C1670.6,1309.8 1669.7,1314.9 1667.6,1318.2C1665.5,1321.5 1660.4,1323.6 1656.8,1325.4C1653.2,1327.2 1647.8,1328.4 1646,1329" fill="none" stroke="#8a8a8a" stroke-width="2.3" stroke-linecap="round" stroke-linejoin="round"/>
<path d="M1741.4,1504.8C1738.7,1506 1728.8,1508.7 1725.2,1512C1721.6,1515.3 1720.3,1520.3 1719.8,1524.6C1719.2,1528.9 1721.6,1535.8 1722,1538" fill="none" stroke="#5c5c5c" stroke-width="3.1999999999999997" stroke-linecap="round" stroke-linejoin="round"/>
<path d="M1741.4,1504.8C1738.7,1506 1728.8,1508.7 1725.2,1512C1721.6,1515.3 1720.3,1520.3 1719.8,1524.6C1719.2,1528.9 1721.6,1535.8 1722,1538" fill="none" stroke="#909090" stroke-width="2.3" stroke-linecap="round" stroke-linejoin="round"/>
<path d="M1694.6,1526.4C1697.3,1526.7 1706,1527.3 1710.8,1528.2C1715.6,1529.1 1721.3,1531.2 1723.4,1531.8" fill="none" stroke="#5c5c5c" stroke-width="3.1999999999999997" stroke-linecap="round" stroke-linejoin="round"/>
<path d="M1694.6,1526.4C1697.3,1526.7 1706,1527.3 1710.8,1528.2C1715.6,1529.1 1721.3,1531.2 1723.4,1531.8" fill="none" stroke="#909090" stroke-width="2.3" stroke-linecap="round" stroke-linejoin="round"/>
<path d="M1514.6,1600.2C1511.9,1601.4 1503.5,1604.1 1498.4,1607.4C1493.3,1610.7 1486.4,1617.9 1484,1620" fill="none" stroke="#5c5c5c" stroke-width="3.1999999999999997" stroke-linecap="round" stroke-linejoin="round"/>
<path d="M1514.6,1600.2C1511.9,1601.4 1503.5,1604.1 1498.4,1607.4C1493.3,1610.7 1486.4,1617.9 1484,1620" fill="none" stroke="#909090" stroke-width="2.3" stroke-linecap="round" stroke-linejoin="round"/>
<text x="1654.5" y="1193" font-family="'Liberation Sans', Arial, Helvetica, sans-serif" font-size="41" font-weight="normal" fill="#000" text-anchor="start" >N</text>
<text x="1394.7" y="1268" font-family="'Liberation Sans', Arial, Helvetica, sans-serif" font-size="42" font-weight="normal" fill="#000" text-anchor="start" >ECL2</text>
<text x="1579" y="1787.2" font-family="'Liberation Sans', Arial, Helvetica, sans-serif" font-size="51" font-weight="normal" fill="#000" text-anchor="start" >P4</text>
<path d="M17,468l2 0.1 2 0.2 2-0.1 2-0.6 2-0.9 2-0.4 2 0.2 2 0.2 2 0 2 0.2 2 0.2 2-0.1 2-0.4 2-0.5 2-0.1 2 0.2 2-0.1 2-0.3 2 0.2 2 0.6 2 0.4 2 0.2 2 0 2-0.6 2-0.7 2-0.5 2-0.7 2-0.2 2 0.3 2 0.2 2-0.3 2-0.5 2-0.2 2 0.1 2-0.2 2-0.5 2-0.2 2 0.4 2 0.2 2-0.1 2-0.3 2-0.3 2-0.5 2-0.6 2-0.2 2 0.2 2-0.2 2-0.4 2-0.1 2 0.1 2-0.2 2-0.2 2-0.2 2-0.4 2-0.4 2-0.2 2-0.1 2-0.1 2 0 2-0.3 2-0.7 2-1.1 2-0.9 2-0.3 2-0.4 2-0.7 2-0.5 2-0.7 2-0.7 2-0.5 2-1 2-1 2-1 2-1.3 2-1.2 2-1 2-0.9 2-1.2 2-1.5 2-1.7 2-1.9 2-1.9 2-1.9 2-1.9 2-2.1 2-2.2 2-2.5 2-3 2-3.2 2-3.1 2-3.5 2-3.7 2-4 2-4.1 2-4 2-4.3 2-5.5 2-6.6 2-7.1 2-8.1 2-9.3 2-10.1 2-11.3 2-13.3 2-16.1 2-19.4 2-22.8 2-24.2 2-18.4 2-10.8 2-9.9 2-11.6 2-12.4 2-11.5 2-8.8 2-4.6 2 0.2 2 4.8 2 9.1 2 13 2 15.8 2 17.1 2 17.6 2 17.9 2 17.4 2 16.2 2 14.9 2 14.1 2 12.9 2 11.7 2 10.4 2 9.3 2 8.5 2 7.4 2 6.5 2 6 2 5.5 2 4.9 2 4.5 2 3.8 2 3.6 2 3.4 2 2.9 2 2.5 2 2.4 2 3 2 3.1 2 2.5 2 1.9 2 2 2 2 2 2 2 1.6 2 1.3 2 1.3 2 1.2 2 1.1 2 1.1 2 0.8 2 0.9 2 1.2 2 1.2 2 0.5 2 0.3 2 0.6 2 0.2 2 0.1 2 0.5 2 0.6 2 0.2 2-0.3 2-0.4 2 0 2 0.2 2-0.2 2-0.2 2-0.1 2 0 2-0.4 2-1.3 2-1.4 2-1.3 2-1 2-0.9 2-1.3 2-1.4 2-1.3 2-1.7 2-2.1 2-2.2 2-2.4 2-2.9 2-3.6 2-4.4 2-4.6 2-4.8 2-5.3 2-6.3 2-7.1 2-7.5 2-7.8 2-7.6 2-7.5 2-7.1 2-5.5 2-3.3 2-1.3 2 1 2 3.1 2 4.5 2 5.9 2 6.9 2 7.2 2 7.2 2 7.4 2 7.4 2 6.9 2 6.2 2 5.5 2 4.7 2 4.3 2 4.1 2 3.8 2 3.7 2 3.4 2 2.7 2 2.2 2 2.1 2 1.9 2 1.4 2 1.1 2 1.1 2 1.2 2 1.4 2 1.4 2 1.6 2 1.3 2 0.9 2 0.8 2 1 2 1.1 2 0.7 2 0.3 2 0.2 2 0.3 2 0.4 2 0.7 2 0.5 2 0.2 2 0.2 2 0.4 2 0.3 2 0 2 0.2 2 0.5 2 0.7 2 0.3 2-0.2 2-0.6 2-0.2 2-0.1 2 0.4 2 0.9 2 0.7 2 0.1 2 0.3 2 0.1 2-0.3 2-0.2 2 0.3 2 0.2 2 0 2 0.2 2 0.2 2 0.1 2 0.3 2 0.5 2 0.4 2 0.3 2 0 2 0.1 2 0.2 2 0.3 2 0.7 2 0.6 2-0.1 2 0 2 0.2 2-0.4 2-0.9 2-0.6 2-0.3 2-0.1 2 0.2 2 0.6 2 0.4 2-0.2 2-0.6 2-0.6 2-0.6 2-0.2 2 0.4 2 0.6 2 0.1 2 0" fill="none" stroke="#000000" stroke-width="9" stroke-linejoin="round" stroke-linecap="butt" />
<path d="M17,475.2l2 0.3 2 0.3 2 0 2-0.8 2-1.3 2-0.4 2 0.3 2 0.3 2 0.2 2 0.4 2 0.4 2 0 2-0.6 2-0.6 2 0 2 0.4 2 0 2-0.4 2 0.4 2 1.1 2 0.8 2 0.4 2 0.1 2-0.7 2-0.8 2-0.7 2-0.9 2-0.2 2 0.8 2 0.4 2-0.3 2-0.6 2 0 2 0.3 2 0 2-0.6 2 0 2 0.8 2 0.6 2 0 2-0.1 2-0.1 2-0.5 2-0.6 2 0 2 0.5 2 0.1 2-0.2 2 0.3 2 0.5 2 0.1 2 0.1 2 0.1 2-0.1 2-0.2 2 0.3 2 0.3 2 0.4 2 0.6 2 0.2 2-0.4 2-1.1 2-0.6 2 0.3 2 0.2 2-0.1 2 0.1 2-0.2 2 0 2 0.3 2-0.4 2-0.2 2-0.2 2-0.5 2-0.4 2 0.2 2 0.4 2 0.3 2-0.1 2-0.2 2-0.3 2-0.2 2 0.1 2 0.4 2 0.3 2 0.3 2 0.1 2-0.3 2-0.3 2 0 2-0.2 2-0.3 2-0.3 2 0.2 2 0.9 2 1 2 0.1 2-0.6 2-0.2 2-0.3 2-0.4 2 0 2 0.6 2 0.4 2 0.1 2-0.1 2 0.4 2 0.6 2-0.1 2-0.4 2-0.3 2 0 2-0.3 2-0.7 2-0.5 2 0.1 2 0.4 2 0.4 2 0.1 2 0.8 2 0.7 2 0.1 2-0.4 2-0.1 2 0 2-0.5 2-0.6 2-0.1 2 0.1 2 0.1 2-0.1 2-0.2 2 0.1 2-0.1 2-0.4 2 0 2 0 2 0.1 2 0.1 2-0.3 2-0.1 2 0.1 2-0.2 2-0.6 2-0.3 2 0.7 2 1.2 2 0.4 2-0.1 2-0.1 2 0.4 2 0.3 2-0.1 2-0.3 2-0.2 2-0.4 2-0.2 2-0.1 2-0.4 2-0.2 2 0.6 2 0.6 2-0.4 2-0.5 2 0 2-0.3 2-0.5 2 0.2 2 0.6 2 0.1 2-0.5 2-0.6 2 0.1 2 0.4 2 0.1 2 0 2 0.5 2 0.7 2 0.2 2-0.9 2-1 2-0.6 2 0.1 2 0.4 2 0 2 0.2 2 0.5 2 0.3 2 0.2 2 0.4 2 0.6 2 0.3 2-0.1 2-0.5 2-0.3 2 0.4 2 0.5 2-0.4 2-0.5 2-0.6 2-0.6 2-0.1 2-0.4 2-0.9 2-0.2 2 0.5 2 0.6 2 0.7 2 0.5 2-0.1 2-0.4 2-0.2 2-0.5 2-0.9 2-0.2 2 0.4 2 0.3 2 0.2 2-0.2 2-0.6 2-0.3 2 0.1 2 0.3 2 0.6 2 0.8 2 0.2 2-0.3 2-0.1 2 0 2-0.4 2-0.7 2-0.5 2 0 2 0.3 2 0.5 2 0.8 2 0.6 2 0.1 2 0.1 2 0.5 2 0.7 2 0 2-0.4 2-0.4 2-0.3 2-0.1 2 0.4 2 0.1 2-0.3 2-0.2 2 0.1 2-0.1 2-0.3 2-0.1 2 0.3 2 0.6 2 0.2 2-0.8 2-1.1 2-0.7 2-0.3 2 0.3 2 1.1 2 0.7 2 0 2 0.2 2 0 2-0.8 2-0.5 2 0.3 2 0.1 2-0.2 2 0.2 2 0.1 2 0 2 0.3 2 0.6 2 0.5 2 0.3 2-0.2 2 0 2 0.2 2 0.4 2 0.9 2 0.7 2-0.2 2-0.1 2 0.2 2-0.7 2-1.4 2-1 2-0.5 2-0.3 2 0.3 2 0.7 2 0.6 2-0.4 2-1 2-1 2-0.9 2-0.4 2 0.6 2 0.8 2 0.1 2-0.2" fill="none" stroke="#00e8f0" stroke-width="9" stroke-linejoin="round" stroke-linecap="butt" />
<path d="M17,467.5l2-0.1 2 0 2-0.1 2 0 2-0.1 2-0.1 2 0 2-0.1 2-0.1 2 0 2-0.1 2-0.1 2 0 2-0.1 2-0.1 2-0.1 2 0 2-0.1 2-0.1 2-0.1 2-0.1 2-0.1 2-0.1 2-0.1 2-0.1 2-0.1 2-0.1 2-0.1 2-0.1 2-0.2 2-0.1 2-0.1 2-0.2 2-0.1 2-0.1 2-0.2 2-0.1 2-0.2 2-0.2 2-0.1 2-0.2 2-0.2 2-0.2 2-0.2 2-0.2 2-0.2 2-0.3 2-0.2 2-0.2 2-0.3 2-0.3 2-0.3 2-0.2 2-0.3 2-0.4 2-0.3 2-0.4 2-0.3 2-0.4 2-0.4 2-0.4 2-0.5 2-0.5 2-0.5 2-0.5 2-0.5 2-0.6 2-0.7 2-0.6 2-0.7 2-0.7 2-0.8 2-0.9 2-0.8 2-1 2-1 2-1.1 2-1.1 2-1.3 2-1.3 2-1.4 2-1.6 2-1.6 2-1.8 2-2 2-2.1 2-2.3 2-2.5 2-2.7 2-2.9 2-3.3 2-3.6 2-3.9 2-4.3 2-4.8 2-5.3 2-5.9 2-6.6 2-7.3 2-8.2 2-9.3 2-10.4 2-12 2-13.8 2-16.3 2-19.4 2-23.3 2-24.6 2-18.4 2-10.6 2-9.7 2-11.6 2-12.2 2-11.1 2-8.4 2-4.5 2-0.1 2 4.7 2 9 2 12.7 2 15.4 2 17.2 2 18.1 2 18.1 2 17.7 2 16.7 2 15.7 2 14.4 2 13.2 2 12 2 10.9 2 9.7 2 8.8 2 7.9 2 7.1 2 6.4 2 5.8 2 5.2 2 4.7 2 4.2 2 3.9 2 3.5 2 3.1 2 2.9 2 2.6 2 2.4 2 2.2 2 2 2 1.8 2 1.7 2 1.5 2 1.4 2 1.3 2 1.2 2 1.1 2 0.9 2 0.9 2 0.8 2 0.8 2 0.6 2 0.6 2 0.5 2 0.5 2 0.4 2 0.3 2 0.3 2 0.3 2 0.1 2 0.1 2 0.1 2 0 2-0.1 2-0.1 2-0.2 2-0.2 2-0.3 2-0.4 2-0.5 2-0.6 2-0.7 2-0.8 2-0.8 2-1.1 2-1.1 2-1.4 2-1.5 2-1.7 2-1.9 2-2.2 2-2.4 2-2.8 2-3.2 2-3.5 2-4 2-4.5 2-5 2-5.6 2-6.1 2-6.7 2-7.1 2-7.5 2-7.5 2-7.2 2-6.5 2-5.4 2-3.7 2-1.6 2 0.5 2 2.8 2 4.6 2 6 2 7.1 2 7.6 2 7.7 2 7.6 2 7.2 2 6.6 2 6.2 2 5.6 2 5 2 4.5 2 4.1 2 3.6 2 3.2 2 2.9 2 2.6 2 2.4 2 2.1 2 1.9 2 1.7 2 1.6 2 1.4 2 1.3 2 1.2 2 1 2 1 2 0.9 2 0.9 2 0.7 2 0.7 2 0.7 2 0.6 2 0.6 2 0.5 2 0.5 2 0.5 2 0.4 2 0.4 2 0.4 2 0.3 2 0.4 2 0.3 2 0.3 2 0.2 2 0.3 2 0.3 2 0.2 2 0.2 2 0.2 2 0.2 2 0.2 2 0.2 2 0.2 2 0.2 2 0.1 2 0.2 2 0.1 2 0.2 2 0.1 2 0.1 2 0.2 2 0.1 2 0.1 2 0.1 2 0.1 2 0.1 2 0.1 2 0.1 2 0.1 2 0.1 2 0.1 2 0.1 2 0 2 0.1 2 0.1 2 0.1 2 0 2 0.1 2 0.1 2 0 2 0.1 2 0 2 0.1 2 0 2 0.1 2 0.1 2 0 2 0.1 2 0 2 0.1 2 0 2 0 2 0.1 2 0 2 0.1" fill="none" stroke="#1490ff" stroke-width="9" stroke-linejoin="round" stroke-linecap="butt" />
<path d="M17,470.7l2 0 2 0 2 0 2 0 2 0 2 0 2 0 2 0 2 0 2 0 2 0 2 0 2 0 2 0 2 0 2 0 2 0 2 0 2 0 2 0 2 0 2 0 2 0 2 0 2 0 2 0 2 0 2 0 2 0 2 0 2 0 2 0 2 0 2 0 2 0 2 0 2 0 2 0 2 0 2 0 2 0 2 0 2-0.1 2 0 2 0 2 0 2 0 2 0 2 0 2 0 2 0 2 0 2 0 2 0 2 0 2 0 2 0 2 0 2 0 2 0 2 0 2 0 2 0 2 0 2 0 2 0 2 0 2 0 2 0 2 0 2-0.1 2 0 2 0 2 0 2 0 2 0 2 0 2 0 2 0 2-0.1 2 0 2 0 2 0 2-0.1 2 0 2 0 2-0.1 2 0 2-0.1 2 0 2-0.1 2-0.1 2-0.1 2-0.1 2-0.1 2-0.2 2-0.2 2-0.3 2-0.4 2-0.5 2-0.7 2-1 2-1.4 2-2.1 2-3.4 2-5.4 2-7.9 2-8.2 2-1 2 7.4 2 8.3 2 5.9 2 3.7 2 2.4 2 1.5 2 1 2 0.8 2 0.5 2 0.4 2 0.3 2 0.3 2 0.2 2 0.2 2 0.2 2 0.3 2 0.2 2 0.4 2 0.4 2 0.4 2 0.4 2 0.4 2 0.3 2 0.2 2 0.1 2 0.1 2 0.1 2 0.1 2 0 2 0 2 0.1 2 0 2 0 2 0 2 0 2 0 2 0 2 0.1 2 0 2 0 2 0 2 0 2 0 2 0 2 0 2 0 2 0 2 0 2 0 2 0 2 0 2 0 2 0 2 0 2 0 2 0 2 0 2 0 2 0 2 0 2 0 2 0 2 0 2 0 2 0 2 0.1 2 0 2 0 2 0 2 0 2 0 2 0 2 0 2 0 2 0 2 0 2 0 2 0 2 0 2 0 2 0 2 0 2 0 2 0 2 0 2-0.1 2 0 2 0 2-0.1 2-0.1 2-0.1 2-0.2 2-0.2 2-0.4 2-0.3 2-0.4 2-0.3 2-0.3 2-0.2 2-0.1 2-0.1 2 0 2-0.1 2 0 2 0 2 0 2 0 2 0 2 0 2 0 2 0 2 0 2 0 2 0 2 0 2 0 2 0 2 0 2 0 2 0 2 0 2 0 2 0 2 0 2 0 2 0 2 0 2 0 2 0 2 0 2 0 2 0 2 0 2 0 2 0 2 0 2 0 2 0 2 0 2 0 2 0 2 0 2 0 2 0 2 0 2 0 2 0 2 0 2 0 2 0 2 0 2 0 2 0 2 0 2 0 2 0 2 0 2 0 2 0 2 0 2 0 2 0 2 0 2 0 2 0 2 0 2 0 2 0 2 0 2 0 2 0 2 0 2 0 2 0 2 0 2 0 2 0 2 0 2 0 2 0 2 0 2 0 2 0 2 0 2 0 2 0 2 0 2 0 2 0 2 0 2 0 2 0 2 0 2 0 2 0 2 0" fill="none" stroke="#ffa500" stroke-width="9" stroke-linejoin="round" stroke-linecap="butt" />
<path d="M17,467.8l2 0 2-0.1 2 0 2-0.1 2-0.1 2 0 2-0.1 2 0 2-0.1 2-0.1 2 0 2-0.1 2-0.1 2 0 2-0.1 2-0.1 2 0 2-0.1 2-0.1 2-0.1 2-0.1 2-0.1 2-0.1 2-0.1 2-0.1 2-0.1 2-0.1 2-0.1 2-0.1 2-0.1 2-0.1 2-0.1 2-0.2 2-0.1 2-0.1 2-0.2 2-0.1 2-0.2 2-0.1 2-0.2 2-0.2 2-0.2 2-0.2 2-0.1 2-0.2 2-0.3 2-0.2 2-0.2 2-0.2 2-0.3 2-0.2 2-0.3 2-0.3 2-0.3 2-0.3 2-0.3 2-0.4 2-0.3 2-0.4 2-0.4 2-0.4 2-0.5 2-0.4 2-0.5 2-0.5 2-0.5 2-0.6 2-0.6 2-0.7 2-0.6 2-0.8 2-0.7 2-0.8 2-0.9 2-0.9 2-1 2-1.1 2-1.1 2-1.2 2-1.3 2-1.4 2-1.5 2-1.6 2-1.8 2-1.9 2-2 2-2.3 2-2.4 2-2.7 2-2.8 2-3.2 2-3.5 2-3.8 2-4.2 2-4.6 2-5.1 2-5.6 2-6.3 2-6.9 2-7.7 2-8.6 2-9.5 2-10.5 2-11.6 2-12.9 2-14 2-15.3 2-16.4 2-17.4 2-18 2-18 2-17.4 2-15.9 2-13.4 2-9.9 2-5.6 2-0.7 2 4.2 2 8.6 2 12.5 2 15.2 2 17.1 2 17.9 2 18 2 17.6 2 16.8 2 15.6 2 14.4 2 13.2 2 12 2 10.9 2 9.8 2 8.8 2 7.9 2 7.2 2 6.5 2 5.8 2 5.2 2 4.8 2 4.3 2 3.9 2 3.6 2 3.2 2 3 2 2.7 2 2.5 2 2.3 2 2.1 2 2 2 1.8 2 1.6 2 1.6 2 1.4 2 1.3 2 1.2 2 1.2 2 1.1 2 1 2 0.9 2 0.9 2 0.8 2 0.8 2 0.7 2 0.7 2 0.7 2 0.6 2 0.6 2 0.5 2 0.6 2 0.4 2 0.5 2 0.5 2 0.4 2 0.4 2 0.4 2 0.3 2 0.4 2 0.3 2 0.3 2 0.3 2 0.3 2 0.3 2 0.2 2 0.3 2 0.2 2 0.3 2 0.2 2 0.2 2 0.2 2 0.2 2 0.2 2 0.2 2 0.1 2 0.2 2 0.2 2 0.1 2 0.2 2 0.1 2 0.2 2 0.1 2 0.1 2 0.1 2 0.2 2 0.1 2 0.1 2 0.1 2 0.1 2 0.1 2 0.1 2 0.1 2 0.1 2 0.1 2 0.1 2 0.1 2 0 2 0.1 2 0.1 2 0.1 2 0.1 2 0 2 0.1 2 0.1 2 0 2 0.1 2 0.1 2 0 2 0.1 2 0 2 0.1 2 0 2 0.1 2 0 2 0.1 2 0 2 0.1 2 0 2 0.1 2 0 2 0.1 2 0 2 0.1 2 0 2 0 2 0.1 2 0 2 0 2 0.1 2 0 2 0 2 0.1 2 0 2 0 2 0.1 2 0 2 0 2 0.1 2 0 2 0 2 0.1 2 0 2 0 2 0 2 0.1 2 0 2 0 2 0 2 0.1 2 0 2 0 2 0 2 0 2 0.1 2 0 2 0 2 0 2 0 2 0.1 2 0 2 0 2 0 2 0 2 0.1 2 0 2 0 2 0 2 0 2 0 2 0.1 2 0 2 0 2 0 2 0 2 0 2 0 2 0.1 2 0 2 0 2 0 2 0 2 0 2 0 2 0 2 0.1 2 0 2 0" fill="none" stroke="#228b22" stroke-width="9" stroke-linejoin="round" stroke-linecap="butt" />
<path d="M17,470.4l2 0 2 0 2 0 2 0 2 0 2 0 2 0 2 0 2 0 2 0 2-0.1 2 0 2 0 2 0 2 0 2 0 2 0 2 0 2 0 2 0 2 0 2 0 2 0 2 0 2 0 2 0 2 0 2 0 2 0 2 0 2 0 2 0 2 0 2-0.1 2 0 2 0 2 0 2 0 2 0 2 0 2 0 2 0 2 0 2 0 2 0 2 0 2 0 2 0 2 0 2 0 2-0.1 2 0 2 0 2 0 2 0 2 0 2 0 2 0 2 0 2 0 2 0 2 0 2-0.1 2 0 2 0 2 0 2 0 2 0 2 0 2 0 2 0 2 0 2-0.1 2 0 2 0 2 0 2 0 2 0 2 0 2 0 2 0 2-0.1 2 0 2 0 2 0 2 0 2 0 2-0.1 2 0 2 0 2 0 2 0 2 0 2-0.1 2 0 2 0 2 0 2 0 2-0.1 2 0 2 0 2 0 2 0 2-0.1 2 0 2 0 2 0 2-0.1 2 0 2 0 2-0.1 2 0 2 0 2 0 2-0.1 2 0 2-0.1 2 0 2 0 2-0.1 2 0 2 0 2-0.1 2 0 2-0.1 2 0 2-0.1 2 0 2-0.1 2 0 2-0.1 2-0.1 2 0 2-0.1 2-0.1 2 0 2-0.1 2-0.1 2-0.1 2 0 2-0.1 2-0.1 2-0.1 2-0.1 2-0.1 2-0.1 2-0.1 2-0.2 2-0.1 2-0.1 2-0.2 2-0.1 2-0.2 2-0.1 2-0.2 2-0.2 2-0.2 2-0.2 2-0.2 2-0.2 2-0.3 2-0.2 2-0.3 2-0.3 2-0.3 2-0.3 2-0.4 2-0.3 2-0.4 2-0.5 2-0.5 2-0.5 2-0.5 2-0.6 2-0.6 2-0.7 2-0.8 2-0.8 2-0.9 2-0.9 2-1.1 2-1.2 2-1.3 2-1.4 2-1.5 2-1.8 2-1.9 2-2.2 2-2.3 2-2.7 2-3 2-3.3 2-3.7 2-4.2 2-4.6 2-5.2 2-5.7 2-6.3 2-6.8 2-7.3 2-7.6 2-7.6 2-7.3 2-6.7 2-5.4 2-3.8 2-1.8 2 0.4 2 2.7 2 4.5 2 6 2 6.9 2 7.6 2 7.6 2 7.5 2 7.1 2 6.6 2 6 2 5.5 2 5 2 4.4 2 4 2 3.6 2 3.2 2 2.8 2 2.5 2 2.3 2 2.1 2 1.8 2 1.7 2 1.5 2 1.4 2 1.2 2 1.1 2 1.1 2 0.9 2 0.9 2 0.7 2 0.8 2 0.6 2 0.7 2 0.5 2 0.6 2 0.4 2 0.5 2 0.4 2 0.4 2 0.4 2 0.3 2 0.3 2 0.3 2 0.3 2 0.3 2 0.2 2 0.3 2 0.2 2 0.2 2 0.2 2 0.2 2 0.2 2 0.1 2 0.2 2 0.2 2 0.1 2 0.1 2 0.2 2 0.1 2 0.1 2 0.1 2 0.1 2 0.1 2 0.1 2 0.1 2 0.1 2 0.1 2 0.1 2 0.1 2 0 2 0.1 2 0.1 2 0 2 0.1 2 0.1 2 0 2 0.1 2 0 2 0.1 2 0 2 0.1 2 0 2 0.1 2 0 2 0.1 2 0 2 0.1 2 0 2 0 2 0.1 2 0 2 0 2 0.1 2 0 2 0 2 0.1 2 0" fill="none" stroke="#800080" stroke-width="9" stroke-linejoin="round" stroke-linecap="butt" />
<path d="M17,918.4l2-0.5 2-0.3 2-0.4 2-0.1 2-0.8 2-0.4 2 0.3 2 0 2-0.5 2-0.8 2-0.2 2 0.3 2-0.2 2-1.2 2-1.3 2-1.2 2-1 2-0.3 2 0.6 2 0.6 2 0.2 2 0 2 0.4 2 0.7 2-0.4 2-1.8 2-2.3 2-1.9 2-0.8 2-0.3 2-0.7 2-1.6 2-1.8 2-0.8 2 0.1 2-0.6 2-1.1 2-1.2 2-1.4 2-2.5 2-3.3 2-3.3 2-3.9 2-4.2 2-4 2-2.9 2-3.4 2-4.6 2-4.6 2-5.1 2-6.2 2-7.2 2-7.2 2-7.5 2-10.6 2-13.2 2-14.1 2-15 2-16.1 2-18.2 2-21.3 2-23.8 2-24.8 2-25.4 2-26.5 2-25.5 2-21.8 2-15.9 2-8.1 2 0.3 2 8.9 2 15.5 2 20.5 2 24.5 2 26.6 2 26.6 2 25.3 2 23.1 2 21 2 19.1 2 16.6 2 14.3 2 13 2 11.9 2 9.8 2 7.4 2 6.4 2 7.2 2 6.9 2 5.6 2 5.3 2 4.6 2 2.8 2 2.3 2 2.4 2 1.4 2-0.2 2-1.2 2-1.6 2-1.7 2 0.6 2 2.8 2 3.4 2 2.7 2 2 2 1.2 2 0.6 2 0.2 2-0.5 2-2.4 2-3.7 2-4.1 2-3.9 2-3 2-1.9 2-0.8 2 0.3 2 2.5 2 5 2 5.7 2 5.5 2 4.9 2 3 2 1 2 0.8 2 0.6 2-0.2 2 0 2 1.5 2 1.9 2 1.8 2 1.5 2 1.3 2 0.8 2 0.2 2-0.2 2-0.2 2-0.2 2 0.5 2 1.6 2 0.3 2-0.2 2 0.9 2 0.8 2 1.1 2 1.8 2 1.3 2 1.2 2 1.3 2 0.4 2 0 2-0.3 2-0.1 2 0.3 2 0.8 2 0.3 2-1.1 2-1.4 2-0.9 2 0.1 2 0.6 2 0.6 2 0.4 2-0.2 2-0.8 2 0 2 0.7 2 0.9 2 1.7 2 2.3 2 2.2 2 1.7 2 0.8 2 0.2 2 0.2 2 0.3 2 0.5 2 0.1 2 0.3 2 0.4 2-0.3 2-1.5 2-1.7 2-1.2 2-0.3 2-0.5 2-1.2 2-0.9 2-0.3 2 0.4 2-0.2 2-0.9 2-0.5 2 0.4 2 0.7 2 0.6 2 0.4 2 0.5 2 0.8 2 2.1 2 2.1 2 0.8 2 0.2 2-0.4 2-1.3 2-1.8 2-1.5 2-1 2-0.7 2 0.2 2 1.1 2 0.8 2 0.1 2 0.4 2 0.8 2 0.8 2 0.7 2 0.5 2 0 2 0.7 2 0.6 2-0.5 2-0.1 2 0.9 2 0.4 2-0.9 2-1.2 2-0.1 2 1.1 2 1 2-0.1 2-0.3 2 0.2 2 0.3 2 0 2-0.5 2-0.3 2 0.2 2 0 2-1 2-1.3 2-0.7 2-0.8 2-1 2 0 2 1.4 2 1.6 2 1.5 2 1.6 2 0.9 2 0 2 0.3 2 0.8 2 0 2-1.1 2-0.9 2-0.1 2-0.3 2-0.5 2 1 2 2.2 2 1.2 2 0.6 2-0.2 2-0.7 2-0.1 2 0.1 2-0.1 2 0.3 2 0.3 2 0.2 2 0 2-1.1 2-1.9 2-2 2-1.3 2-0.4 2 0.9 2 2.1 2 1.9 2 0.5 2 0 2-0.1 2-0.6 2-0.5 2-0.3 2-0.7 2-1 2-1.1 2-1.8 2-2.7 2-2.6 2-1.1 2 0.6 2 1.2 2 1.3 2 1.5 2 1.6 2 1.3 2 0.8 2-0.2 2-0.2 2 0.2 2 0.1 2 0.6" fill="none" stroke="#000000" stroke-width="9" stroke-linejoin="round" stroke-linecap="butt" />
<path d="M17,928.8l2-0.5 2-0.1 2-0.2 2 0 2-0.7 2-0.3 2 0.8 2 0.5 2-0.4 2-0.7 2 0.1 2 0.9 2 0.2 2-1.3 2-1.4 2-1.2 2-0.7 2 0.1 2 1.6 2 1.6 2 1.1 2 0.8 2 1.6 2 2 2 0.3 2-1.6 2-2.3 2-1.6 2 0 2 1 2 0.4 2-0.8 2-0.9 2 0.7 2 2 2 1.4 2 0.7 2 0.8 2 0.6 2-0.7 2-1.6 2-1.4 2-1.7 2-2 2-1 2 1 2 0.8 2-0.2 2 0.6 2 0.7 2 0 2-0.3 2 1.3 2 2.1 2-0.6 2-2.4 2-1.4 2-0.1 2 1.2 2 1 2 0 2-0.5 2 0.6 2 1.7 2 0.3 2-0.3 2 0.1 2 0.6 2 0.8 2 0.6 2 0.4 2-1 2-2 2-1 2 0 2 0.3 2 0.2 2-0.3 2-0.1 2 0.2 2-0.1 2-0.8 2 0 2 0.8 2-0.2 2-2.2 2-1.8 2 0.5 2 1.5 2 0.7 2 1.2 2 1.1 2-0.7 2-0.6 2 0.4 2 0.1 2-1.3 2-1.3 2-0.7 2-0.6 2 0.9 2 1.2 2-0.1 2-0.6 2-0.3 2-0.1 2 0.4 2 1.1 2 1.3 2-0.2 2-1 2-0.7 2 0.4 2 1.2 2 1.2 2-0.1 2-2.1 2-1.9 2 0 2 0.7 2 0.7 2 0.9 2-1.1 2-3.1 2-2.7 2-2.2 2-3 2-2.1 2 0.2 2 1.3 2 1.3 2 0.9 2 0.8 2 0.1 2-0.7 2-1.2 2-1.3 2-1.2 2 0 2 1.4 2-0.3 2-1.1 2 0.6 2 0.5 2 0.9 2 2.1 2 1.4 2 1.3 2 1.5 2 0.2 2-0.5 2-0.6 2-0.4 2 0.3 2 0.8 2 0.3 2-1.8 2-2.2 2-1.5 2-0.2 2 0.8 2 0.6 2 0.4 2-0.6 2-1.5 2-0.4 2 0.7 2 0.9 2 2.2 2 3 2 2.8 2 2.3 2 0.7 2 0 2 0 2 0.2 2 0.5 2-0.1 2 0.2 2 0.6 2-0.5 2-2.2 2-2.5 2-1.6 2-0.3 2-0.4 2-1.5 2-0.8 2 0 2 0.9 2 0.1 2-1.1 2-0.6 2 0.6 2 0.9 2 0.5 2 0.4 2 0.2 2 0.7 2 2.7 2 2.7 2 0.7 2-0.1 2-0.7 2-2.1 2-2.6 2-2.1 2-1.2 2-0.6 2 0.7 2 2 2 1.5 2 0.4 2 0.6 2 1.1 2 0.9 2 0.7 2 0.1 2-0.5 2 0.4 2 0.5 2-1.2 2-0.6 2 1 2 0.4 2-1.6 2-1.9 2-0.1 2 1.5 2 1.7 2-0.1 2-0.3 2 0.5 2 0.7 2 0.4 2-0.3 2-0.2 2 0.7 2 0.4 2-1.3 2-1.8 2-1.1 2-1.4 2-1.7 2-0.4 2 1.7 2 1.9 2 1.8 2 2.1 2 0.9 2-0.1 2 0.2 2 0.9 2 0 2-1.7 2-1.4 2-0.3 2-0.4 2-0.8 2 1.5 2 3.2 2 1.8 2 0.9 2-0.3 2-1.1 2-0.2 2 0.2 2-0.1 2 0.3 2 0.5 2 0.4 2-0.1 2-1.7 2-2.9 2-2.9 2-2 2-0.7 2 1.5 2 3.1 2 2.8 2 0.8 2-0.1 2-0.1 2-0.9 2-0.6 2-0.3 2-0.7 2-0.9 2-0.8 2-1.7 2-3.2 2-2.8 2-1 2 1 2 1.6 2 1.3 2 1.3 2 1.4 2 1 2 0.3 2-0.8 2-0.8 2 0.1 2 0.1 2 0.7" fill="none" stroke="#00e8f0" stroke-width="9" stroke-linejoin="round" stroke-linecap="butt" />
<path d="M17,918.7l2-0.2 2-0.2 2-0.2 2-0.2 2-0.3 2-0.2 2-0.2 2-0.3 2-0.3 2-0.3 2-0.3 2-0.3 2-0.4 2-0.3 2-0.4 2-0.4 2-0.4 2-0.4 2-0.5 2-0.5 2-0.5 2-0.6 2-0.6 2-0.6 2-0.7 2-0.7 2-0.7 2-0.8 2-0.9 2-0.9 2-1 2-1.1 2-1.1 2-1.3 2-1.3 2-1.5 2-1.5 2-1.7 2-1.9 2-2 2-2.3 2-2.4 2-2.7 2-2.9 2-3.2 2-3.6 2-4 2-4.5 2-5 2-5.5 2-6.3 2-7 2-7.9 2-9 2-10.2 2-11.6 2-13.1 2-15 2-16.8 2-19 2-21.3 2-23.4 2-25.2 2-26.6 2-26.7 2-25.3 2-21.8 2-16.3 2-8.7 2-0.1 2 8.7 2 16.1 2 21.8 2 25.2 2 26.6 2 26.5 2 25.1 2 23.3 2 21.1 2 18.9 2 16.8 2 14.7 2 13 2 11.4 2 10 2 8.8 2 7.7 2 6.7 2 5.9 2 5.2 2 4.5 2 3.9 2 3.3 2 2.7 2 2 2 1.5 2 0.6 2-0.3 2-1.2 2-1.2 2-0.1 2 2.1 2 3.4 2 3.2 2 2.2 2 1.3 2 0.4 2-0.5 2-1.3 2-2.1 2-3 2-3.6 2-4 2-3.7 2-2.6 2-0.5 2 2 2 3.9 2 5.2 2 5.5 2 5.2 2 4.7 2 3.9 2 3.4 2 2.8 2 2.3 2 2 2 1.7 2 1.5 2 1.2 2 1.1 2 0.9 2 0.9 2 0.7 2 0.7 2 0.6 2 0.5 2 0.5 2 0.5 2 0.4 2 0.4 2 0.3 2 0.4 2 0.3 2 0.3 2 0.2 2 0.3 2 0.2 2 0.2 2 0.3 2 0.2 2 0.1 2 0.2 2 0.2 2 0.2 2 0.1 2 0.2 2 0.1 2 0.1 2 0.2 2 0.1 2 0.1 2 0.1 2 0.1 2 0.1 2 0.1 2 0.1 2 0.1 2 0.1 2 0.1 2 0.1 2 0.1 2 0 2 0.1 2 0.1 2 0 2 0.1 2 0.1 2 0 2 0.1 2 0.1 2 0 2 0.1 2 0 2 0.1 2 0 2 0.1 2 0 2 0.1 2 0 2 0.1 2 0 2 0.1 2 0 2 0.1 2 0 2 0 2 0.1 2 0 2 0 2 0.1 2 0 2 0 2 0.1 2 0 2 0 2 0.1 2 0 2 0 2 0 2 0.1 2 0 2 0 2 0.1 2 0 2 0 2 0 2 0.1 2 0 2 0 2 0 2 0 2 0.1 2 0 2 0 2 0 2 0 2 0.1 2 0 2 0 2 0 2 0 2 0 2 0.1 2 0 2 0 2 0 2 0 2 0 2 0.1 2 0 2 0 2 0 2 0 2 0 2 0 2 0.1 2 0 2 0 2 0 2 0 2 0 2 0 2 0 2 0.1 2 0 2 0 2 0 2 0 2 0 2 0 2 0 2 0 2 0.1 2 0 2 0 2 0 2 0 2 0 2 0 2 0 2 0 2 0 2 0 2 0.1 2 0 2 0 2 0 2 0 2 0 2 0 2 0 2 0 2 0 2 0 2 0 2 0 2 0.1 2 0 2 0 2 0 2 0 2 0 2 0 2 0 2 0 2 0 2 0 2 0 2 0 2 0 2 0 2 0 2 0.1 2 0" fill="none" stroke="#1490ff" stroke-width="9" stroke-linejoin="round" stroke-linecap="butt" />
<path d="M17,918.9l2-0.2 2-0.2 2-0.3 2-0.2 2-0.2 2-0.2 2-0.3 2-0.3 2-0.2 2-0.3 2-0.3 2-0.3 2-0.4 2-0.3 2-0.4 2-0.4 2-0.4 2-0.4 2-0.5 2-0.5 2-0.5 2-0.6 2-0.5 2-0.7 2-0.6 2-0.7 2-0.8 2-0.8 2-0.8 2-1 2-0.9 2-1.1 2-1.2 2-1.2 2-1.3 2-1.5 2-1.5 2-1.7 2-1.9 2-2 2-2.2 2-2.4 2-2.7 2-2.9 2-3.3 2-3.5 2-4 2-4.5 2-4.9 2-5.6 2-6.2 2-7 2-7.9 2-9 2-10.2 2-11.5 2-13.2 2-14.9 2-16.8 2-19 2-21.2 2-23.4 2-25.2 2-26.5 2-26.7 2-25.3 2-21.8 2-16.2 2-8.7 2 0 2 8.7 2 16.2 2 21.8 2 25.3 2 26.7 2 26.5 2 25.2 2 23.4 2 21.2 2 19 2 16.8 2 14.9 2 13.2 2 11.5 2 10.2 2 9 2 7.9 2 7 2 6.2 2 5.6 2 4.9 2 4.5 2 4 2 3.5 2 3.3 2 2.9 2 2.7 2 2.4 2 2.2 2 2 2 1.9 2 1.7 2 1.5 2 1.5 2 1.3 2 1.2 2 1.2 2 1.1 2 0.9 2 1 2 0.8 2 0.8 2 0.8 2 0.7 2 0.6 2 0.7 2 0.5 2 0.6 2 0.5 2 0.5 2 0.5 2 0.4 2 0.4 2 0.4 2 0.4 2 0.3 2 0.4 2 0.3 2 0.3 2 0.3 2 0.2 2 0.3 2 0.3 2 0.2 2 0.2 2 0.2 2 0.3 2 0.2 2 0.2 2 0.1 2 0.2 2 0.2 2 0.1 2 0.2 2 0.2 2 0.1 2 0.1 2 0.2 2 0.1 2 0.1 2 0.1 2 0.2 2 0.1 2 0.1 2 0.1 2 0.1 2 0.1 2 0.1 2 0.1 2 0.1 2 0 2 0.1 2 0.1 2 0.1 2 0 2 0.1 2 0.1 2 0.1 2 0 2 0.1 2 0.1 2 0 2 0.1 2 0 2 0.1 2 0 2 0.1 2 0 2 0.1 2 0 2 0.1 2 0 2 0.1 2 0 2 0.1 2 0 2 0 2 0.1 2 0 2 0.1 2 0 2 0 2 0.1 2 0 2 0 2 0.1 2 0 2 0 2 0.1 2 0 2 0 2 0 2 0.1 2 0 2 0 2 0.1 2 0 2 0 2 0 2 0.1 2 0 2 0 2 0 2 0 2 0.1 2 0 2 0 2 0 2 0 2 0.1 2 0 2 0 2 0 2 0 2 0.1 2 0 2 0 2 0 2 0 2 0 2 0.1 2 0 2 0 2 0 2 0 2 0 2 0 2 0.1 2 0 2 0 2 0 2 0 2 0 2 0 2 0 2 0.1 2 0 2 0 2 0 2 0 2 0 2 0 2 0 2 0 2 0.1 2 0 2 0 2 0 2 0 2 0 2 0 2 0 2 0 2 0 2 0 2 0.1 2 0 2 0 2 0" fill="none" stroke="#ff0000" stroke-width="9" stroke-linejoin="round" stroke-linecap="butt" />
<path d="M17,925.5l2 0 2 0 2 0 2 0 2 0 2 0 2 0 2 0 2 0 2 0 2 0 2 0 2 0 2 0 2 0 2 0 2 0 2 0 2 0 2 0 2 0 2 0 2 0 2 0 2 0 2 0 2 0 2 0 2 0 2 0 2 0 2 0 2 0 2 0 2 0 2 0 2 0 2 0 2-0.1 2 0 2 0 2 0 2 0 2 0 2 0 2 0 2 0 2 0 2 0 2 0 2 0 2 0 2 0 2 0 2 0 2 0 2 0 2 0 2 0 2 0 2 0 2 0 2 0 2 0 2 0 2-0.1 2 0 2 0 2 0 2 0 2 0 2 0 2 0 2-0.1 2 0 2 0 2 0 2-0.1 2 0 2 0 2-0.1 2 0 2-0.1 2-0.1 2 0 2-0.1 2-0.1 2-0.2 2-0.2 2-0.2 2-0.2 2-0.4 2-0.5 2-0.6 2-0.9 2-1.2 2-1.6 2-2.3 2-2.9 2-2.7 2-1.2 2 1.2 2 2.7 2 2.9 2 2.3 2 1.6 2 1.2 2 0.9 2 0.6 2 0.5 2 0.4 2 0.2 2 0.2 2 0.2 2 0.2 2 0.1 2 0.1 2 0 2 0.1 2 0.1 2 0 2 0.1 2 0 2 0 2 0.1 2 0 2 0 2 0 2 0.1 2 0 2 0 2 0 2 0 2 0 2 0 2 0 2 0.1 2 0 2 0 2 0 2 0 2 0 2 0 2 0 2 0 2 0 2 0 2 0 2 0 2 0 2 0 2 0 2 0 2 0 2 0 2 0 2 0 2 0 2 0 2 0 2 0 2 0 2 0 2 0.1 2 0 2 0 2 0 2 0 2 0 2 0 2 0 2 0 2 0 2 0 2 0 2 0 2 0 2 0 2 0 2 0 2 0 2 0 2 0 2 0 2 0 2 0 2 0 2 0 2 0 2 0 2 0 2 0 2 0 2 0 2 0 2 0 2 0 2 0 2 0 2 0 2 0 2 0 2 0 2 0 2 0 2 0 2 0 2 0 2 0 2 0 2 0 2 0 2 0 2 0 2 0 2 0 2 0 2 0 2 0 2 0 2 0 2 0 2 0 2 0 2 0 2 0 2 0 2 0 2 0 2 0 2 0 2 0 2 0 2 0 2 0 2 0 2 0 2 0 2 0 2 0 2 0 2 0 2 0 2 0 2 0 2 0 2 0 2 0 2 0 2 0 2 0 2 0 2 0 2 0 2 0 2 0 2 0 2 0 2 0 2 0 2 0 2 0 2 0 2 0 2 0 2 0 2 0 2 0 2 0" fill="none" stroke="#ffa500" stroke-width="9" stroke-linejoin="round" stroke-linecap="butt" />
<path d="M17,925.4l2 0 2 0 2 0 2 0 2 0 2 0 2 0 2 0 2 0 2 0 2 0 2-0.1 2 0 2 0 2 0 2 0 2 0 2 0 2 0 2 0 2 0 2 0 2 0 2 0 2 0 2 0 2 0 2 0 2 0 2 0 2 0 2 0 2 0 2 0 2-0.1 2 0 2 0 2 0 2 0 2 0 2 0 2 0 2 0 2 0 2 0 2 0 2 0 2-0.1 2 0 2 0 2 0 2 0 2 0 2 0 2 0 2-0.1 2 0 2 0 2 0 2 0 2 0 2-0.1 2 0 2 0 2 0 2-0.1 2 0 2 0 2 0 2-0.1 2 0 2 0 2-0.1 2 0 2-0.1 2 0 2-0.1 2 0 2-0.1 2 0 2-0.1 2-0.1 2-0.1 2-0.1 2-0.1 2-0.1 2-0.1 2-0.1 2-0.2 2-0.1 2-0.2 2-0.2 2-0.2 2-0.3 2-0.3 2-0.3 2-0.4 2-0.4 2-0.5 2-0.6 2-0.6 2-0.8 2-1 2-1.1 2-1.3 2-1.7 2-2 2-2.4 2-2.9 2-3.5 2-4.1 2-4.7 2-5 2-4.6 2-3.4 2-1.2 2 1.2 2 3.4 2 4.6 2 5 2 4.7 2 4.1 2 3.5 2 2.9 2 2.4 2 2 2 1.7 2 1.3 2 1.1 2 1 2 0.8 2 0.6 2 0.6 2 0.5 2 0.4 2 0.4 2 0.3 2 0.3 2 0.3 2 0.2 2 0.2 2 0.2 2 0.1 2 0.2 2 0.1 2 0.1 2 0.1 2 0.1 2 0.1 2 0.1 2 0.1 2 0.1 2 0 2 0.1 2 0 2 0.1 2 0 2 0.1 2 0 2 0.1 2 0 2 0 2 0.1 2 0 2 0 2 0 2 0.1 2 0 2 0 2 0 2 0.1 2 0 2 0 2 0 2 0 2 0 2 0.1 2 0 2 0 2 0 2 0 2 0 2 0 2 0 2 0.1 2 0 2 0 2 0 2 0 2 0 2 0 2 0 2 0 2 0 2 0 2 0 2 0 2 0.1 2 0 2 0 2 0 2 0 2 0 2 0 2 0 2 0 2 0 2 0 2 0 2 0 2 0 2 0 2 0 2 0 2 0 2 0 2 0 2 0 2 0 2 0 2 0.1 2 0 2 0 2 0 2 0 2 0 2 0 2 0 2 0 2 0 2 0 2 0 2 0 2 0 2 0 2 0 2 0 2 0 2 0 2 0 2 0 2 0 2 0 2 0 2 0 2 0 2 0 2 0 2 0 2 0 2 0 2 0 2 0 2 0 2 0 2 0 2 0 2 0 2 0 2 0 2 0 2 0 2 0 2 0 2 0 2 0 2 0 2 0 2 0" fill="none" stroke="#228b22" stroke-width="9" stroke-linejoin="round" stroke-linecap="butt" />
<path d="M700,466.8l2-0.6 2 0.2 2 0.6 2 0 2-0.4 2 0 2 0.5 2 0.2 2-0.2 2-0.2 2 0.1 2-0.1 2-0.1 2 0 2-0.2 2 0.2 2 0.1 2 0.2 2 0.4 2 0.4 2 0.4 2 0 2-0.5 2-0.1 2-0.1 2-0.2 2-0.4 2-0.5 2-0.4 2-0.4 2-0.5 2-0.1 2 0.3 2 0.4 2 0.4 2 0.2 2-0.2 2-0.6 2-0.4 2-0.4 2-0.6 2-0.4 2-0.4 2-0.4 2-0.2 2 0.5 2 0.6 2 0 2-0.4 2-0.4 2-0.2 2-0.4 2-1.1 2-1 2-0.2 2 0.4 2 0.1 2-0.1 2 0.2 2 0 2-0.4 2-0.4 2-0.1 2-0.3 2-0.4 2-0.3 2-0.3 2-0.1 2 0 2-0.3 2-1.5 2-1.9 2-1.4 2-1.3 2-1.4 2-1.3 2-1.1 2-0.9 2-1.3 2-1.5 2-1.8 2-1.9 2-1.5 2-1.1 2-0.8 2-1.1 2-1.5 2-2.2 2-2.6 2-2.3 2-2.3 2-2.8 2-3.2 2-3.6 2-3.8 2-3.6 2-3.9 2-4.6 2-5.4 2-6.4 2-7.5 2-8.7 2-9.8 2-10.9 2-11.8 2-13.4 2-14.9 2-15.5 2-16.3 2-16.6 2-16.7 2-16.5 2-16.1 2-15.7 2-14.7 2-13.2 2-10.9 2-7.6 2-2.9 2 2.8 2 8.4 2 13.4 2 17.5 2 20 2 20.8 2 20.6 2 19.9 2 18.8 2 17.1 2 15.2 2 14 2 12.9 2 11.5 2 9.4 2 7.8 2 7.2 2 6.5 2 5.7 2 5.1 2 4.5 2 4 2 3.6 2 3 2 2.6 2 2 2 2 2 2 2 2 2 2.2 2 2.1 2 1.7 2 1.3 2 0.8 2 0.7 2 0.6 2 0.8 2 1.3 2 1.6 2 1.6 2 1.2 2 0.6 2 0.5 2 0.4 2 0.2 2 0.7 2 0.6 2 0.4 2 0.2 2 0.5 2 0.8 2 1.3 2 1 2 0.5 2-0.1 2-0.5 2-0.5 2-0.7 2-1.1 2-0.9 2-0.5 2-0.4 2-0.8 2-0.9 2-0.8 2-0.7 2-0.5 2-0.6 2-1.6 2-2 2-2.3 2-2.6 2-2.7 2-3 2-3.1 2-3.1 2-3.7 2-4.5 2-4.4 2-4.9 2-5.8 2-6.4 2-6.5 2-6.3 2-6.2 2-5.8 2-5.3 2-4.4 2-2.2 2-0.1 2 1.5 2 2.9 2 4.1 2 5.2 2 5.9 2 6.6 2 6.7 2 6.5 2 6 2 5.3 2 5.1 2 5 2 4.8 2 4.2 2 3.9 2 3.5 2 3 2 2.8 2 2.5 2 2 2 2 2 2 2 1.4 2 0.6 2 0.7 2 0.9 2 0.5 2 0.4 2 0.8 2 0.7 2 0.5 2 0.6 2 1 2 0.5 2 0.4 2 1.1 2 1.1 2 0.6 2 0.6 2 0.8 2 0.8 2 0.4 2-0.2 2-0.1 2 0.3 2 0.4 2 0 2-0.1 2 0.2 2 0.2 2 0 2 0.1 2 0.3 2 0.6 2 0.6 2 0.3 2 0.3 2 0.5 2 0.4 2 0 2-0.3 2-0.2 2 0.3 2 0.3 2 0.1 2-0.4 2-0.4 2-0.1 2 0.1 2 0.1 2 0.1 2 0 2 0.5 2 0.3 2-0.2 2-0.1 2 0 2 0 2 0.3 2 0.4 2 0.4 2 0.1 2-0.1 2-0.2 2-0.2 2-0.3 2-0.2 2 0 2-0.2 2-0.2 2 0.4 2 0.9 2 0.8 2 0 2 0 2 0.1" fill="none" stroke="#000000" stroke-width="9" stroke-linejoin="round" stroke-linecap="butt" />
<path d="M700,472.4l2-0.9 2 0.4 2 0.9 2 0.1 2-0.6 2 0.1 2 0.9 2 0.4 2-0.3 2-0.2 2 0.2 2-0.1 2 0 2 0 2-0.2 2 0.4 2 0.3 2 0.4 2 0.7 2 0.7 2 0.7 2 0.1 2-0.6 2-0.1 2 0 2-0.2 2-0.5 2-0.7 2-0.3 2-0.5 2-0.7 2 0 2 0.7 2 0.7 2 0.8 2 0.5 2-0.2 2-0.7 2-0.4 2-0.4 2-0.6 2-0.5 2-0.3 2-0.4 2 0 2 0.9 2 1.1 2 0.4 2-0.4 2-0.3 2 0 2-0.4 2-1.3 2-1.1 2 0.1 2 1 2 0.5 2 0.2 2 0.8 2 0.6 2-0.2 2-0.1 2 0.4 2 0.1 2 0 2 0.2 2 0.3 2 0.6 2 0.8 2 0.3 2-1.2 2-1.8 2-1 2-0.7 2-0.7 2-0.6 2 0 2 0.4 2 0.1 2-0.3 2-0.5 2-0.5 2 0.2 2 1.1 2 1.4 2 1.3 2 0.9 2-0.2 2-0.6 2 0.2 2 0.4 2-0.1 2-0.3 2-0.5 2-0.3 2 0.6 2 0.9 2 0.8 2 0.6 2 0.3 2 0 2-0.3 2-0.3 2-0.1 2 0.5 2-0.1 2-0.6 2-0.1 2-0.2 2-0.4 2-0.3 2-0.6 2-0.6 2-0.6 2-0.3 2-0.1 2-0.3 2-0.4 2-0.3 2 0 2-0.1 2 0 2 0.2 2 0.2 2-0.3 2-0.5 2-0.1 2 0.2 2 0.1 2-0.1 2 0.5 2 1.3 2 1.4 2 0.1 2-0.7 2 0.1 2 0.3 2 0.2 2 0.2 2 0.2 2 0.3 2 0.3 2 0 2-0.3 2-0.7 2-0.4 2-0.1 2 0.2 2 0.8 2 0.7 2 0.2 2-0.2 2-0.8 2-1 2-0.8 2-0.6 2 0.2 2 0.8 2 1 2 0.2 2-0.4 2-0.4 2-0.6 2-0.7 2 0 2 0.1 2-0.2 2-0.3 2 0.1 2 0.8 2 1.6 2 1.4 2 0.6 2-0.1 2-0.7 2-0.5 2-0.8 2-1.2 2-0.8 2 0 2 0.1 2-0.2 2-0.2 2 0.1 2 0.4 2 1 2 0.8 2-0.1 2-0.6 2-0.7 2-0.9 2-0.5 2-0.5 2-0.3 2 0.4 2 0 2-0.3 2 0.4 2 0.4 2-0.1 2-0.3 2 0 2 0.7 2 0.9 2 0.8 2 0.5 2 0.1 2 0.9 2 1.3 2 0.6 2-0.1 2-0.7 2-1 2-0.9 2-0.5 2-0.4 2-0.3 2-0.6 2-0.7 2-0.5 2 0.2 2 0.5 2 0.4 2 0.6 2 0.5 2 0.3 2 0.4 2 0.3 2-0.1 2 0.3 2 0.5 2-0.1 2-1.1 2-0.9 2-0.4 2-0.8 2-0.7 2-0.1 2-0.2 2-0.3 2 0 2 0.4 2-0.1 2-0.2 2 0.9 2 1 2 0.3 2 0.2 2 0.7 2 0.7 2 0.1 2-0.8 2-0.6 2 0.1 2 0.1 2-0.2 2-0.5 2-0.2 2 0 2-0.3 2 0 2 0.2 2 0.6 2 0.6 2 0.2 2 0.3 2 0.5 2 0.4 2-0.2 2-0.7 2-0.4 2 0.3 2 0.3 2 0 2-0.7 2-0.8 2-0.4 2 0.1 2 0.1 2-0.1 2 0 2 0.5 2 0.4 2-0.4 2-0.3 2 0 2-0.1 2 0.3 2 0.5 2 0.5 2 0.2 2-0.4 2-0.3 2-0.3 2-0.7 2-0.3 2 0 2-0.4 2-0.4 2 0.5 2 1.4 2 1 2 0.1 2-0.1 2 0" fill="none" stroke="#00e8f0" stroke-width="9" stroke-linejoin="round" stroke-linecap="butt" />
<path d="M700,468.2l2 0 2-0.1 2 0 2-0.1 2 0 2-0.1 2 0 2 0 2-0.1 2 0 2-0.1 2-0.1 2 0 2-0.1 2 0 2-0.1 2 0 2-0.1 2-0.1 2 0 2-0.1 2-0.1 2-0.1 2 0 2-0.1 2-0.1 2-0.1 2-0.1 2-0.1 2 0 2-0.1 2-0.1 2-0.1 2-0.1 2-0.2 2-0.1 2-0.1 2-0.1 2-0.1 2-0.2 2-0.1 2-0.1 2-0.2 2-0.1 2-0.2 2-0.2 2-0.1 2-0.2 2-0.2 2-0.2 2-0.2 2-0.2 2-0.2 2-0.2 2-0.3 2-0.2 2-0.3 2-0.3 2-0.3 2-0.3 2-0.3 2-0.3 2-0.4 2-0.4 2-0.4 2-0.4 2-0.4 2-0.5 2-0.5 2-0.5 2-0.6 2-0.6 2-0.6 2-0.7 2-0.7 2-0.8 2-0.8 2-0.9 2-0.9 2-1 2-1.1 2-1.2 2-1.3 2-1.4 2-1.5 2-1.6 2-1.8 2-1.9 2-2.2 2-2.3 2-2.6 2-2.9 2-3.1 2-3.5 2-3.9 2-4.4 2-4.9 2-5.5 2-6.2 2-6.9 2-7.8 2-8.9 2-9.9 2-11.1 2-12.3 2-13.5 2-14.7 2-15.5 2-16.3 2-16.4 2-16.5 2-16.2 2-15.8 2-15.3 2-14.4 2-13.1 2-10.8 2-7.3 2-2.7 2 2.9 2 8.4 2 13.6 2 17.4 2 19.9 2 21.1 2 21 2 20.1 2 18.8 2 17.2 2 15.4 2 13.9 2 12.2 2 10.9 2 9.6 2 8.5 2 7.5 2 6.6 2 5.9 2 5.2 2 4.7 2 4.1 2 3.8 2 3.3 2 3 2 2.7 2 2.5 2 2.2 2 2 2 1.8 2 1.7 2 1.5 2 1.3 2 1.3 2 1.1 2 1 2 1 2 0.8 2 0.8 2 0.7 2 0.6 2 0.6 2 0.5 2 0.4 2 0.4 2 0.4 2 0.2 2 0.3 2 0.2 2 0.1 2 0.1 2 0 2 0 2-0.1 2-0.1 2-0.1 2-0.3 2-0.3 2-0.3 2-0.4 2-0.5 2-0.6 2-0.7 2-0.7 2-0.9 2-1 2-1.1 2-1.3 2-1.4 2-1.6 2-1.9 2-2 2-2.4 2-2.6 2-3 2-3.3 2-3.8 2-4.2 2-4.7 2-5.2 2-5.7 2-6.2 2-6.5 2-6.8 2-6.7 2-6.4 2-5.7 2-4.4 2-2.8 2-0.9 2 1.1 2 2.9 2 4.6 2 5.8 2 6.6 2 6.9 2 7 2 6.7 2 6.3 2 5.9 2 5.4 2 4.8 2 4.4 2 4 2 3.5 2 3.2 2 2.8 2 2.5 2 2.3 2 2.1 2 1.8 2 1.7 2 1.5 2 1.3 2 1.3 2 1.1 2 1 2 0.9 2 0.9 2 0.8 2 0.7 2 0.7 2 0.6 2 0.6 2 0.5 2 0.5 2 0.5 2 0.4 2 0.4 2 0.4 2 0.3 2 0.4 2 0.3 2 0.3 2 0.3 2 0.2 2 0.3 2 0.2 2 0.2 2 0.2 2 0.2 2 0.2 2 0.2 2 0.2 2 0.1 2 0.2 2 0.1 2 0.2 2 0.1 2 0.1 2 0.1 2 0.2 2 0.1 2 0.1 2 0.1 2 0.1 2 0.1 2 0.1 2 0.1 2 0 2 0.1 2 0.1 2 0.1 2 0.1 2 0 2 0.1 2 0.1 2 0 2 0.1 2 0 2 0.1 2 0.1 2 0 2 0.1 2 0 2 0.1 2 0 2 0.1 2 0 2 0.1 2 0 2 0 2 0.1 2 0 2 0.1 2 0" fill="none" stroke="#1490ff" stroke-width="9" stroke-linejoin="round" stroke-linecap="butt" />
<path d="M700,470.2l2 0 2 0 2 0 2 0 2 0 2 0 2 0 2 0 2-0.1 2 0 2 0 2 0 2 0 2 0 2 0 2 0 2-0.1 2 0 2 0 2 0 2 0 2 0 2 0 2-0.1 2 0 2 0 2 0 2 0 2-0.1 2 0 2 0 2 0 2 0 2-0.1 2 0 2 0 2-0.1 2 0 2 0 2 0 2-0.1 2 0 2 0 2-0.1 2 0 2-0.1 2 0 2 0 2-0.1 2 0 2-0.1 2 0 2-0.1 2-0.1 2 0 2-0.1 2 0 2-0.1 2-0.1 2-0.1 2-0.1 2 0 2-0.1 2-0.1 2-0.1 2-0.2 2-0.1 2-0.1 2-0.1 2-0.2 2-0.2 2-0.1 2-0.2 2-0.2 2-0.2 2-0.2 2-0.3 2-0.2 2-0.3 2-0.4 2-0.3 2-0.4 2-0.4 2-0.4 2-0.5 2-0.6 2-0.6 2-0.6 2-0.8 2-0.8 2-0.9 2-1.1 2-1.2 2-1.3 2-1.5 2-1.7 2-1.9 2-2.2 2-2.6 2-2.8 2-3.3 2-3.7 2-4.1 2-4.6 2-4.9 2-5.2 2-5.2 2-4.9 2-4.1 2-3 2-1.4 2 0.3 2 2.1 2 3.5 2 4.5 2 5.1 2 5.2 2 5.1 2 4.8 2 4.4 2 4 2 3.5 2 3.1 2 2.7 2 2.4 2 2.1 2 1.8 2 1.7 2 1.4 2 1.3 2 1.2 2 1 2 1 2 1 2 0.9 2 0.9 2 1 2 0.9 2 0.8 2 0.7 2 0.6 2 0.6 2 0.4 2 0.4 2 0.3 2 0.3 2 0.2 2 0.3 2 0.2 2 0.2 2 0.1 2 0.2 2 0.2 2 0.1 2 0.1 2 0.2 2 0.1 2 0.1 2 0.1 2 0.1 2 0.1 2 0.1 2 0.1 2 0 2 0.1 2 0.1 2 0.1 2 0 2 0.1 2 0 2 0.1 2 0 2 0.1 2 0 2 0.1 2 0 2 0.1 2 0 2 0 2 0.1 2 0 2 0 2 0.1 2 0 2 0 2 0.1 2 0 2 0 2 0 2 0.1 2 0 2 0 2 0 2 0 2 0.1 2 0 2 0 2 0 2 0 2-0.1 2-0.1 2-0.1 2-0.1 2-0.3 2-0.3 2-0.4 2-0.3 2-0.3 2-0.3 2-0.1 2-0.2 2 0 2-0.1 2 0 2 0 2 0 2 0 2 0 2 0 2 0 2 0 2 0 2 0 2 0 2 0 2 0.1 2 0 2 0 2 0 2 0 2 0 2 0 2 0 2 0 2 0 2 0 2 0 2 0 2 0 2 0 2 0.1 2 0 2 0 2 0 2 0 2 0 2 0 2 0 2 0 2 0 2 0 2 0 2 0 2 0 2 0 2 0 2 0 2 0 2 0 2 0 2 0 2 0 2 0 2 0 2 0.1 2 0 2 0 2 0 2 0 2 0 2 0 2 0 2 0 2 0 2 0 2 0 2 0 2 0 2 0 2 0 2 0 2 0 2 0 2 0 2 0 2 0 2 0 2 0 2 0 2 0 2 0 2 0 2 0 2 0 2 0 2 0 2 0 2 0 2 0 2 0 2 0 2 0 2 0 2 0 2 0" fill="none" stroke="#ffa500" stroke-width="9" stroke-linejoin="round" stroke-linecap="butt" />
<path d="M700,469l2-0.1 2 0 2 0 2-0.1 2 0 2 0 2-0.1 2 0 2 0 2-0.1 2 0 2 0 2-0.1 2 0 2-0.1 2 0 2-0.1 2 0 2-0.1 2 0 2-0.1 2 0 2-0.1 2 0 2-0.1 2 0 2-0.1 2-0.1 2 0 2-0.1 2-0.1 2 0 2-0.1 2-0.1 2-0.1 2 0 2-0.1 2-0.1 2-0.1 2-0.1 2-0.1 2-0.1 2-0.1 2-0.1 2-0.1 2-0.1 2-0.2 2-0.1 2-0.1 2-0.2 2-0.1 2-0.2 2-0.1 2-0.2 2-0.2 2-0.1 2-0.2 2-0.2 2-0.2 2-0.3 2-0.2 2-0.2 2-0.3 2-0.3 2-0.2 2-0.3 2-0.3 2-0.4 2-0.3 2-0.4 2-0.4 2-0.4 2-0.4 2-0.5 2-0.5 2-0.5 2-0.6 2-0.6 2-0.6 2-0.7 2-0.8 2-0.8 2-0.8 2-0.9 2-1 2-1.1 2-1.2 2-1.3 2-1.3 2-1.5 2-1.7 2-1.8 2-2 2-2.1 2-2.4 2-2.7 2-2.9 2-3.3 2-3.6 2-4.1 2-4.5 2-5.1 2-5.8 2-6.5 2-7.4 2-8.3 2-9.4 2-10.7 2-12 2-13.5 2-15 2-16.5 2-17.9 2-18.7 2-19 2-18.1 2-16 2-12.4 2-7.4 2-1.5 2 4.5 2 10.1 2 14.3 2 17.3 2 18.7 2 18.9 2 18.4 2 17.2 2 15.8 2 14.2 2 12.8 2 11.3 2 10 2 8.9 2 7.8 2 6.9 2 6.2 2 5.4 2 4.8 2 4.3 2 3.9 2 3.4 2 3.1 2 2.8 2 2.5 2 2.3 2 2.1 2 1.8 2 1.8 2 1.5 2 1.5 2 1.3 2 1.2 2 1.1 2 1.1 2 0.9 2 0.9 2 0.8 2 0.8 2 0.7 2 0.7 2 0.6 2 0.6 2 0.5 2 0.6 2 0.4 2 0.5 2 0.4 2 0.4 2 0.4 2 0.4 2 0.3 2 0.3 2 0.3 2 0.3 2 0.3 2 0.2 2 0.3 2 0.2 2 0.3 2 0.2 2 0.2 2 0.2 2 0.1 2 0.2 2 0.2 2 0.2 2 0.1 2 0.2 2 0.1 2 0.1 2 0.2 2 0.1 2 0.1 2 0.1 2 0.1 2 0.2 2 0.1 2 0.1 2 0.1 2 0 2 0.1 2 0.1 2 0.1 2 0.1 2 0.1 2 0 2 0.1 2 0.1 2 0.1 2 0 2 0.1 2 0 2 0.1 2 0.1 2 0 2 0.1 2 0 2 0.1 2 0 2 0.1 2 0 2 0.1 2 0 2 0.1 2 0 2 0 2 0.1 2 0 2 0 2 0.1 2 0 2 0.1 2 0 2 0 2 0.1 2 0 2 0 2 0 2 0.1 2 0 2 0 2 0.1 2 0 2 0 2 0 2 0.1 2 0 2 0 2 0 2 0.1 2 0 2 0 2 0 2 0 2 0.1 2 0 2 0 2 0 2 0 2 0 2 0.1 2 0 2 0 2 0 2 0 2 0 2 0.1 2 0 2 0 2 0 2 0 2 0 2 0 2 0.1 2 0 2 0 2 0 2 0 2 0 2 0 2 0 2 0.1 2 0 2 0 2 0 2 0 2 0 2 0 2 0 2 0 2 0.1 2 0 2 0 2 0 2 0 2 0 2 0 2 0 2 0 2 0 2 0 2 0.1 2 0 2 0" fill="none" stroke="#228b22" stroke-width="9" stroke-linejoin="round" stroke-linecap="butt" />
<path d="M700,470.4l2 0 2 0 2 0 2 0 2 0 2 0 2 0 2 0 2 0 2 0 2 0 2 0 2 0 2 0 2 0 2 0 2 0 2 0 2 0 2 0 2 0 2-0.1 2 0 2 0 2 0 2 0 2 0 2 0 2 0 2 0 2 0 2 0 2 0 2 0 2 0 2 0 2 0 2 0 2 0 2 0 2 0 2 0 2 0 2-0.1 2 0 2 0 2 0 2 0 2 0 2 0 2 0 2 0 2 0 2 0 2 0 2 0 2 0 2 0 2 0 2-0.1 2 0 2 0 2 0 2 0 2 0 2 0 2 0 2 0 2 0 2 0 2 0 2-0.1 2 0 2 0 2 0 2 0 2 0 2 0 2 0 2 0 2 0 2-0.1 2 0 2 0 2 0 2 0 2 0 2 0 2 0 2-0.1 2 0 2 0 2 0 2 0 2 0 2-0.1 2 0 2 0 2 0 2 0 2 0 2-0.1 2 0 2 0 2 0 2 0 2-0.1 2 0 2 0 2 0 2-0.1 2 0 2 0 2 0 2-0.1 2 0 2 0 2-0.1 2 0 2 0 2-0.1 2 0 2 0 2-0.1 2 0 2-0.1 2 0 2 0 2-0.1 2 0 2-0.1 2 0 2-0.1 2 0 2-0.1 2-0.1 2 0 2-0.1 2-0.1 2 0 2-0.1 2-0.1 2-0.1 2 0 2-0.1 2-0.1 2-0.1 2-0.1 2-0.1 2-0.1 2-0.1 2-0.2 2-0.1 2-0.1 2-0.2 2-0.1 2-0.2 2-0.1 2-0.2 2-0.2 2-0.2 2-0.2 2-0.2 2-0.3 2-0.2 2-0.3 2-0.3 2-0.3 2-0.3 2-0.3 2-0.4 2-0.4 2-0.5 2-0.4 2-0.5 2-0.6 2-0.6 2-0.6 2-0.7 2-0.7 2-0.9 2-0.9 2-1 2-1 2-1.2 2-1.4 2-1.4 2-1.6 2-1.8 2-2 2-2.3 2-2.4 2-2.8 2-3.1 2-3.5 2-3.9 2-4.3 2-4.9 2-5.3 2-5.8 2-6.3 2-6.6 2-6.9 2-6.9 2-6.4 2-5.8 2-4.5 2-2.9 2-1 2 1 2 2.9 2 4.5 2 5.8 2 6.4 2 6.9 2 6.9 2 6.6 2 6.3 2 5.8 2 5.3 2 4.9 2 4.3 2 3.9 2 3.5 2 3.1 2 2.8 2 2.4 2 2.3 2 2 2 1.8 2 1.6 2 1.4 2 1.4 2 1.2 2 1 2 1 2 0.9 2 0.9 2 0.7 2 0.7 2 0.6 2 0.6 2 0.6 2 0.5 2 0.4 2 0.5 2 0.4 2 0.4 2 0.3 2 0.3 2 0.3 2 0.3 2 0.3 2 0.2 2 0.3 2 0.2 2 0.2 2 0.2 2 0.2 2 0.2 2 0.1 2 0.2 2 0.1 2 0.2 2 0.1 2 0.1 2 0.2 2 0.1 2 0.1 2 0.1 2 0.1 2 0.1 2 0.1 2 0.1 2 0 2 0.1 2 0.1 2 0.1 2 0 2 0.1 2 0.1 2 0 2 0.1 2 0.1 2 0 2 0.1 2 0 2 0.1 2 0 2 0.1 2 0 2 0 2 0.1 2 0 2 0.1 2 0 2 0 2 0.1 2 0 2 0 2 0.1 2 0 2 0 2 0.1 2 0" fill="none" stroke="#800080" stroke-width="9" stroke-linejoin="round" stroke-linecap="butt" />
<path d="M700,913.7l2-0.2 2 0.2 2-0.1 2-0.4 2-0.1 2 0.4 2-0.6 2-1.4 2-1.1 2-0.5 2-0.8 2-1.4 2-1.6 2-0.8 2-0.5 2-0.8 2-1.4 2-2 2-2 2-1.7 2-1.7 2-1.5 2-2.4 2-3.9 2-4.7 2-4.2 2-3.5 2-3.8 2-4.5 2-4.9 2-5.5 2-5.2 2-4.4 2-4.6 2-4.7 2-4.6 2-4.6 2-5 2-5.6 2-5.8 2-6.8 2-8.7 2-10.8 2-12.2 2-13.6 2-15.9 2-18.9 2-22.1 2-24 2-25 2-25.9 2-25.5 2-22.7 2-17.1 2-10 2-2.5 2 5.5 2 12.8 2 18.9 2 22.8 2 24.2 2 24.5 2 24.2 2 23.6 2 22.3 2 19.4 2 17.1 2 15.6 2 13.2 2 11.1 2 10 2 9.1 2 8.2 2 6.7 2 5.6 2 4.6 2 3.6 2 2.8 2 2.7 2 3.2 2 3.2 2 1.7 2 0.7 2 1.2 2 1.4 2 0.8 2 0.5 2 0.1 2 0.1 2 0.2 2 0.1 2-0.1 2-0.9 2-1.2 2-0.5 2-1.1 2-2.1 2-2.2 2-1.8 2-0.6 2 1.1 2 1.9 2 2.1 2 2.4 2 3 2 3.1 2 2.7 2 2.8 2 2.4 2 1.6 2 1.6 2 2 2 1.4 2 0.9 2 1 2 1.6 2 2.1 2 1.7 2 1.3 2 1.1 2 1 2 0.6 2 0.8 2 2.1 2 2.3 2 1.2 2 0.3 2 0.1 2 0.3 2 1.1 2 1.3 2 0.4 2 0.4 2 0.9 2 0.7 2 0.2 2-0.2 2 0.5 2 1.1 2 0.8 2 0.7 2 0.6 2 0.8 2 1.3 2 1.1 2 0.6 2 0.1 2-0.2 2 0.1 2 0 2-0.9 2-0.9 2 0.5 2 1.1 2-0.1 2-0.6 2-0.7 2 0.2 2 0.6 2-0.6 2-1.8 2-1.8 2-0.5 2-0.4 2-0.1 2 0.9 2 1.2 2 0.3 2-0.4 2 0 2 0.3 2 0 2-0.1 2-0.5 2-1 2-0.5 2 0 2 0.9 2 1.1 2 0.2 2-0.4 2 0.4 2 1.4 2 0.9 2-0.5 2-0.4 2 0.3 2 0.4 2 0.7 2 0.1 2-0.7 2-0.8 2-0.6 2 0.5 2 1.4 2 0.5 2-0.5 2 0.2 2 0.9 2 0.6 2 0.6 2 0.7 2 0.1 2-0.4 2-0.5 2-0.6 2-0.2 2 1.1 2 1.8 2 0.9 2 0.3 2 0.3 2 0.6 2 0.9 2 0.8 2 0.6 2 0.1 2-0.7 2-0.9 2-1.5 2-1 2 0.1 2 0.3 2-0.9 2-1.8 2-0.9 2-0.2 2 0.1 2 0.2 2 0.1 2 0.2 2 0.7 2 0.7 2 0.2 2 0 2 0.4 2 0.7 2 0.6 2-0.3 2-1.6 2-1.3 2 0.2 2 0.8 2 0.5 2 0.4 2-0.5 2-0.7 2-0.6 2-0.5 2 0.4 2 1.2 2 0.9 2 0.2 2-0.2 2 0.1 2 0.4 2 0.4 2 0.3 2-0.1 2 0 2 0.5 2 0.2 2-0.2 2 0.3 2 0 2-0.5 2-0.1 2 0.2 2-0.1 2 0.3 2 0.5 2-0.8 2-1.2 2-0.2 2-0.5 2-1.2 2-0.3 2 1 2 0.8 2-0.2 2-0.3 2 0.4 2 0.3 2-0.1 2 0.3 2 0.5 2 0 2-0.1 2-0.4 2-1.4 2-1.3 2-0.1 2 0.9 2 1 2 0.7 2 0.2 2-0.1 2 0.2 2 1.1 2 0.4 2-1.3 2-1.4 2 0.1 2 0.8 2 0.6" fill="none" stroke="#000000" stroke-width="9" stroke-linejoin="round" stroke-linecap="butt" />
<path d="M700,927.9l2 0.3 2 0.9 2 0.5 2 0.1 2 0.6 2 1.3 2-0.1 2-1.4 2-0.6 2 0.2 2-0.2 2-1.1 2-1.2 2 0.1 2 0.8 2 0.2 2-0.3 2-1 2-0.7 2-0.1 2 0.6 2 1 2 0.3 2-1.5 2-2.1 2-1 2 0.5 2 0.6 2-0.4 2-0.7 2-1.7 2-1.1 2-0.1 2-0.7 2-0.8 2-0.6 2-0.2 2-0.1 2 0.1 2 1.3 2 1.6 2 0.8 2 0.4 2 1 2 2 2 1.8 2 0.7 2-1 2-1 2-0.4 2-1 2-1.6 2-1.2 2 0.5 2 1.4 2 1.2 2 1.1 2 0.9 2 0.8 2 0.6 2-0.6 2-1 2-0.5 2 0.9 2 1.7 2 0.3 2 0 2 0.7 2-0.3 2-0.9 2-0.6 2 0.2 2 0.4 2-0.2 2-0.5 2-0.8 2-1.1 2-1.2 2-0.6 2 1.1 2 1.8 2 0 2-0.8 2 0.5 2 0.9 2 0.3 2-0.1 2-0.4 2-0.3 2 0 2 0.1 2 0 2-0.9 2-0.9 2 0.5 2-0.3 2-1.6 2-2 2-1.8 2-0.7 2 0.9 2 1.3 2 0.5 2 0.2 2 0.5 2 0.3 2-0.3 2-0.1 2-0.5 2-1.6 2-1.1 2-0.3 2-0.8 2-1.4 2-1 2 0.2 2 1.1 2 0.7 2 0.1 2 0.2 2 0 2-0.6 2 0 2 1.8 2 2.4 2 0.8 2-0.5 2-0.9 2-0.4 2 0.9 2 1.1 2-0.2 2 0 2 0.6 2 0.5 2-0.4 2-0.8 2 0.3 2 1.2 2 0.8 2 0.6 2 0.4 2 1 2 1.6 2 1.3 2 0.6 2-0.1 2-0.5 2-0.2 2-0.2 2-1.5 2-1.6 2 0.8 2 1.3 2-0.2 2-1 2-1.1 2 0.2 2 0.9 2-0.8 2-2.8 2-2.6 2-0.8 2-0.4 2-0.2 2 1.6 2 1.8 2 0.6 2-0.4 2 0.1 2 0.6 2 0.1 2 0 2-0.7 2-1.3 2-0.8 2 0.1 2 1.3 2 1.7 2 0.2 2-0.6 2 0.5 2 1.9 2 1.2 2-1.1 2-0.8 2 0.2 2 0.3 2 0.7 2 0 2-1.4 2-1.6 2-1.1 2 0.5 2 1.8 2 0.5 2-1 2 0 2 1.1 2 0.7 2 0.8 2 0.9 2 0 2-0.7 2-0.9 2-1 2-0.5 2 1.7 2 2.5 2 1.3 2 0.4 2 0.4 2 0.9 2 1.2 2 1.2 2 1 2 0 2-1.1 2-1.4 2-2.2 2-1.5 2 0.1 2 0.4 2-1.4 2-2.7 2-1.5 2-0.1 2 0.1 2 0.2 2 0.2 2 0.2 2 1.1 2 1 2 0.2 2 0 2 0.5 2 1.1 2 0.9 2-0.6 2-2.3 2-1.9 2 0.2 2 1.1 2 0.8 2 0.6 2-0.7 2-1.2 2-0.8 2-0.8 2 0.6 2 1.8 2 1.3 2 0.2 2-0.3 2 0.1 2 0.6 2 0.7 2 0.4 2-0.2 2 0 2 0.8 2 0.2 2-0.3 2 0.4 2 0 2-0.8 2-0.1 2 0.2 2-0.1 2 0.5 2 0.7 2-1.2 2-1.8 2-0.4 2-0.7 2-1.8 2-0.6 2 1.6 2 1.2 2-0.4 2-0.4 2 0.7 2 0.3 2 0 2 0.4 2 0.6 2 0 2-0.1 2-0.7 2-2 2-2 2-0.1 2 1.3 2 1.5 2 1.1 2 0.3 2-0.2 2 0.2 2 1.7 2 0.6 2-1.9 2-2.2 2 0.2 2 1.2 2 0.9" fill="none" stroke="#00e8f0" stroke-width="9" stroke-linejoin="round" stroke-linecap="butt" />
<path d="M700,914.2l2-0.4 2-0.4 2-0.4 2-0.4 2-0.5 2-0.5 2-0.5 2-0.6 2-0.6 2-0.6 2-0.7 2-0.7 2-0.7 2-0.8 2-0.9 2-0.9 2-1 2-1.1 2-1.1 2-1.2 2-1.4 2-1.4 2-1.5 2-1.7 2-1.9 2-2 2-2.1 2-2.4 2-2.6 2-2.9 2-3.2 2-3.5 2-3.8 2-4.3 2-4.8 2-5.4 2-6 2-6.7 2-7.6 2-8.5 2-9.6 2-11 2-12.3 2-14 2-15.8 2-17.7 2-19.7 2-21.8 2-23.5 2-24.9 2-25.4 2-24.4 2-22 2-17.4 2-11 2-3.3 2 4.8 2 12.2 2 18.3 2 22.5 2 24.6 2 25.1 2 24.5 2 23.1 2 21.2 2 19.1 2 17.1 2 15.2 2 13.4 2 11.8 2 10.4 2 9.1 2 8.1 2 7 2 6.3 2 5.4 2 4.8 2 4.3 2 3.7 2 3.2 2 2.8 2 2.4 2 2.1 2 1.7 2 1.4 2 1 2 0.8 2 0.5 2 0.1 2-0.2 2-0.4 2-0.8 2-1.1 2-1.3 2-1.4 2-1.6 2-1.6 2-1.3 2-1 2-0.3 2 0.3 2 1 2 1.7 2 2.3 2 2.8 2 2.9 2 3 2 3 2 2.8 2 2.7 2 2.5 2 2.2 2 2 2 1.8 2 1.7 2 1.5 2 1.3 2 1.2 2 1.1 2 1 2 0.9 2 0.8 2 0.8 2 0.7 2 0.6 2 0.6 2 0.5 2 0.5 2 0.5 2 0.4 2 0.4 2 0.4 2 0.4 2 0.3 2 0.3 2 0.3 2 0.3 2 0.2 2 0.3 2 0.2 2 0.2 2 0.2 2 0.2 2 0.2 2 0.2 2 0.2 2 0.1 2 0.2 2 0.1 2 0.2 2 0.1 2 0.2 2 0.1 2 0.1 2 0.1 2 0.1 2 0.1 2 0.1 2 0.1 2 0.1 2 0.1 2 0.1 2 0.1 2 0.1 2 0.1 2 0.1 2 0 2 0.1 2 0.1 2 0 2 0.1 2 0.1 2 0 2 0.1 2 0.1 2 0 2 0.1 2 0 2 0.1 2 0 2 0.1 2 0 2 0.1 2 0 2 0.1 2 0 2 0 2 0.1 2 0 2 0.1 2 0 2 0 2 0.1 2 0 2 0 2 0.1 2 0 2 0 2 0.1 2 0 2 0 2 0.1 2 0 2 0 2 0 2 0.1 2 0 2 0 2 0 2 0.1 2 0 2 0 2 0 2 0.1 2 0 2 0 2 0 2 0 2 0.1 2 0 2 0 2 0 2 0 2 0.1 2 0 2 0 2 0 2 0 2 0 2 0.1 2 0 2 0 2 0 2 0 2 0 2 0.1 2 0 2 0 2 0 2 0 2 0 2 0 2 0.1 2 0 2 0 2 0 2 0 2 0 2 0 2 0 2 0 2 0.1 2 0 2 0 2 0 2 0 2 0 2 0 2 0 2 0 2 0.1 2 0 2 0 2 0 2 0 2 0 2 0 2 0 2 0 2 0 2 0 2 0.1 2 0 2 0 2 0 2 0 2 0 2 0 2 0 2 0 2 0 2 0 2 0 2 0 2 0 2 0.1 2 0 2 0 2 0 2 0 2 0 2 0 2 0 2 0 2 0 2 0 2 0 2 0 2 0 2 0 2 0 2 0.1 2 0 2 0 2 0" fill="none" stroke="#1490ff" stroke-width="9" stroke-linejoin="round" stroke-linecap="butt" />
<path d="M700,914.6l2-0.4 2-0.4 2-0.4 2-0.4 2-0.5 2-0.5 2-0.5 2-0.5 2-0.6 2-0.6 2-0.7 2-0.7 2-0.7 2-0.8 2-0.9 2-0.9 2-1 2-1 2-1.1 2-1.2 2-1.4 2-1.4 2-1.5 2-1.7 2-1.8 2-2 2-2.1 2-2.4 2-2.6 2-2.8 2-3.2 2-3.5 2-3.8 2-4.3 2-4.7 2-5.4 2-5.9 2-6.7 2-7.6 2-8.5 2-9.6 2-10.9 2-12.3 2-13.9 2-15.7 2-17.7 2-19.7 2-21.7 2-23.5 2-24.9 2-25.2 2-24.5 2-21.8 2-17.4 2-10.9 2-3.3 2 4.9 2 12.4 2 18.4 2 22.5 2 24.7 2 25.3 2 24.6 2 23.2 2 21.3 2 19.3 2 17.3 2 15.3 2 13.6 2 12 2 10.6 2 9.4 2 8.3 2 7.4 2 6.5 2 5.8 2 5.3 2 4.6 2 4.2 2 3.8 2 3.4 2 3.1 2 2.8 2 2.5 2 2.3 2 2.1 2 2 2 1.8 2 1.6 2 1.5 2 1.4 2 1.3 2 1.2 2 1.1 2 1 2 1 2 0.9 2 0.8 2 0.8 2 0.8 2 0.7 2 0.6 2 0.6 2 0.6 2 0.5 2 0.5 2 0.5 2 0.5 2 0.4 2 0.4 2 0.4 2 0.4 2 0.3 2 0.4 2 0.3 2 0.3 2 0.3 2 0.2 2 0.3 2 0.2 2 0.3 2 0.2 2 0.2 2 0.2 2 0.2 2 0.2 2 0.2 2 0.2 2 0.1 2 0.2 2 0.2 2 0.1 2 0.2 2 0.1 2 0.1 2 0.2 2 0.1 2 0.1 2 0.1 2 0.1 2 0.1 2 0.1 2 0.1 2 0.1 2 0.1 2 0.1 2 0.1 2 0.1 2 0.1 2 0.1 2 0 2 0.1 2 0.1 2 0.1 2 0 2 0.1 2 0.1 2 0 2 0.1 2 0 2 0.1 2 0.1 2 0 2 0.1 2 0 2 0.1 2 0 2 0.1 2 0 2 0 2 0.1 2 0 2 0.1 2 0 2 0.1 2 0 2 0 2 0.1 2 0 2 0 2 0.1 2 0 2 0 2 0.1 2 0 2 0 2 0.1 2 0 2 0 2 0 2 0.1 2 0 2 0 2 0.1 2 0 2 0 2 0 2 0.1 2 0 2 0 2 0 2 0 2 0.1 2 0 2 0 2 0 2 0 2 0.1 2 0 2 0 2 0 2 0 2 0.1 2 0 2 0 2 0 2 0 2 0 2 0 2 0.1 2 0 2 0 2 0 2 0 2 0 2 0 2 0.1 2 0 2 0 2 0 2 0 2 0 2 0 2 0 2 0.1 2 0 2 0 2 0 2 0 2 0 2 0 2 0 2 0 2 0.1 2 0 2 0 2 0 2 0 2 0 2 0 2 0 2 0 2 0 2 0 2 0.1 2 0 2 0 2 0 2 0 2 0 2 0 2 0 2 0 2 0 2 0 2 0 2 0.1 2 0 2 0 2 0 2 0 2 0" fill="none" stroke="#ff0000" stroke-width="9" stroke-linejoin="round" stroke-linecap="butt" />
<path d="M700,924.6l2 0 2 0 2 0 2 0 2 0 2 0 2 0 2 0 2-0.1 2 0 2 0 2 0 2 0 2 0 2 0 2 0 2 0 2-0.1 2 0 2 0 2 0 2 0 2 0 2-0.1 2 0 2 0 2 0 2 0 2 0 2-0.1 2 0 2 0 2 0 2-0.1 2 0 2 0 2 0 2-0.1 2 0 2 0 2-0.1 2 0 2 0 2-0.1 2 0 2-0.1 2 0 2-0.1 2 0 2-0.1 2 0 2-0.1 2 0 2-0.1 2-0.1 2 0 2-0.1 2-0.1 2-0.1 2-0.1 2-0.1 2-0.1 2-0.1 2-0.2 2-0.1 2-0.2 2-0.1 2-0.2 2-0.2 2-0.2 2-0.2 2-0.3 2-0.2 2-0.3 2-0.4 2-0.3 2-0.4 2-0.4 2-0.5 2-0.6 2-0.6 2-0.6 2-0.8 2-0.8 2-0.9 2-1.1 2-1.2 2-1.3 2-1.5 2-1.7 2-1.8 2-2.1 2-2.3 2-2.4 2-2.5 2-2.5 2-2.5 2-2.2 2-1.7 2-1.1 2-0.4 2 0.4 2 1.1 2 1.7 2 2.2 2 2.5 2 2.5 2 2.5 2 2.4 2 2.3 2 2.1 2 1.8 2 1.7 2 1.5 2 1.3 2 1.2 2 1.1 2 0.9 2 0.8 2 0.8 2 0.6 2 0.6 2 0.6 2 0.5 2 0.4 2 0.4 2 0.3 2 0.4 2 0.3 2 0.2 2 0.3 2 0.2 2 0.2 2 0.2 2 0.2 2 0.1 2 0.2 2 0.1 2 0.2 2 0.1 2 0.1 2 0.1 2 0.1 2 0.1 2 0.1 2 0.1 2 0 2 0.1 2 0.1 2 0 2 0.1 2 0 2 0.1 2 0 2 0.1 2 0 2 0.1 2 0 2 0.1 2 0 2 0 2 0.1 2 0 2 0 2 0.1 2 0 2 0 2 0 2 0.1 2 0 2 0 2 0 2 0.1 2 0 2 0 2 0 2 0 2 0 2 0.1 2 0 2 0 2 0 2 0 2 0 2 0.1 2 0 2 0 2 0 2 0 2 0 2 0 2 0 2 0 2 0.1 2 0 2 0 2 0 2 0 2 0 2 0 2 0 2 0 2 0 2 0 2 0 2 0 2 0.1 2 0 2 0 2 0 2 0 2 0 2 0 2 0 2 0 2 0 2 0 2 0 2 0 2 0 2 0 2 0 2 0 2 0 2 0 2 0.1 2 0 2 0 2 0 2 0 2 0 2 0 2 0 2 0 2 0 2 0 2 0 2 0 2 0 2 0 2 0 2 0 2 0 2 0 2 0 2 0 2 0 2 0 2 0 2 0 2 0 2 0 2 0 2 0 2 0 2 0 2 0 2 0 2 0 2 0 2 0 2 0 2 0.1 2 0 2 0 2 0 2 0 2 0 2 0 2 0 2 0 2 0" fill="none" stroke="#ffa500" stroke-width="9" stroke-linejoin="round" stroke-linecap="butt" />
<path d="M1385,464.3l2 0.1 2-0.1 2 0 2 0.6 2 0.5 2 0 2 0 2 0 2-0.3 2-0.5 2-0.2 2 0.1 2 0.1 2-0.1 2-0.2 2-0.2 2-0.7 2-1.4 2-1.4 2-0.5 2 0 2 0.1 2 0 2 0.3 2 0.6 2 0.9 2 0.6 2 0.2 2 0.1 2 0 2 0 2-0.2 2-0.5 2-0.2 2-0.2 2-0.2 2 0 2-0.2 2-0.1 2-0.3 2-1 2-1 2-0.4 2-0.2 2-0.1 2 0.1 2-0.1 2-0.4 2-0.5 2-0.1 2 0.1 2 0 2-0.3 2-0.7 2-1 2-0.8 2-1 2-0.8 2 0 2 0.5 2 0.1 2-0.5 2-0.9 2-0.7 2-0.3 2 0.2 2 0 2-0.6 2-0.8 2-0.5 2-0.4 2-0.7 2-1.2 2-1.3 2-1.1 2-1.1 2-1.1 2-1.2 2-1.7 2-2.1 2-1.7 2-1.5 2-1.3 2-1.4 2-2.1 2-2 2-1.8 2-2.2 2-2.1 2-2.1 2-2.6 2-3.9 2-4.6 2-5.4 2-5.4 2-5.6 2-6 2-6.5 2-6.7 2-7.4 2-8.7 2-10.2 2-11.3 2-11.8 2-13.9 2-17.8 2-22.2 2-25.3 2-22.6 2-14.3 2-10.1 2-10.7 2-11.4 2-11.3 2-9.1 2-5.4 2-1 2 3.7 2 7.8 2 11.4 2 14.7 2 17.3 2 18 2 18.1 2 18.1 2 17.1 2 15.8 2 14.6 2 13.7 2 12.4 2 11.1 2 9.7 2 8.4 2 7.9 2 7.5 2 6.4 2 5 2 4.3 2 4.2 2 4 2 3.5 2 2.8 2 2.3 2 2.5 2 3.2 2 3.4 2 2.9 2 2.1 2 1.5 2 1.2 2 1.3 2 1.2 2 1.4 2 1.5 2 1.7 2 1.9 2 1.2 2 0.5 2 0.3 2 0.7 2 1.6 2 2 2 2.1 2 1.5 2 1 2 0.6 2 0.1 2 0 2 0.2 2 0.2 2 0 2-0.1 2-0.1 2 0 2 0.2 2-0.3 2-1.2 2-1.3 2-0.9 2-0.8 2-0.8 2-1.1 2-1.4 2-1.3 2-1.5 2-1.6 2-1.3 2-1.4 2-2.1 2-2.3 2-2.8 2-3.4 2-3.7 2-4.1 2-4.9 2-5.3 2-5.4 2-5.7 2-6.2 2-6.9 2-7.5 2-7.2 2-6.6 2-6.5 2-5.8 2-4.2 2-1.8 2 0.3 2 2.3 2 4.4 2 5.8 2 6.9 2 8 2 8.4 2 7.9 2 7.5 2 7.5 2 6.4 2 5 2 4.5 2 4.3 2 4.1 2 3.6 2 3 2 2.8 2 2.7 2 2.8 2 2.4 2 1.6 2 1.5 2 1.7 2 1.3 2 1.1 2 1.4 2 1.4 2 0.9 2 0.4 2 0.7 2 1.3 2 1.5 2 1.4 2 1.1 2 0.4 2 0.2 2 0.6 2 1 2 0.5 2 0.2 2 0.6 2 0.8 2 0.6 2 0.7 2 0.6 2 0 2-0.9 2-1.2 2-0.4 2 0.4 2 1 2 1.1 2 0.5 2-0.2 2-0.3 2-0.5 2-0.5 2 0.1 2 0.3 2 0.4 2 0.7 2 1.3 2 1.5 2 0.6 2-0.1 2-0.8 2-0.6 2-0.2 2 0 2 0.7 2 0.7 2-0.1 2-0.1 2 0.1 2-0.1 2-0.1 2-0.2 2-0.4 2-0.5 2-0.2 2 0 2 0.3 2 0.5 2 0.3 2 0 2-0.2 2-0.1 2-0.5 2-0.4 2 0 2 0.3 2 0.1 2 0 2-0.6 2-0.4 2 0 2 0.1" fill="none" stroke="#000000" stroke-width="9" stroke-linejoin="round" stroke-linecap="butt" />
<path d="M1385,471.6l2 0.1 2 0 2 0.1 2 1 2 0.9 2-0.1 2 0.2 2 0.1 2-0.4 2-0.6 2-0.2 2 0.3 2 0.2 2-0.1 2-0.1 2-0.2 2-0.9 2-2 2-2 2-0.7 2 0.2 2 0.2 2 0.2 2 0.6 2 1.1 2 1.5 2 1 2 0.5 2 0.4 2 0 2 0.3 2-0.1 2-0.6 2-0.1 2 0 2-0.2 2 0.2 2 0.1 2 0.1 2-0.3 2-1.2 2-1.3 2-0.3 2 0.1 2 0.2 2 0.3 2 0.3 2-0.2 2-0.4 2 0.2 2 0.5 2 0.4 2 0.1 2-0.7 2-0.9 2-0.7 2-1 2-0.7 2 0.5 2 1.4 2 0.8 2-0.1 2-0.6 2-0.3 2 0.3 2 1 2 1 2 0 2-0.3 2 0.3 2 0.6 2 0.1 2-0.6 2-0.7 2-0.2 2-0.2 2 0 2-0.1 2-0.7 2-1.1 2-0.5 2 0.2 2 0.5 2 0.4 2-0.2 2 0.2 2 0.6 2 0.4 2 0.8 2 1.4 2 0.8 2-0.5 2-1.2 2-1.6 2-1.1 2-0.5 2-0.4 2 0 2 0.6 2 1 2 0.5 2-0.2 2 0.4 2 2 2 2 2 0.2 2-1.4 2-1.3 2-0.2 2 0.2 2 0 2 0.5 2 0.8 2-0.1 2-0.4 2-0.3 2-0.4 2-0.4 2-0.8 2-1.2 2-0.6 2 0.4 2 0.1 2 0 2 0.6 2 0.5 2 0.2 2 0.2 2 0.7 2 0.7 2 0.6 2 0 2-0.3 2 0.2 2 0.9 2 0.4 2-0.6 2-1 2-0.4 2 0.1 2-0.2 2-0.7 2-0.9 2-0.4 2 1.1 2 1.6 2 1.1 2 0.2 2-0.7 2-0.9 2-0.7 2-0.6 2-0.3 2 0 2 0.5 2 0.7 2 0.1 2-1.1 2-1.4 2-0.4 2 0.8 2 1.7 2 2 2 1.2 2 0.4 2 0.1 2-0.6 2-0.6 2-0.2 2-0.1 2-0.2 2-0.2 2-0.1 2 0.1 2 0.5 2 0 2-1.3 2-1.3 2-0.6 2-0.3 2 0 2-0.3 2-0.6 2-0.2 2-0.3 2-0.2 2 0.6 2 0.8 2 0.2 2 0.2 2 0 2-0.4 2-0.2 2-0.1 2-0.6 2-0.5 2 0.3 2 0.7 2 0.7 2 0.3 2 0 2 0.5 2 0.9 2 0.1 2-0.7 2-0.7 2-0.3 2-0.4 2-0.6 2-0.3 2-0.4 2-0.3 2 0.6 2 0.9 2 0.5 2 0.5 2 1.1 2 0.4 2-0.8 2-0.9 2-0.4 2 0.1 2 0 2-0.3 2-0.3 2 0.1 2 0.6 2 0.5 2-0.4 2-0.3 2 0.1 2-0.2 2-0.2 2 0.3 2 0.5 2-0.2 2-0.7 2-0.2 2 0.7 2 1.3 2 1.1 2 0.6 2-0.2 2-0.4 2 0.1 2 0.7 2 0.2 2-0.3 2 0.2 2 0.7 2 0.5 2 0.5 2 0.4 2-0.4 2-1.8 2-2 2-1 2 0.2 2 1.1 2 1.4 2 0.4 2-0.5 2-0.7 2-1 2-1 2-0.1 2 0.2 2 0.3 2 0.9 2 1.7 2 2.1 2 0.8 2-0.4 2-1.3 2-1.1 2-0.5 2-0.1 2 0.9 2 0.8 2-0.2 2-0.3 2 0.1 2-0.4 2-0.2 2-0.3 2-0.9 2-0.7 2-0.4 2-0.1 2 0.3 2 0.6 2 0.5 2-0.2 2-0.3 2-0.3 2-0.8 2-0.8 2 0.1 2 0.2 2 0.2 2-0.2 2-0.8 2-0.7 2-0.1 2 0.1" fill="none" stroke="#00e8f0" stroke-width="9" stroke-linejoin="round" stroke-linecap="butt" />
<path d="M1385,463.8l2-0.1 2 0 2-0.1 2 0 2-0.1 2 0 2-0.1 2 0 2-0.1 2-0.1 2 0 2-0.1 2-0.1 2 0 2-0.1 2-0.1 2 0 2-0.1 2-0.1 2-0.1 2-0.1 2-0.1 2 0 2-0.1 2-0.1 2-0.1 2-0.1 2-0.1 2-0.2 2-0.1 2-0.1 2-0.1 2-0.1 2-0.2 2-0.1 2-0.2 2-0.1 2-0.2 2-0.1 2-0.2 2-0.2 2-0.1 2-0.2 2-0.2 2-0.2 2-0.2 2-0.2 2-0.3 2-0.2 2-0.3 2-0.2 2-0.3 2-0.3 2-0.3 2-0.3 2-0.3 2-0.4 2-0.3 2-0.4 2-0.4 2-0.4 2-0.5 2-0.4 2-0.5 2-0.5 2-0.6 2-0.6 2-0.6 2-0.6 2-0.7 2-0.7 2-0.8 2-0.8 2-0.9 2-0.9 2-1 2-1.1 2-1.1 2-1.3 2-1.3 2-1.4 2-1.5 2-1.6 2-1.8 2-1.9 2-2.1 2-2.3 2-2.4 2-2.7 2-2.9 2-3.2 2-3.5 2-3.9 2-4.3 2-4.7 2-5.2 2-5.8 2-6.4 2-7.2 2-8 2-9 2-10.1 2-11.5 2-13.2 2-15.2 2-17.9 2-21.3 2-24.4 2-22.5 2-14.3 2-10.2 2-11 2-11.9 2-11.2 2-8.8 2-5.2 2-0.7 2 4 2 8.4 2 12.3 2 15.2 2 17 2 18.1 2 18.2 2 17.9 2 16.9 2 16 2 14.7 2 13.4 2 12.2 2 11.1 2 9.9 2 9 2 8.1 2 7.2 2 6.6 2 5.9 2 5.3 2 4.8 2 4.3 2 3.9 2 3.6 2 3.2 2 2.9 2 2.7 2 2.5 2 2.2 2 2 2 1.9 2 1.7 2 1.6 2 1.4 2 1.3 2 1.2 2 1.1 2 1 2 0.9 2 0.8 2 0.8 2 0.6 2 0.7 2 0.5 2 0.5 2 0.4 2 0.3 2 0.3 2 0.3 2 0.2 2 0.1 2 0.1 2 0 2-0.1 2-0.1 2-0.2 2-0.2 2-0.3 2-0.4 2-0.5 2-0.5 2-0.7 2-0.8 2-0.9 2-1 2-1.1 2-1.4 2-1.5 2-1.7 2-1.9 2-2.2 2-2.4 2-2.8 2-3.2 2-3.5 2-4 2-4.5 2-5 2-5.6 2-6.1 2-6.7 2-7.2 2-7.4 2-7.5 2-7.3 2-6.5 2-5.3 2-3.7 2-1.7 2 0.6 2 2.7 2 4.6 2 6.1 2 7.1 2 7.7 2 7.7 2 7.6 2 7.2 2 6.7 2 6.1 2 5.6 2 5.1 2 4.5 2 4.1 2 3.6 2 3.3 2 2.9 2 2.6 2 2.4 2 2.1 2 1.9 2 1.8 2 1.5 2 1.5 2 1.3 2 1.1 2 1.1 2 1 2 0.9 2 0.9 2 0.7 2 0.8 2 0.6 2 0.7 2 0.5 2 0.6 2 0.5 2 0.4 2 0.5 2 0.4 2 0.4 2 0.3 2 0.4 2 0.3 2 0.3 2 0.3 2 0.3 2 0.2 2 0.3 2 0.2 2 0.2 2 0.2 2 0.2 2 0.2 2 0.2 2 0.2 2 0.2 2 0.1 2 0.2 2 0.1 2 0.2 2 0.1 2 0.1 2 0.1 2 0.2 2 0.1 2 0.1 2 0.1 2 0.1 2 0.1 2 0.1 2 0.1 2 0.1 2 0.1 2 0.1 2 0.1 2 0 2 0.1 2 0.1 2 0.1 2 0 2 0.1 2 0.1 2 0 2 0.1 2 0.1 2 0 2 0.1 2 0 2 0.1 2 0.1 2 0 2 0.1 2 0 2 0.1 2 0 2 0.1" fill="none" stroke="#1490ff" stroke-width="9" stroke-linejoin="round" stroke-linecap="butt" />
<path d="M1385,467l2 0 2 0 2 0 2 0 2 0 2 0 2 0 2 0 2 0 2 0 2 0.1 2 0 2 0 2 0 2 0 2 0 2 0 2 0 2 0 2 0 2 0 2 0 2 0 2 0 2 0 2 0 2 0 2 0.1 2 0 2 0 2 0 2 0 2 0 2 0 2 0 2 0 2 0 2 0 2 0 2 0 2 0 2 0 2 0 2 0 2 0 2 0.1 2 0 2 0 2 0 2 0 2 0 2 0 2 0 2 0 2 0 2 0 2 0 2 0 2 0 2 0 2 0 2 0 2 0 2 0 2 0 2 0 2 0 2 0 2 0 2 0 2 0 2 0 2 0 2 0 2 0 2 0 2 0 2 0 2 0 2 0 2 0 2 0 2 0 2-0.1 2 0 2 0 2 0 2-0.1 2 0 2 0 2-0.1 2-0.1 2 0 2-0.1 2-0.2 2-0.1 2-0.2 2-0.2 2-0.3 2-0.4 2-0.5 2-0.8 2-1 2-1.6 2-2.5 2-3.9 2-6.2 2-8 2-5.1 2 3.6 2 8 2 6.7 2 4.3 2 2.7 2 1.8 2 1.2 2 0.8 2 0.6 2 0.4 2 0.4 2 0.3 2 0.2 2 0.3 2 0.3 2 0.3 2 0.4 2 0.4 2 0.5 2 0.4 2 0.3 2 0.3 2 0.2 2 0.1 2 0.1 2 0.1 2 0.1 2 0 2 0.1 2 0 2 0 2 0 2 0 2 0.1 2 0 2 0 2 0 2 0 2 0 2 0.1 2 0 2 0 2 0 2 0 2 0 2 0 2 0 2 0 2 0.1 2 0 2 0 2 0 2 0 2 0 2 0 2 0 2 0 2 0 2 0 2 0.1 2 0 2 0 2 0 2 0 2 0 2 0 2 0 2 0 2 0 2 0 2 0 2 0 2 0.1 2 0 2 0 2 0 2 0 2 0 2 0 2 0 2 0 2 0 2 0 2 0 2 0 2 0 2 0 2 0 2-0.1 2 0 2-0.2 2-0.2 2-0.2 2-0.3 2-0.4 2-0.3 2-0.4 2-0.2 2-0.2 2-0.1 2-0.1 2 0 2-0.1 2 0 2 0 2 0 2 0 2 0 2 0 2 0 2 0 2 0 2 0 2 0 2 0.1 2 0 2 0 2 0 2 0 2 0 2 0 2 0 2 0 2 0 2 0 2 0 2 0 2 0 2 0 2 0.1 2 0 2 0 2 0 2 0 2 0 2 0 2 0 2 0 2 0 2 0 2 0 2 0 2 0 2 0 2 0.1 2 0 2 0 2 0 2 0 2 0 2 0 2 0 2 0 2 0 2 0 2 0 2 0 2 0 2 0 2 0.1 2 0 2 0 2 0 2 0 2 0 2 0 2 0 2 0 2 0 2 0 2 0 2 0 2 0 2 0 2 0.1 2 0 2 0 2 0 2 0 2 0 2 0 2 0 2 0 2 0 2 0 2 0 2 0 2 0 2 0 2 0.1 2 0 2 0 2 0 2 0 2 0 2 0" fill="none" stroke="#ffa500" stroke-width="9" stroke-linejoin="round" stroke-linecap="butt" />
<path d="M1385,464.1l2 0 2-0.1 2 0 2-0.1 2 0 2-0.1 2 0 2-0.1 2 0 2-0.1 2 0 2-0.1 2-0.1 2 0 2-0.1 2-0.1 2 0 2-0.1 2-0.1 2-0.1 2 0 2-0.1 2-0.1 2-0.1 2-0.1 2-0.1 2-0.1 2-0.1 2-0.1 2-0.1 2-0.1 2-0.1 2-0.2 2-0.1 2-0.1 2-0.2 2-0.1 2-0.1 2-0.2 2-0.2 2-0.1 2-0.2 2-0.2 2-0.2 2-0.2 2-0.2 2-0.2 2-0.2 2-0.2 2-0.3 2-0.2 2-0.3 2-0.3 2-0.2 2-0.3 2-0.4 2-0.3 2-0.3 2-0.4 2-0.4 2-0.4 2-0.4 2-0.5 2-0.5 2-0.5 2-0.5 2-0.6 2-0.6 2-0.6 2-0.6 2-0.8 2-0.7 2-0.8 2-0.9 2-0.9 2-1 2-1 2-1.1 2-1.2 2-1.3 2-1.4 2-1.5 2-1.6 2-1.7 2-1.9 2-2 2-2.2 2-2.4 2-2.6 2-2.9 2-3.1 2-3.5 2-3.7 2-4.2 2-4.5 2-5.1 2-5.5 2-6.2 2-6.9 2-7.6 2-8.4 2-9.4 2-10.4 2-11.5 2-12.7 2-13.9 2-15.2 2-16.3 2-17.3 2-18 2-18.1 2-17.7 2-16.2 2-13.9 2-10.5 2-6.3 2-1.4 2 3.4 2 8.1 2 12 2 14.9 2 17 2 17.9 2 18.1 2 17.8 2 17 2 15.9 2 14.6 2 13.5 2 12.2 2 11.1 2 10 2 9 2 8.1 2 7.3 2 6.6 2 5.9 2 5.4 2 4.8 2 4.4 2 4 2 3.7 2 3.3 2 3 2 2.8 2 2.5 2 2.4 2 2.1 2 2 2 1.8 2 1.7 2 1.6 2 1.5 2 1.3 2 1.3 2 1.2 2 1.1 2 1 2 0.9 2 0.9 2 0.9 2 0.8 2 0.7 2 0.7 2 0.7 2 0.6 2 0.6 2 0.6 2 0.5 2 0.5 2 0.5 2 0.5 2 0.4 2 0.4 2 0.4 2 0.4 2 0.3 2 0.4 2 0.3 2 0.3 2 0.3 2 0.3 2 0.3 2 0.2 2 0.3 2 0.2 2 0.2 2 0.3 2 0.2 2 0.2 2 0.2 2 0.2 2 0.1 2 0.2 2 0.2 2 0.2 2 0.1 2 0.2 2 0.1 2 0.2 2 0.1 2 0.1 2 0.2 2 0.1 2 0.1 2 0.1 2 0.1 2 0.1 2 0.1 2 0.2 2 0.1 2 0.1 2 0 2 0.1 2 0.1 2 0.1 2 0.1 2 0.1 2 0.1 2 0 2 0.1 2 0.1 2 0.1 2 0 2 0.1 2 0.1 2 0 2 0.1 2 0.1 2 0 2 0.1 2 0 2 0.1 2 0.1 2 0 2 0.1 2 0 2 0.1 2 0 2 0.1 2 0 2 0.1 2 0 2 0.1 2 0 2 0 2 0.1 2 0 2 0.1 2 0 2 0 2 0.1 2 0 2 0.1 2 0 2 0 2 0.1 2 0 2 0 2 0.1 2 0 2 0 2 0.1 2 0 2 0 2 0.1 2 0 2 0 2 0.1 2 0 2 0 2 0 2 0.1 2 0 2 0 2 0 2 0.1 2 0 2 0 2 0 2 0.1 2 0 2 0 2 0 2 0.1 2 0 2 0 2 0 2 0.1 2 0 2 0 2 0 2 0 2 0.1 2 0 2 0 2 0 2 0 2 0.1 2 0 2 0 2 0 2 0 2 0.1 2 0" fill="none" stroke="#228b22" stroke-width="9" stroke-linejoin="round" stroke-linecap="butt" />
<path d="M1385,466.7l2 0 2 0 2 0 2 0 2 0 2 0 2 0 2 0 2 0 2 0 2 0 2 0 2 0 2 0 2 0 2 0 2 0 2 0 2 0 2 0 2 0 2 0 2 0 2 0.1 2 0 2 0 2 0 2 0 2 0 2 0 2 0 2 0 2 0 2 0 2 0 2 0 2 0 2 0 2 0 2 0 2 0 2 0 2 0 2 0 2 0 2 0 2 0 2 0 2 0 2 0 2 0 2 0 2 0 2 0 2 0 2 0 2 0 2 0 2 0 2 0 2 0 2 0 2 0 2 0 2 0 2 0 2-0.1 2 0 2 0 2 0 2 0 2 0 2 0 2 0 2 0 2 0 2 0 2 0 2 0 2 0 2 0 2 0 2 0 2 0 2 0 2-0.1 2 0 2 0 2 0 2 0 2 0 2 0 2 0 2 0 2-0.1 2 0 2 0 2 0 2 0 2 0 2 0 2-0.1 2 0 2 0 2 0 2 0 2 0 2-0.1 2 0 2 0 2 0 2-0.1 2 0 2 0 2 0 2-0.1 2 0 2 0 2 0 2-0.1 2 0 2-0.1 2 0 2 0 2-0.1 2 0 2-0.1 2 0 2 0 2-0.1 2 0 2-0.1 2-0.1 2 0 2-0.1 2 0 2-0.1 2-0.1 2-0.1 2 0 2-0.1 2-0.1 2-0.1 2-0.1 2-0.1 2-0.1 2-0.1 2-0.1 2-0.1 2-0.1 2-0.2 2-0.1 2-0.2 2-0.1 2-0.2 2-0.2 2-0.1 2-0.2 2-0.3 2-0.2 2-0.2 2-0.3 2-0.2 2-0.3 2-0.3 2-0.3 2-0.4 2-0.4 2-0.4 2-0.4 2-0.5 2-0.5 2-0.5 2-0.6 2-0.6 2-0.7 2-0.7 2-0.8 2-0.9 2-1 2-1.1 2-1.1 2-1.3 2-1.4 2-1.6 2-1.7 2-1.9 2-2.2 2-2.4 2-2.6 2-3 2-3.3 2-3.8 2-4.1 2-4.7 2-5.2 2-5.7 2-6.3 2-6.8 2-7.3 2-7.6 2-7.6 2-7.4 2-6.6 2-5.5 2-3.8 2-1.7 2 0.4 2 2.6 2 4.6 2 6 2 7 2 7.5 2 7.7 2 7.5 2 7.1 2 6.6 2 6.1 2 5.5 2 5 2 4.5 2 4 2 3.5 2 3.2 2 2.9 2 2.6 2 2.3 2 2 2 1.9 2 1.7 2 1.5 2 1.3 2 1.3 2 1.1 2 1.1 2 0.9 2 0.9 2 0.8 2 0.7 2 0.7 2 0.6 2 0.6 2 0.5 2 0.5 2 0.5 2 0.4 2 0.4 2 0.4 2 0.3 2 0.4 2 0.3 2 0.3 2 0.2 2 0.3 2 0.2 2 0.3 2 0.2 2 0.2 2 0.2 2 0.2 2 0.1 2 0.2 2 0.2 2 0.1 2 0.2 2 0.1 2 0.1 2 0.2 2 0.1 2 0.1 2 0.1 2 0.1 2 0.1 2 0.1 2 0.1 2 0.1 2 0.1 2 0 2 0.1 2 0.1 2 0.1 2 0 2 0.1 2 0.1 2 0 2 0.1 2 0.1 2 0 2 0.1 2 0 2 0.1 2 0 2 0.1 2 0 2 0.1 2 0 2 0.1 2 0 2 0.1 2 0 2 0 2 0.1 2 0 2 0 2 0.1" fill="none" stroke="#800080" stroke-width="9" stroke-linejoin="round" stroke-linecap="butt" />
<path d="M1385,914.5l2 0.7 2 1.1 2 0.2 2-0.6 2-0.4 2 0.1 2-0.3 2-0.1 2 0.2 2-0.5 2-1.1 2-0.6 2 0.1 2 0.3 2 0.5 2 0 2 0.5 2 0.9 2-0.2 2-1.4 2-1 2-0.2 2 0.1 2 1 2 1.1 2 0 2-0.8 2-0.3 2-0.1 2-0.5 2-0.3 2 0 2-0.6 2-0.8 2-0.6 2-0.8 2-0.4 2 0.1 2 0.1 2 0.3 2 0.5 2 0.2 2 0.3 2 0.6 2 0.3 2-0.9 2-2 2-2.4 2-1.8 2-1.4 2-1.1 2-1.1 2-1.5 2-1.8 2-1.4 2-1 2-2 2-2.4 2-2 2-1 2-0.3 2-0.9 2-1.6 2-1.4 2-1.4 2-1.4 2-1.2 2-0.3 2 0.2 2 0.3 2-0.6 2-2.3 2-2.6 2-2.5 2-3.4 2-2.7 2-2.1 2-2.4 2-2.8 2-2.9 2-2.6 2-3.1 2-4.3 2-4.4 2-3.1 2-3.6 2-4.1 2-3.1 2-2.9 2-3.8 2-4.7 2-5.8 2-6.8 2-7.8 2-7.7 2-6.8 2-6.2 2-6.2 2-7.1 2-7.9 2-8.4 2-10.7 2-12.7 2-14.2 2-16.3 2-18.5 2-20.5 2-21.1 2-20.8 2-20.6 2-18.8 2-13.6 2-5.9 2 2.6 2 10.2 2 16.7 2 22.3 2 24.8 2 24.3 2 23.4 2 22.8 2 21.4 2 19.4 2 17.3 2 15.4 2 14.1 2 12.2 2 10.2 2 9.1 2 8.6 2 8 2 6.6 2 5.1 2 4.9 2 5.6 2 5.1 2 3.7 2 2.1 2 1.1 2 2 2 3.6 2 3.5 2 2.9 2 2.9 2 2.3 2 1.3 2 0.3 2-0.1 2 1.1 2 1.9 2 1.6 2 1.2 2 1.7 2 1.8 2 0.7 2 0 2 0.1 2 0.3 2 0.1 2 0.1 2 0.5 2 0.3 2 0 2 0.2 2 0 2-0.1 2 0.1 2-0.1 2-0.9 2-0.5 2-0.1 2-0.9 2-0.8 2 0.1 2 0 2-0.2 2-0.6 2-0.3 2-0.2 2-1.1 2-1.1 2-1.4 2-2.2 2-2.3 2-2.1 2-1.6 2-1.4 2-2.7 2-4.5 2-5.5 2-4.9 2-4.9 2-5 2-5.7 2-6.3 2-6.5 2-6.6 2-6.9 2-6.6 2-6 2-5.6 2-4.4 2-1.4 2 0.8 2 2.9 2 4.6 2 6.2 2 7.8 2 9.3 2 9.7 2 8.1 2 6.5 2 5.5 2 4.5 2 3.9 2 3.2 2 2.7 2 3.6 2 4.2 2 3.2 2 2.4 2 2.7 2 2.8 2 1.8 2 1.5 2 1.4 2 1.4 2 2 2 2.4 2 1.6 2 0.6 2 0.7 2 1.2 2 0.6 2 0.2 2 1 2 1.6 2 0.8 2 0.4 2 0.9 2 0.6 2 0.1 2-0.3 2-0.4 2 0.3 2 0.4 2 0.9 2 1.1 2 0.2 2-1.2 2-1.2 2 0 2 1 2 1.3 2 1.2 2 1.2 2 1.1 2 0.1 2-0.6 2-0.9 2-1.2 2-1.1 2-0.8 2-0.3 2 0.2 2 0.2 2-0.6 2-0.7 2 0.6 2 1 2 0.6 2 0.7 2 1.1 2 0.6 2 0 2-0.3 2 0.1 2 0.5 2 0.3 2 0.4 2 0.4 2 0.2 2 0.3 2 0.1 2-0.3 2-0.2 2-0.2 2 0.2 2 0.8 2 0.8 2-0.2 2-0.9 2-0.6 2-0.4 2-0.4 2-0.2 2 0.5 2 0.4 2 0.4 2 0.1 2 0 2 0.3 2 0.2 2-0.6 2-0.7" fill="none" stroke="#000000" stroke-width="9" stroke-linejoin="round" stroke-linecap="butt" />
<path d="M1385,922.2l2 1.1 2 1.9 2 0.4 2-0.8 2-0.4 2 0.3 2-0.3 2 0 2 0.5 2-0.6 2-1.5 2-0.7 2 0.4 2 0.7 2 0.9 2 0.3 2 1 2 1.5 2 0 2-1.9 2-1.2 2-0.1 2 0.6 2 1.6 2 2 2 0.4 2-0.9 2-0.2 2 0.2 2-0.4 2 0 2 0.3 2-0.5 2-0.7 2-0.5 2-0.7 2-0.1 2 0.5 2 0.7 2 1 2 1.3 2 0.9 2 1 2 1.6 2 1.1 2-0.6 2-2.2 2-2.8 2-1.8 2-1 2-0.6 2-0.3 2-0.8 2-1 2-0.2 2 0.4 2-0.7 2-1.3 2-0.4 2 1.1 2 2.2 2 1.2 2 0.1 2 0.1 2-0.1 2-0.3 2-0.2 2 1 2 1.7 2 1.9 2 0.6 2-1.9 2-2 2-1.7 2-2.5 2-1.2 2 0.2 2-0.1 2-0.2 2 0 2 0.7 2 0.5 2-1.2 2-0.9 2 1.4 2 0.8 2 0.5 2 2.3 2 2.7 2 1.7 2 0.7 2-0.5 2-1.9 2-3 2-2.3 2-0.6 2 1.1 2 1.7 2 1.5 2 1.6 2 2.2 2 0.9 2-0.2 2 0.2 2-0.2 2-0.9 2-1.3 2-0.5 2 0.4 2-1 2-2.4 2-2 2-0.4 2 1 2 0.8 2 0.6 2 1.7 2 1.4 2-0.8 2-1.6 2-0.5 2 0.2 2 0.2 2 0.1 2 0.2 2 1 2 0.4 2-0.4 2-0.2 2 0.6 2 1 2 0.3 2-1.2 2-0.3 2 1.5 2 1.4 2-0.1 2-2 2-2.9 2-1.1 2 1.5 2 1.8 2 1.3 2 1.4 2 0.8 2-0.5 2-1.8 2-2.2 2-0.2 2 1.2 2 0.7 2 0.4 2 1.2 2 1.5 2-0.1 2-1 2-0.7 2-0.4 2-0.6 2-0.5 2 0.3 2-0.1 2-0.4 2-0.1 2-0.2 2-0.3 2 0.1 2-0.3 2-1.2 2-0.6 2 0.1 2-0.8 2-0.8 2 0.7 2 0.8 2 0.5 2 0 2 0.7 2 1.1 2-0.1 2 0.1 2 0 2-1.1 2-0.9 2 0 2 1 2 1.6 2 0.5 2-1.8 2-2.6 2-1 2 0 2 0.5 2 0.5 2 0.3 2 0.9 2 1.3 2 0.9 2 1.1 2 0.9 2-0.3 2-1.2 2-0.2 2 0 2-0.6 2-0.7 2-0.5 2 0.7 2 2.3 2 3 2 0.9 2-0.7 2-1.3 2-2.1 2-2 2-2.1 2-2.2 2-0.1 2 1.3 2 0.3 2-0.3 2 0.5 2 1 2-0.2 2-0.3 2-0.2 2 0 2 1.1 2 2 2 0.8 2-0.5 2-0.3 2 0.5 2-0.2 2-0.7 2 0.6 2 1.4 2 0.4 2-0.1 2 0.6 2 0.3 2-0.5 2-1.1 2-1 2-0.1 2 0.2 2 0.8 2 1.3 2-0.2 2-2.2 2-2.2 2-0.3 2 1.2 2 1.7 2 1.5 2 1.6 2 1.2 2-0.1 2-1.1 2-1.6 2-1.9 2-2 2-1.3 2-0.7 2 0.2 2 0.1 2-1.1 2-1.2 2 0.7 2 1.4 2 0.7 2 0.9 2 1.5 2 0.8 2-0.1 2-0.6 2 0.1 2 0.5 2 0.4 2 0.5 2 0.4 2 0.3 2 0.4 2 0 2-0.6 2-0.4 2-0.3 2 0.2 2 1.1 2 1.2 2-0.5 2-1.3 2-1.1 2-0.6 2-0.7 2-0.3 2 0.6 2 0.6 2 0.5 2 0.1 2-0.1 2 0.5 2 0.1 2-0.9 2-1.2" fill="none" stroke="#00e8f0" stroke-width="9" stroke-linejoin="round" stroke-linecap="butt" />
<path d="M1385,916.9l2-0.1 2-0.1 2-0.1 2-0.1 2-0.1 2-0.1 2-0.1 2-0.1 2-0.1 2-0.2 2-0.1 2-0.1 2-0.1 2-0.2 2-0.1 2-0.2 2-0.1 2-0.2 2-0.1 2-0.2 2-0.2 2-0.2 2-0.2 2-0.1 2-0.2 2-0.3 2-0.2 2-0.2 2-0.2 2-0.3 2-0.2 2-0.3 2-0.2 2-0.3 2-0.3 2-0.3 2-0.3 2-0.3 2-0.4 2-0.3 2-0.4 2-0.4 2-0.4 2-0.4 2-0.5 2-0.4 2-0.5 2-0.5 2-0.6 2-0.5 2-0.6 2-0.6 2-0.7 2-0.7 2-0.7 2-0.7 2-0.8 2-0.9 2-0.9 2-0.9 2-1 2-1 2-1.1 2-1.2 2-1.3 2-1.3 2-1.4 2-1.5 2-1.5 2-1.7 2-1.8 2-1.9 2-2 2-2.1 2-2.3 2-2.4 2-2.6 2-2.7 2-2.9 2-3.1 2-3.2 2-3.5 2-3.6 2-3.8 2-4 2-4.2 2-4.4 2-4.6 2-4.8 2-5 2-5.1 2-5.4 2-5.6 2-5.8 2-6.1 2-6.4 2-6.9 2-7.4 2-8.1 2-8.9 2-10 2-11.2 2-12.6 2-14.3 2-16.1 2-18 2-19.6 2-20.7 2-21.1 2-20 2-17.2 2-12.3 2-5.7 2 2 2 9.7 2 16.3 2 21.1 2 23.9 2 24.9 2 24.4 2 23.2 2 21.3 2 19.2 2 17.2 2 15.3 2 13.5 2 11.9 2 10.5 2 9.2 2 8.2 2 7.3 2 6.5 2 5.7 2 5.2 2 4.6 2 4.2 2 3.7 2 3.4 2 3.1 2 2.8 2 2.5 2 2.3 2 2.1 2 1.9 2 1.8 2 1.6 2 1.5 2 1.4 2 1.2 2 1.2 2 1 2 1 2 0.9 2 0.8 2 0.7 2 0.7 2 0.6 2 0.6 2 0.4 2 0.5 2 0.4 2 0.3 2 0.2 2 0.3 2 0.1 2 0.1 2 0.1 2 0 2-0.1 2-0.1 2-0.1 2-0.3 2-0.3 2-0.4 2-0.5 2-0.5 2-0.7 2-0.8 2-0.9 2-1 2-1.2 2-1.3 2-1.6 2-1.7 2-2 2-2.3 2-2.5 2-3 2-3.3 2-3.8 2-4.2 2-4.9 2-5.3 2-6 2-6.6 2-7.1 2-7.4 2-7.6 2-7.3 2-6.6 2-5.3 2-3.6 2-1.4 2 0.9 2 3.2 2 5.1 2 6.5 2 7.4 2 7.8 2 7.7 2 7.5 2 6.9 2 6.4 2 5.8 2 5.3 2 4.6 2 4.2 2 3.7 2 3.4 2 2.9 2 2.6 2 2.4 2 2.1 2 1.9 2 1.7 2 1.5 2 1.4 2 1.3 2 1.1 2 1.1 2 0.9 2 0.9 2 0.8 2 0.8 2 0.7 2 0.6 2 0.6 2 0.5 2 0.5 2 0.5 2 0.4 2 0.5 2 0.3 2 0.4 2 0.3 2 0.4 2 0.3 2 0.2 2 0.3 2 0.3 2 0.2 2 0.2 2 0.2 2 0.3 2 0.1 2 0.2 2 0.2 2 0.2 2 0.1 2 0.2 2 0.1 2 0.2 2 0.1 2 0.1 2 0.2 2 0.1 2 0.1 2 0.1 2 0.1 2 0.1 2 0.1 2 0.1 2 0.1 2 0.1 2 0.1 2 0.1 2 0 2 0.1 2 0.1 2 0.1 2 0 2 0.1 2 0.1 2 0 2 0.1 2 0.1 2 0 2 0.1 2 0 2 0.1 2 0 2 0.1 2 0 2 0.1 2 0 2 0.1 2 0 2 0 2 0.1 2 0 2 0.1 2 0 2 0 2 0.1 2 0" fill="none" stroke="#1490ff" stroke-width="9" stroke-linejoin="round" stroke-linecap="butt" />
<path d="M1385,919.2l2 0 2-0.1 2 0 2-0.1 2-0.1 2 0 2-0.1 2-0.1 2 0 2-0.1 2-0.1 2-0.1 2 0 2-0.1 2-0.1 2-0.1 2-0.1 2-0.1 2-0.1 2-0.1 2-0.1 2-0.1 2-0.1 2-0.1 2-0.2 2-0.1 2-0.1 2-0.2 2-0.1 2-0.1 2-0.2 2-0.2 2-0.1 2-0.2 2-0.2 2-0.2 2-0.2 2-0.2 2-0.2 2-0.2 2-0.2 2-0.3 2-0.3 2-0.2 2-0.3 2-0.3 2-0.3 2-0.3 2-0.4 2-0.3 2-0.4 2-0.4 2-0.4 2-0.5 2-0.5 2-0.4 2-0.6 2-0.5 2-0.6 2-0.6 2-0.7 2-0.7 2-0.7 2-0.8 2-0.8 2-0.8 2-1 2-0.9 2-1.1 2-1.1 2-1.1 2-1.3 2-1.3 2-1.4 2-1.4 2-1.6 2-1.6 2-1.7 2-1.8 2-1.9 2-2 2-2 2-2.1 2-2.2 2-2.2 2-2.2 2-2.3 2-2.2 2-2.1 2-2 2-1.9 2-1.8 2-1.5 2-1.3 2-0.9 2-0.7 2-0.4 2 0 2 0.4 2 0.7 2 0.9 2 1.3 2 1.5 2 1.8 2 1.9 2 2 2 2.1 2 2.2 2 2.3 2 2.2 2 2.2 2 2.2 2 2.1 2 2 2 2 2 1.9 2 1.8 2 1.7 2 1.6 2 1.6 2 1.4 2 1.4 2 1.3 2 1.3 2 1.1 2 1.1 2 1.1 2 0.9 2 1 2 0.8 2 0.8 2 0.8 2 0.7 2 0.7 2 0.7 2 0.6 2 0.6 2 0.5 2 0.6 2 0.4 2 0.5 2 0.5 2 0.4 2 0.4 2 0.4 2 0.3 2 0.4 2 0.3 2 0.3 2 0.3 2 0.3 2 0.2 2 0.3 2 0.3 2 0.2 2 0.2 2 0.2 2 0.2 2 0.2 2 0.2 2 0.2 2 0.2 2 0.1 2 0.2 2 0.2 2 0.1 2 0.1 2 0.2 2 0.1 2 0.1 2 0.2 2 0.1 2 0.1 2 0.1 2 0.1 2 0.1 2 0.1 2 0.1 2 0.1 2 0.1 2 0.1 2 0.1 2 0 2 0.1 2 0.1 2 0.1 2 0 2 0.1 2 0.1 2 0 2 0.1 2 0.1 2 0 2 0.1 2 0 2 0.1 2 0 2 0.1 2 0 2 0.1 2 0 2 0.1 2 0 2 0.1 2 0 2 0 2 0.1 2 0 2 0.1 2 0 2 0 2 0.1 2 0 2 0 2 0.1 2 0 2 0 2 0.1 2 0 2 0 2 0 2 0.1 2 0 2 0 2 0.1 2 0 2 0 2 0 2 0 2 0.1 2 0 2 0 2 0 2 0.1 2 0 2 0 2 0 2 0 2 0.1 2 0 2 0 2 0 2 0 2 0 2 0.1 2 0 2 0 2 0 2 0 2 0 2 0.1 2 0 2 0 2 0 2 0 2 0 2 0 2 0 2 0.1 2 0 2 0 2 0 2 0 2 0 2 0 2 0 2 0.1 2 0 2 0 2 0 2 0 2 0 2 0 2 0 2 0 2 0 2 0.1 2 0 2 0 2 0 2 0 2 0 2 0 2 0 2 0 2 0 2 0 2 0.1 2 0 2 0 2 0 2 0 2 0 2 0 2 0 2 0 2 0 2 0 2 0 2 0 2 0 2 0 2 0.1 2 0 2 0" fill="none" stroke="#ffa500" stroke-width="9" stroke-linejoin="round" stroke-linecap="butt" />
<path d="M1385,920l2-0.1 2 0 2 0 2-0.1 2 0 2-0.1 2 0 2 0 2-0.1 2 0 2-0.1 2 0 2-0.1 2 0 2-0.1 2 0 2-0.1 2 0 2-0.1 2-0.1 2 0 2-0.1 2-0.1 2 0 2-0.1 2-0.1 2-0.1 2 0 2-0.1 2-0.1 2-0.1 2-0.1 2-0.1 2-0.1 2-0.1 2-0.1 2-0.1 2-0.1 2-0.2 2-0.1 2-0.1 2-0.1 2-0.2 2-0.1 2-0.2 2-0.2 2-0.1 2-0.2 2-0.2 2-0.2 2-0.2 2-0.2 2-0.2 2-0.2 2-0.3 2-0.2 2-0.3 2-0.3 2-0.3 2-0.3 2-0.3 2-0.4 2-0.4 2-0.4 2-0.4 2-0.4 2-0.5 2-0.5 2-0.5 2-0.6 2-0.6 2-0.6 2-0.7 2-0.8 2-0.8 2-0.8 2-1 2-0.9 2-1.1 2-1.2 2-1.3 2-1.3 2-1.5 2-1.7 2-1.8 2-1.9 2-2.2 2-2.4 2-2.6 2-2.9 2-3.2 2-3.7 2-4 2-4.5 2-5.1 2-5.8 2-6.5 2-7.4 2-8.4 2-9.6 2-10.9 2-12.5 2-14.1 2-16 2-18 2-19.9 2-21.7 2-23 2-23.3 2-22.2 2-19.3 2-14.5 2-7.7 2 0 2 7.7 2 14.5 2 19.3 2 22.2 2 23.3 2 23 2 21.7 2 19.9 2 18 2 16 2 14.1 2 12.5 2 10.9 2 9.6 2 8.4 2 7.4 2 6.5 2 5.8 2 5.1 2 4.5 2 4 2 3.7 2 3.2 2 2.9 2 2.6 2 2.4 2 2.2 2 1.9 2 1.8 2 1.7 2 1.5 2 1.3 2 1.3 2 1.2 2 1.1 2 0.9 2 1 2 0.8 2 0.8 2 0.8 2 0.7 2 0.6 2 0.6 2 0.6 2 0.5 2 0.5 2 0.5 2 0.4 2 0.4 2 0.4 2 0.4 2 0.4 2 0.3 2 0.3 2 0.3 2 0.3 2 0.3 2 0.2 2 0.3 2 0.2 2 0.2 2 0.2 2 0.2 2 0.2 2 0.2 2 0.2 2 0.1 2 0.2 2 0.2 2 0.1 2 0.2 2 0.1 2 0.1 2 0.1 2 0.2 2 0.1 2 0.1 2 0.1 2 0.1 2 0.1 2 0.1 2 0.1 2 0.1 2 0.1 2 0.1 2 0 2 0.1 2 0.1 2 0.1 2 0 2 0.1 2 0.1 2 0 2 0.1 2 0.1 2 0 2 0.1 2 0 2 0.1 2 0 2 0.1 2 0 2 0.1 2 0 2 0.1 2 0 2 0 2 0.1 2 0 2 0.1 2 0 2 0 2 0.1 2 0 2 0 2 0.1 2 0 2 0 2 0.1 2 0 2 0 2 0.1 2 0 2 0 2 0 2 0.1 2 0 2 0 2 0 2 0.1 2 0 2 0 2 0 2 0.1 2 0 2 0 2 0 2 0 2 0.1 2 0 2 0 2 0 2 0 2 0 2 0.1 2 0 2 0 2 0 2 0 2 0 2 0.1 2 0 2 0 2 0 2 0 2 0 2 0 2 0.1 2 0 2 0 2 0 2 0 2 0 2 0 2 0 2 0.1 2 0 2 0 2 0 2 0 2 0 2 0 2 0 2 0 2 0.1 2 0 2 0 2 0 2 0 2 0 2 0 2 0 2 0 2 0 2 0 2 0 2 0.1 2 0 2 0 2 0 2 0" fill="none" stroke="#228b22" stroke-width="9" stroke-linejoin="round" stroke-linecap="butt" />
<path d="M1385,921.7l2 0 2 0 2 0 2 0 2 0 2 0 2 0 2 0 2 0 2 0 2 0 2 0 2 0 2 0 2 0 2 0 2 0 2 0 2 0 2-0.1 2 0 2 0 2 0 2 0 2 0 2 0 2 0 2 0 2 0 2 0 2 0 2 0 2 0 2 0 2 0 2 0 2 0 2 0 2 0 2 0 2 0 2-0.1 2 0 2 0 2 0 2 0 2 0 2 0 2 0 2 0 2 0 2 0 2 0 2 0 2 0 2 0 2-0.1 2 0 2 0 2 0 2 0 2 0 2 0 2 0 2 0 2 0 2 0 2 0 2-0.1 2 0 2 0 2 0 2 0 2 0 2 0 2 0 2 0 2-0.1 2 0 2 0 2 0 2 0 2 0 2 0 2 0 2-0.1 2 0 2 0 2 0 2 0 2 0 2-0.1 2 0 2 0 2 0 2 0 2 0 2-0.1 2 0 2 0 2 0 2 0 2-0.1 2 0 2 0 2 0 2-0.1 2 0 2 0 2-0.1 2 0 2 0 2 0 2-0.1 2 0 2 0 2-0.1 2 0 2-0.1 2 0 2 0 2-0.1 2 0 2-0.1 2 0 2-0.1 2 0 2-0.1 2 0 2-0.1 2 0 2-0.1 2-0.1 2 0 2-0.1 2-0.1 2-0.1 2 0 2-0.1 2-0.1 2-0.1 2-0.1 2-0.1 2-0.1 2-0.1 2-0.1 2-0.1 2-0.2 2-0.1 2-0.2 2-0.1 2-0.2 2-0.1 2-0.2 2-0.2 2-0.2 2-0.2 2-0.3 2-0.2 2-0.3 2-0.2 2-0.3 2-0.3 2-0.4 2-0.3 2-0.4 2-0.4 2-0.5 2-0.5 2-0.5 2-0.6 2-0.6 2-0.7 2-0.7 2-0.8 2-0.9 2-0.9 2-1.1 2-1.2 2-1.3 2-1.4 2-1.6 2-1.8 2-1.9 2-2.2 2-2.5 2-2.8 2-3.1 2-3.5 2-4 2-4.4 2-5 2-5.6 2-6.1 2-6.7 2-7.2 2-7.6 2-7.7 2-7.5 2-6.7 2-5.5 2-3.7 2-1.5 2 0.9 2 3 2 5 2 6.4 2 7.3 2 7.7 2 7.6 2 7.4 2 6.8 2 6.4 2 5.7 2 5.1 2 4.6 2 4.1 2 3.7 2 3.2 2 2.9 2 2.5 2 2.3 2 2.1 2 1.8 2 1.6 2 1.5 2 1.4 2 1.2 2 1 2 1 2 0.9 2 0.9 2 0.7 2 0.7 2 0.6 2 0.6 2 0.6 2 0.5 2 0.4 2 0.5 2 0.4 2 0.3 2 0.4 2 0.3 2 0.3 2 0.3 2 0.2 2 0.3 2 0.2 2 0.2 2 0.2 2 0.2 2 0.2 2 0.2 2 0.1 2 0.2 2 0.1 2 0.2 2 0.1 2 0.1 2 0.2 2 0.1 2 0.1 2 0.1 2 0.1 2 0.1 2 0.1 2 0 2 0.1 2 0.1 2 0.1 2 0 2 0.1 2 0.1 2 0 2 0.1 2 0.1 2 0 2 0.1 2 0 2 0.1 2 0 2 0.1 2 0 2 0.1 2 0 2 0 2 0.1 2 0 2 0 2 0.1 2 0 2 0 2 0.1 2 0 2 0 2 0.1 2 0 2 0 2 0 2 0.1 2 0 2 0 2 0 2 0.1" fill="none" stroke="#800080" stroke-width="9" stroke-linejoin="round" stroke-linecap="butt" />
<path d="M156.0,343.0 V351.0" stroke="#ff0d0d" stroke-width="6.5" stroke-linecap="butt" fill="none"/>
<path d="M156.0,343.5 V945.0" stroke="#ff0d0d" stroke-width="6.5" stroke-dasharray="12 19.2" stroke-linecap="round" fill="none"/>
<path d="M233.0,182.0 V190.0" stroke="#ff6a10" stroke-width="6.5" stroke-linecap="butt" fill="none"/>
<path d="M233.0,182.5 V945.0" stroke="#ff6a10" stroke-width="6.5" stroke-dasharray="12 19.2" stroke-linecap="round" fill="none"/>
<path d="M250.5,56.0 V64.0" stroke="#0a7d1c" stroke-width="6.5" stroke-linecap="butt" fill="none"/>
<path d="M250.5,56.5 V945.0" stroke="#0a7d1c" stroke-width="6.5" stroke-dasharray="12 19.2" stroke-linecap="round" fill="none"/>
<path d="M432.0,279.5 V287.5" stroke="#7a0ca8" stroke-width="6.5" stroke-linecap="butt" fill="none"/>
<path d="M432.0,280.0 V945.0" stroke="#7a0ca8" stroke-width="6.5" stroke-dasharray="12 19.2" stroke-linecap="round" fill="none"/>
<path d="M811.8,348.0 V356.0" stroke="#ff0d0d" stroke-width="6.5" stroke-linecap="butt" fill="none"/>
<path d="M811.8,348.5 V945.0" stroke="#ff0d0d" stroke-width="6.5" stroke-dasharray="12 19.2" stroke-linecap="round" fill="none"/>
<path d="M923.3,186.0 V194.0" stroke="#ff6a10" stroke-width="6.5" stroke-linecap="butt" fill="none"/>
<path d="M923.3,186.5 V945.0" stroke="#ff6a10" stroke-width="6.5" stroke-dasharray="12 19.2" stroke-linecap="round" fill="none"/>
<path d="M940.4,60.0 V68.0" stroke="#0a7d1c" stroke-width="6.5" stroke-linecap="butt" fill="none"/>
<path d="M940.4,60.5 V945.0" stroke="#0a7d1c" stroke-width="6.5" stroke-dasharray="12 19.2" stroke-linecap="round" fill="none"/>
<path d="M1118.3,284.0 V292.0" stroke="#7a0ca8" stroke-width="6.5" stroke-linecap="butt" fill="none"/>
<path d="M1118.3,284.5 V945.0" stroke="#7a0ca8" stroke-width="6.5" stroke-dasharray="12 19.2" stroke-linecap="round" fill="none"/>
<path d="M1527.5,341.5 V349.5" stroke="#ff0d0d" stroke-width="6.5" stroke-linecap="butt" fill="none"/>
<path d="M1527.5,342.0 V943.0" stroke="#ff0d0d" stroke-width="6.5" stroke-dasharray="12 19.2" stroke-linecap="round" fill="none"/>
<path d="M1604.0,181.0 V189.0" stroke="#ff6a10" stroke-width="6.5" stroke-linecap="butt" fill="none"/>
<path d="M1604.0,181.5 V943.0" stroke="#ff6a10" stroke-width="6.5" stroke-dasharray="12 19.2" stroke-linecap="round" fill="none"/>
<path d="M1619.0,54.5 V62.5" stroke="#0a7d1c" stroke-width="6.5" stroke-linecap="butt" fill="none"/>
<path d="M1619.0,55.0 V943.0" stroke="#0a7d1c" stroke-width="6.5" stroke-dasharray="12 19.2" stroke-linecap="round" fill="none"/>
<path d="M1800.4,277.0 V285.0" stroke="#7a0ca8" stroke-width="6.5" stroke-linecap="butt" fill="none"/>
<path d="M1800.4,277.5 V943.0" stroke="#7a0ca8" stroke-width="6.5" stroke-dasharray="12 19.2" stroke-linecap="round" fill="none"/>
<path d="M17.5,948.5 H628.0" stroke="#000" stroke-width="4.8" fill="none"/>
<path d="M46.1,948.5 V958.5 M115.3,948.5 V958.5 M184.5,948.5 V968.0 M253.7,948.5 V958.5 M322.9,948.5 V958.5 M392.1,948.5 V958.5 M461.3,948.5 V968.0 M530.5,948.5 V958.5 M599.7,948.5 V958.5" stroke="#000" stroke-width="4.8" fill="none"/>
<text x="184.5" y="1022.5" font-family="'Liberation Sans', Arial, Helvetica, sans-serif" font-size="48.5" font-weight="normal" fill="#000" text-anchor="middle" >-62.0</text>
<text x="462.8" y="1022.5" font-family="'Liberation Sans', Arial, Helvetica, sans-serif" font-size="48.5" font-weight="normal" fill="#000" text-anchor="middle" >-62.5</text>
<text x="194.4" y="1093.0" font-size="52" fill="#000" font-family="'Liberation Sans', Arial, Helvetica, sans-serif"><tspan font-family="'Liberation Serif', 'Times New Roman', serif" font-size="52">δ</tspan><tspan x="229.9" dy="-27" font-size="33">19</tspan><tspan x="268.9" dy="27">F (ppm)</tspan></text>
<path d="M700.0,948.5 H1312.0" stroke="#000" stroke-width="4.8" fill="none"/>
<path d="M727.5,948.5 V958.5 M796.9,948.5 V958.5 M866.4,948.5 V968.0 M935.9,948.5 V958.5 M1005.3,948.5 V958.5 M1074.8,948.5 V958.5 M1144.3,948.5 V968.0 M1213.8,948.5 V958.5 M1283.2,948.5 V958.5" stroke="#000" stroke-width="4.8" fill="none"/>
<text x="869.9" y="1022.5" font-family="'Liberation Sans', Arial, Helvetica, sans-serif" font-size="48.5" font-weight="normal" fill="#000" text-anchor="middle" >-62.0</text>
<text x="1149.3" y="1022.5" font-family="'Liberation Sans', Arial, Helvetica, sans-serif" font-size="48.5" font-weight="normal" fill="#000" text-anchor="middle" >-62.5</text>
<text x="870.5" y="1091.5" font-size="52" fill="#000" font-family="'Liberation Sans', Arial, Helvetica, sans-serif"><tspan font-family="'Liberation Serif', 'Times New Roman', serif" font-size="52">δ</tspan><tspan x="906.0" dy="-27" font-size="33">19</tspan><tspan x="945.0" dy="27">F (ppm)</tspan></text>
<path d="M1385.5,946.5 H1996.0" stroke="#000" stroke-width="4.8" fill="none"/>
<path d="M1413.7,946.5 V956.5 M1483.0,946.5 V956.5 M1552.3,946.5 V966.0 M1621.6,946.5 V956.5 M1690.9,946.5 V956.5 M1760.2,946.5 V956.5 M1829.5,946.5 V966.0 M1898.8,946.5 V956.5 M1968.1,946.5 V956.5" stroke="#000" stroke-width="4.8" fill="none"/>
<text x="1553.6" y="1020.5" font-family="'Liberation Sans', Arial, Helvetica, sans-serif" font-size="48.5" font-weight="normal" fill="#000" text-anchor="middle" letter-spacing="2.6">-62.0</text>
<text x="1832.3" y="1020.5" font-family="'Liberation Sans', Arial, Helvetica, sans-serif" font-size="48.5" font-weight="normal" fill="#000" text-anchor="middle" letter-spacing="2.6">-62.5</text>
<text x="1557.9" y="1091.0" font-size="52" fill="#000" font-family="'Liberation Sans', Arial, Helvetica, sans-serif"><tspan font-family="'Liberation Serif', 'Times New Roman', serif" font-size="52">δ</tspan><tspan x="1593.4" dy="-27" font-size="33">19</tspan><tspan x="1632.4" dy="27">F (ppm)</tspan></text>
<text x="227.0" y="36.0" font-family="'Liberation Sans', Arial, Helvetica, sans-serif" font-size="43" font-weight="bold" fill="#0b5f0f" text-anchor="start" >P2</text>
<text x="181.0" y="173.0" font-family="'Liberation Sans', Arial, Helvetica, sans-serif" font-size="43" font-weight="bold" fill="#ff6a13" text-anchor="start" >P3</text>
<text x="406.0" y="259.0" font-family="'Liberation Sans', Arial, Helvetica, sans-serif" font-size="43" font-weight="bold" fill="#7a0aa0" text-anchor="start" >P1</text>
<text x="126.5" y="326.0" font-family="'Liberation Sans', Arial, Helvetica, sans-serif" font-size="43" font-weight="bold" fill="#ff0000" text-anchor="start" >P4</text>
<text x="911.0" y="37.0" font-family="'Liberation Sans', Arial, Helvetica, sans-serif" font-size="43" font-weight="bold" fill="#0b5f0f" text-anchor="start" >P2</text>
<text x="864.5" y="178.0" font-family="'Liberation Sans', Arial, Helvetica, sans-serif" font-size="43" font-weight="bold" fill="#ff6a13" text-anchor="start" >P3</text>
<text x="1092.0" y="263.0" font-family="'Liberation Sans', Arial, Helvetica, sans-serif" font-size="43" font-weight="bold" fill="#7a0aa0" text-anchor="start" >P1</text>
<text x="785.0" y="334.0" font-family="'Liberation Sans', Arial, Helvetica, sans-serif" font-size="43" font-weight="bold" fill="#ff0000" text-anchor="start" >P4</text>
<text x="1598.0" y="33.5" font-family="'Liberation Sans', Arial, Helvetica, sans-serif" font-size="43" font-weight="bold" fill="#0b5f0f" text-anchor="start" >P2</text>
<text x="1551.5" y="171.5" font-family="'Liberation Sans', Arial, Helvetica, sans-serif" font-size="43" font-weight="bold" fill="#ff6a13" text-anchor="start" >P3</text>
<text x="1776.5" y="257.0" font-family="'Liberation Sans', Arial, Helvetica, sans-serif" font-size="43" font-weight="bold" fill="#7a0aa0" text-anchor="start" >P1</text>
<text x="1497.5" y="325.0" font-family="'Liberation Sans', Arial, Helvetica, sans-serif" font-size="43" font-weight="bold" fill="#ff0000" text-anchor="start" >P4</text>
<text x="9.5" y="265.0" font-family="'Liberation Sans', Arial, Helvetica, sans-serif" font-size="60" font-weight="bold" fill="#000" text-anchor="start" >a</text>
<text x="-2.0" y="694.0" font-family="'Liberation Sans', Arial, Helvetica, sans-serif" font-size="60" font-weight="bold" fill="#000" text-anchor="start" >b</text>
<text x="707.0" y="264.0" font-family="'Liberation Sans', Arial, Helvetica, sans-serif" font-size="60" font-weight="bold" fill="#000" text-anchor="start" >c</text>
<text x="706.0" y="703.0" font-family="'Liberation Sans', Arial, Helvetica, sans-serif" font-size="60" font-weight="bold" fill="#000" text-anchor="start" >d</text>
<text x="1385.0" y="264.0" font-family="'Liberation Sans', Arial, Helvetica, sans-serif" font-size="60" font-weight="bold" fill="#000" text-anchor="start" >e</text>
<text x="1392.5" y="703.5" font-family="'Liberation Sans', Arial, Helvetica, sans-serif" font-size="60" font-weight="bold" fill="#000" text-anchor="start" >f</text>
<text x="71.3" y="1227.5" font-family="'Liberation Sans', Arial, Helvetica, sans-serif" font-size="61" font-weight="bold" fill="#000" text-anchor="start" >g</text>
</svg>
</body></html>
